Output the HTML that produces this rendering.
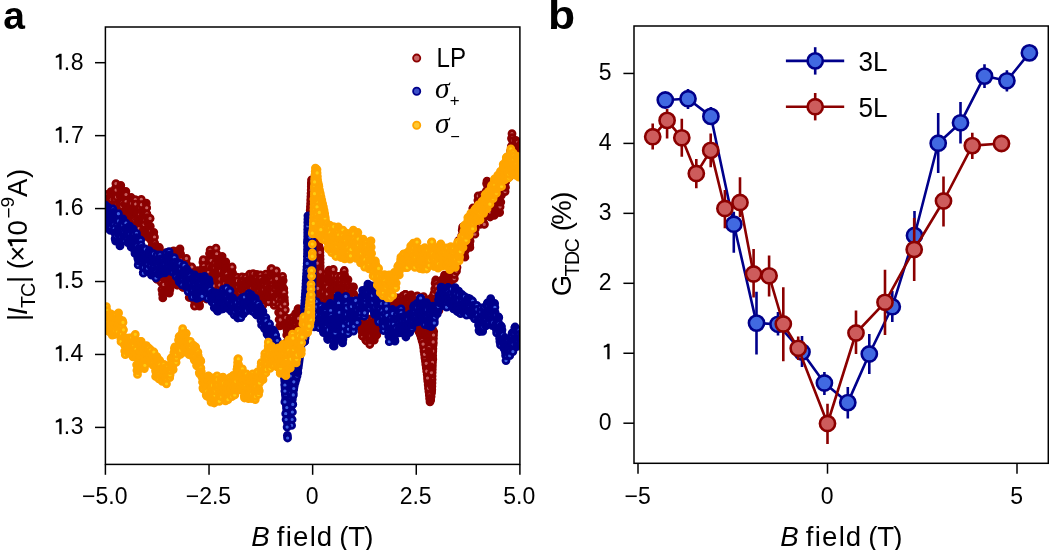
<!DOCTYPE html><html><head><meta charset="utf-8"><style>html,body{margin:0;padding:0;background:#fff;overflow:hidden}svg{display:block;will-change:transform}</style></head><body><svg width="1049" height="550" viewBox="0 0 1049 550" font-family='"Liberation Sans", sans-serif'>
<rect width="1049" height="550" fill="#fff"/>
<text x="3.36" y="29.10" font-size="39" font-weight="bold" font-family='"Liberation Sans", sans-serif'>a</text>
<text x="0" y="0" font-size="40" font-weight="bold" font-family='"Liberation Sans", sans-serif' transform="translate(547.89,29.10) scale(1.11,1)">b</text>
<clipPath id="ca"><rect x="105.4" y="27" width="414.5" height="437.4"/></clipPath>
<g clip-path="url(#ca)">
<path d="M311.1,239.9 L310.5,260.2 L310.5,260.3 L308.0,310.3 L308.0,310.6 L306.6,324.0 L307.2,324.0 L319.3,309.8 L319.3,309.5 L319.4,308.9 L319.5,308.3 L319.7,307.8 L319.9,307.2 L320.2,306.7 L320.6,306.2 L321.0,305.8 L321.4,305.4 L321.9,305.0 L322.4,304.7 L322.9,304.5 L323.5,304.3 L324.1,304.1 L324.7,304.0 L325.3,304.0 L327.9,304.0 L330.8,301.7 L335.4,296.2 L335.8,295.7 L336.2,295.3 L336.7,295.0 L337.2,294.7 L337.7,294.4 L338.3,294.3 L338.8,294.1 L339.4,294.0 L340.0,294.0 L350.0,294.0 L350.6,294.0 L350.8,294.1 L350.0,290.0 L350.0,290.0 L349.4,290.0 L348.8,289.9 L348.2,289.7 L347.7,289.5 L347.1,289.3 L346.6,289.0 L346.1,288.6 L345.7,288.2 L345.3,287.7 L345.0,287.2 L344.7,286.7 L344.4,286.2 L344.2,285.6 L340.4,272.0 L324.4,272.0 L323.8,272.0 L323.3,271.9 L322.7,271.7 L322.1,271.6 L321.6,271.3 L321.1,271.0 L320.6,270.7 L320.2,270.3 L319.8,269.9 L319.5,269.4 L319.2,268.9 L318.9,268.4 L318.7,267.8 L318.5,267.3 L318.4,266.7 L318.4,266.1 L318.0,247.6 L312.6,242.3 L312.2,241.9 L311.9,241.4 L311.5,240.9 L311.3,240.4ZM358.7,317.8 L360.7,331.5 L364.2,335.7 L368.7,339.3 L369.2,339.7 L369.7,339.1 L374.3,328.1 L376.3,319.9 L372.2,321.6 L371.7,321.8 L371.1,321.9 L370.6,322.0 L370.0,322.0 L365.0,322.0 L364.4,322.0 L363.8,321.9 L363.3,321.7 L362.7,321.6 L362.2,321.3 L361.7,321.0 L361.2,320.7 L360.8,320.3 L360.4,319.8ZM391.2,304.0 L393.8,304.0 L397.8,302.4 L398.3,302.2 L398.9,302.1 L399.5,302.0 L400.0,302.0 L400.6,302.0 L401.2,302.1 L401.8,302.3 L402.3,302.5 L402.8,302.7 L403.3,303.0 L403.8,303.4 L404.2,303.8 L407.5,307.0 L410.0,307.0 L410.6,307.0 L411.2,307.1 L411.8,307.3 L412.3,307.5 L412.8,307.7 L413.4,308.0 L413.8,308.4 L414.3,308.8 L414.7,309.2 L415.0,309.7 L415.3,310.2 L415.6,310.7 L415.8,311.3 L419.2,323.0 L419.3,323.5 L419.4,324.1 L419.4,324.7 L419.4,325.3 L419.3,325.9 L419.1,326.5 L419.1,326.6 L421.6,332.8 L421.7,333.3 L423.2,338.3 L423.3,338.5 L425.1,345.7 L425.2,346.3 L426.9,359.2 L428.9,374.2 L429.0,374.4 L430.1,385.7 L430.3,378.2 L430.3,378.1 L434.0,298.7 L434.1,298.2 L434.2,297.6 L434.3,297.1 L434.5,296.5 L434.8,296.0 L435.1,295.5 L435.4,295.1 L435.8,294.7 L436.3,294.3 L441.0,290.5 L445.1,286.4 L449.3,278.0 L434.6,278.0 L430.8,291.6 L430.6,292.2 L430.3,292.8 L430.0,293.3 L429.6,293.8 L429.2,294.3 L428.7,294.7 L423.7,298.7 L423.3,299.0 L422.8,299.3 L422.3,299.6 L421.7,299.7 L421.2,299.9 L420.6,300.0 L420.0,300.0 L419.4,300.0 L418.9,299.9 L418.3,299.8 L417.8,299.6 L409.4,296.2 L407.6,296.6 L403.7,299.7 L403.3,300.0 L402.8,300.3 L402.3,300.6 L401.7,300.8 L401.1,300.9 L400.6,301.0 L400.0,301.0 L396.7,301.0 L393.1,303.1 L392.7,303.4 L392.2,303.6ZM458.5,256.5 L460.5,255.5 L469.6,237.3 L469.9,236.8 L474.9,228.8 L475.3,228.3 L475.7,227.8 L476.2,227.4 L476.7,227.0 L478.9,225.5 L482.1,221.6 L484.9,216.9 L485.2,216.4 L485.5,216.0 L485.9,215.6 L486.3,215.3 L486.8,214.9 L487.3,214.7 L487.8,214.4 L492.3,212.6 L494.8,211.1 L499.2,193.5 L499.2,193.5 L506.2,167.3 L504.9,168.6 L500.4,177.7 L500.1,178.1 L499.9,178.5 L494.9,185.5 L494.5,186.0 L494.1,186.4 L493.7,186.8 L493.2,187.1 L492.6,187.4 L492.1,187.6 L491.5,187.8 L491.0,187.9 L490.4,188.0 L489.8,188.0 L489.2,187.9 L488.6,187.8 L488.0,187.7 L487.5,187.4 L487.0,187.2 L486.9,187.1 L485.8,191.5 L485.7,192.0 L485.4,192.6 L485.1,193.1 L484.8,193.6 L484.4,194.0 L484.0,194.4 L483.6,194.8 L483.1,195.1 L479.8,197.1 L475.5,207.3 L475.4,207.7 L470.4,217.6 L466.5,226.4 L466.2,227.0 L465.9,227.5 L465.5,228.0 L465.0,228.4 L464.6,228.8 L464.0,229.2 L463.5,229.5 L463.2,229.6 L460.9,241.1ZM512.1,152.5 L512.1,152.4 L512.6,152.1 L513.1,151.7 L513.6,151.5 L514.2,151.3 L514.8,151.1 L515.4,151.0 L516.0,151.0 L517.0,151.0 L517.0,147.2 L516.7,147.0 L516.2,146.6 L515.8,146.2 L513.2,143.7ZM109.0,219.7 L110.0,219.9 L113.8,219.1 L114.4,219.0 L115.0,219.0 L115.6,219.0 L116.2,219.1 L116.7,219.3 L117.3,219.5 L117.8,219.7 L118.3,220.0 L118.8,220.4 L119.2,220.8 L128.0,229.5 L131.2,230.1 L131.7,230.2 L132.2,230.4 L136.2,232.0 L140.0,232.0 L140.6,232.0 L141.1,232.1 L141.7,232.2 L142.2,232.4 L147.2,234.4 L147.8,234.7 L148.3,235.0 L148.7,235.3 L149.3,235.7 L149.2,235.5 L143.7,214.5 L143.5,213.7 L142.1,202.5 L139.4,202.0 L135.0,202.0 L134.4,202.0 L133.9,201.9 L133.3,201.8 L132.8,201.6 L127.8,199.6 L127.2,199.3 L126.7,199.0 L126.3,198.7 L125.8,198.3 L125.4,197.9 L125.1,197.4 L124.8,196.9 L120.5,189.3 L117.2,187.3 L115.5,186.5 L114.3,187.4 L109.9,193.5 L109.5,193.9 L109.1,194.3 L109.0,194.5ZM155.6,250.0 L160.9,284.6 L163.8,294.0 L165.7,293.3 L169.6,285.3 L169.9,284.8 L170.3,284.3 L170.7,283.9 L171.1,283.5 L171.6,283.1 L172.1,282.8 L172.6,282.5 L173.1,282.3 L173.7,282.1 L174.3,282.0 L174.9,282.0 L175.5,282.0 L176.1,282.1 L176.7,282.2 L177.2,282.4 L187.2,286.4 L187.8,286.7 L188.3,287.0 L188.7,287.3 L189.2,287.7 L189.6,288.1 L189.9,288.6 L190.2,289.1 L190.5,289.6 L190.7,290.1 L190.9,290.7 L194.3,306.0 L194.5,305.7 L194.7,305.2 L195.0,304.7 L195.4,304.2 L195.8,303.8 L200.8,298.8 L201.3,298.3 L201.9,297.9 L206.3,295.2 L210.8,290.8 L211.3,290.3 L211.9,289.9 L216.9,286.9 L217.4,286.6 L218.0,286.4 L218.5,286.2 L219.1,286.1 L219.7,286.0 L220.3,286.0 L220.9,286.1 L221.5,286.2 L222.0,286.4 L222.6,286.6 L223.1,286.9 L228.1,289.9 L228.7,290.3 L229.2,290.8 L233.4,294.9 L239.0,297.1 L241.3,295.3 L241.7,295.0 L242.2,294.7 L242.7,294.4 L243.3,294.2 L243.9,294.1 L244.4,294.0 L245.0,294.0 L250.0,294.0 L250.6,294.0 L251.2,294.1 L251.7,294.3 L252.3,294.5 L252.8,294.7 L253.3,295.0 L253.8,295.4 L254.2,295.8 L258.7,300.2 L262.7,302.6 L266.2,304.0 L268.8,304.0 L272.8,302.4 L273.3,302.2 L273.9,302.1 L274.5,302.0 L275.1,302.0 L275.7,302.0 L276.3,302.1 L276.8,302.3 L277.4,302.5 L277.9,302.8 L278.4,303.1 L278.9,303.4 L279.3,303.8 L279.7,304.3 L280.0,304.8 L280.3,305.3 L280.6,305.8 L280.8,306.4 L280.9,306.9 L281.0,307.5 L283.3,337.2 L284.1,332.9 L284.2,332.3 L284.4,331.8 L284.7,331.2 L285.0,330.7 L285.4,330.2 L285.8,329.8 L286.2,329.3 L286.7,329.0 L287.2,328.7 L287.8,328.4 L294.0,325.9 L294.0,322.5 L293.8,322.6 L293.3,323.0 L292.8,323.3 L292.3,323.5 L291.8,323.7 L291.2,323.9 L290.6,324.0 L290.0,324.0 L289.4,324.0 L288.9,323.9 L288.3,323.8 L287.7,323.6 L287.2,323.3 L286.7,323.0 L286.2,322.7 L285.8,322.3 L285.4,321.8 L285.0,321.4 L284.7,320.9 L284.5,320.4 L284.3,319.8 L284.1,319.2 L284.0,318.7 L282.0,300.7 L279.4,278.6 L276.9,277.1 L276.4,276.8 L275.9,276.4 L275.5,276.0 L275.1,275.5 L274.8,275.0 L274.5,274.5 L274.3,273.9 L272.8,269.3 L270.2,273.9 L269.9,274.4 L269.6,274.9 L269.2,275.3 L268.8,275.7 L268.3,276.0 L267.8,276.3 L267.3,276.5 L266.7,276.7 L266.2,276.9 L261.2,277.9 L260.6,278.0 L260.0,278.0 L259.4,278.0 L258.9,277.9 L258.3,277.8 L257.8,277.6 L257.2,277.3 L256.7,277.0 L256.3,276.7 L254.0,274.9 L253.1,275.2 L248.7,278.7 L248.3,279.0 L247.8,279.3 L247.3,279.6 L246.7,279.8 L246.1,279.9 L245.6,280.0 L245.0,280.0 L240.0,280.0 L239.4,280.0 L238.8,279.9 L238.3,279.7 L237.7,279.6 L237.2,279.3 L236.7,279.0 L236.2,278.7 L235.8,278.3 L235.4,277.8 L230.4,271.8 L229.9,271.2 L226.0,264.8 L222.8,263.6 L222.2,263.3 L221.7,263.0 L221.2,262.6 L220.7,262.2 L220.3,261.7 L219.9,261.2 L215.1,253.5 L213.2,251.2 L208.9,252.9 L205.3,257.9 L200.6,270.2 L200.4,270.7 L200.1,271.2 L199.7,271.7 L199.3,272.1 L198.9,272.6 L198.4,272.9 L197.9,273.2 L197.4,273.5 L196.8,273.7 L196.3,273.9 L195.7,274.0 L195.1,274.0 L194.5,274.0 L193.9,273.9 L193.3,273.8 L192.8,273.6 L192.2,273.3 L191.7,273.0 L191.2,272.7 L190.8,272.3 L190.4,271.8 L185.4,265.8 L185.1,265.4 L184.8,264.9 L179.9,256.2 L176.5,251.4 L176.1,251.3 L173.1,253.1 L172.6,253.4 L172.1,253.6 L171.6,253.8 L171.1,253.9 L170.5,254.0 L170.0,254.0 L165.0,254.0 L164.4,254.0 L163.9,253.9 L163.3,253.8 L162.8,253.6 L157.8,251.6 L157.2,251.3 L156.7,251.0 L156.2,250.7 L155.8,250.3Z" fill="#8b0000"/>
<path d="M418.8,333.9 L418.9,334.1 L421.9,344.1 L421.9,344.4 L422.0,344.6 L426.0,374.6 L426.0,374.7 L427.5,389.7 L428.9,402.8 L430.1,404.4 L431.6,402.7 L433.0,389.8 L434.0,349.9 L434.0,349.9 L435.0,330.8 L430.6,323.4 L416.1,327.1ZM308.6,327.0 L322.3,310.9 L321.0,246.3 L314.7,240.2 L314.5,239.9 L314.3,239.7 L314.2,239.4 L314.0,239.2 L313.9,238.9 L313.9,238.6 L313.8,238.3 L313.8,238.0 L313.5,200.0 L313.1,179.0 L310.4,179.0 L310.0,190.1 L310.0,190.1 L309.0,211.1 L307.5,260.1 L307.5,260.1 L305.0,310.1 L305.0,310.3 L303.3,327.0Z" fill="#8b0000"/>
<g fill="#8b0000" stroke="#8b0000" stroke-width="2.8"><circle cx="103.0" cy="201.0" r="3.0"/><circle cx="103.3" cy="205.8" r="3.0"/><circle cx="103.7" cy="209.3" r="3.0" fill="#c86060"/><circle cx="103.9" cy="215.5" r="3.0" fill="#c86060"/><circle cx="104.2" cy="209.3" r="3.0" fill="#c86060"/><circle cx="104.4" cy="205.2" r="3.0"/><circle cx="105.0" cy="197.2" r="3.0"/><circle cx="105.7" cy="194.4" r="3.0" fill="#c86060"/><circle cx="106.3" cy="199.5" r="3.0"/><circle cx="106.9" cy="204.5" r="3.0" fill="#c86060"/><circle cx="107.3" cy="208.8" r="3.0" fill="#c86060"/><circle cx="107.8" cy="213.7" r="3.0" fill="#c86060"/><circle cx="108.4" cy="219.9" r="3.0"/><circle cx="108.7" cy="222.2" r="3.0" fill="#c86060"/><circle cx="108.9" cy="218.4" r="3.0" fill="#c86060"/><circle cx="109.1" cy="215.3" r="3.0" fill="#c86060"/><circle cx="109.6" cy="207.4" r="3.0"/><circle cx="110.1" cy="199.8" r="3.0" fill="#c86060"/><circle cx="110.5" cy="193.7" r="3.0" fill="#c86060"/><circle cx="111.0" cy="191.7" r="3.0"/><circle cx="111.3" cy="199.4" r="3.0" fill="#c86060"/><circle cx="111.8" cy="205.8" r="3.0"/><circle cx="112.1" cy="212.2" r="3.0" fill="#c86060"/><circle cx="112.5" cy="219.9" r="3.0"/><circle cx="113.2" cy="221.7" r="3.0" fill="#c86060"/><circle cx="113.4" cy="217.2" r="3.0"/><circle cx="113.7" cy="213.0" r="3.0"/><circle cx="114.3" cy="206.4" r="3.0"/><circle cx="114.7" cy="199.0" r="3.0" fill="#c86060"/><circle cx="115.2" cy="191.5" r="3.0"/><circle cx="115.5" cy="188.2" r="3.0" fill="#c86060"/><circle cx="115.9" cy="183.6" r="3.0" fill="#c86060"/><circle cx="116.1" cy="190.1" r="3.0" fill="#c86060"/><circle cx="116.6" cy="197.0" r="3.0" fill="#c86060"/><circle cx="117.2" cy="204.4" r="3.0" fill="#c86060"/><circle cx="117.6" cy="208.5" r="3.0"/><circle cx="118.2" cy="215.2" r="3.0" fill="#c86060"/><circle cx="118.5" cy="220.4" r="3.0"/><circle cx="119.0" cy="223.1" r="3.0"/><circle cx="119.6" cy="217.2" r="3.0" fill="#c86060"/><circle cx="119.8" cy="210.5" r="3.0" fill="#c86060"/><circle cx="119.9" cy="204.2" r="3.0" fill="#c86060"/><circle cx="120.2" cy="196.2" r="3.0"/><circle cx="120.6" cy="188.6" r="3.0" fill="#c86060"/><circle cx="120.8" cy="185.4" r="3.0"/><circle cx="120.9" cy="192.1" r="3.0"/><circle cx="121.6" cy="199.8" r="3.0"/><circle cx="121.8" cy="203.0" r="3.0" fill="#c86060"/><circle cx="122.0" cy="206.5" r="3.0" fill="#c86060"/><circle cx="122.3" cy="212.9" r="3.0" fill="#c86060"/><circle cx="122.8" cy="216.1" r="3.0" fill="#c86060"/><circle cx="123.2" cy="221.3" r="3.0" fill="#c86060"/><circle cx="123.7" cy="226.9" r="3.0"/><circle cx="124.2" cy="227.6" r="3.0" fill="#c86060"/><circle cx="124.5" cy="220.5" r="3.0" fill="#c86060"/><circle cx="124.7" cy="212.5" r="3.0"/><circle cx="125.0" cy="204.5" r="3.0" fill="#c86060"/><circle cx="125.5" cy="197.3" r="3.0" fill="#c86060"/><circle cx="125.7" cy="193.2" r="3.0"/><circle cx="125.9" cy="191.3" r="3.0"/><circle cx="126.0" cy="194.5" r="3.0" fill="#c86060"/><circle cx="126.1" cy="201.6" r="3.0" fill="#c86060"/><circle cx="126.4" cy="206.7" r="3.0"/><circle cx="126.9" cy="210.8" r="3.0"/><circle cx="127.4" cy="217.4" r="3.0"/><circle cx="127.5" cy="220.8" r="3.0" fill="#c86060"/><circle cx="128.0" cy="225.4" r="3.0" fill="#c86060"/><circle cx="128.6" cy="228.6" r="3.0" fill="#c86060"/><circle cx="129.1" cy="229.1" r="3.0"/><circle cx="129.3" cy="221.8" r="3.0" fill="#c86060"/><circle cx="129.9" cy="216.0" r="3.0" fill="#c86060"/><circle cx="130.1" cy="209.6" r="3.0"/><circle cx="130.6" cy="206.5" r="3.0"/><circle cx="130.9" cy="201.5" r="3.0"/><circle cx="131.2" cy="197.5" r="3.0"/><circle cx="131.5" cy="203.5" r="3.0" fill="#c86060"/><circle cx="131.9" cy="211.1" r="3.0"/><circle cx="132.1" cy="216.4" r="3.0"/><circle cx="132.6" cy="221.6" r="3.0" fill="#c86060"/><circle cx="133.2" cy="227.1" r="3.0" fill="#c86060"/><circle cx="133.7" cy="228.2" r="3.0"/><circle cx="133.9" cy="225.0" r="3.0"/><circle cx="134.4" cy="219.8" r="3.0" fill="#c86060"/><circle cx="134.8" cy="212.0" r="3.0" fill="#c86060"/><circle cx="134.9" cy="204.4" r="3.0"/><circle cx="135.3" cy="199.6" r="3.0" fill="#c86060"/><circle cx="135.7" cy="204.1" r="3.0" fill="#c86060"/><circle cx="136.2" cy="209.8" r="3.0"/><circle cx="136.7" cy="213.6" r="3.0"/><circle cx="137.4" cy="219.4" r="3.0"/><circle cx="137.6" cy="227.0" r="3.0" fill="#c86060"/><circle cx="137.9" cy="232.9" r="3.0"/><circle cx="138.4" cy="233.3" r="3.0" fill="#c86060"/><circle cx="138.9" cy="228.7" r="3.0" fill="#c86060"/><circle cx="139.4" cy="221.2" r="3.0"/><circle cx="139.8" cy="214.1" r="3.0" fill="#c86060"/><circle cx="140.1" cy="207.2" r="3.0" fill="#c86060"/><circle cx="140.7" cy="203.1" r="3.0" fill="#c86060"/><circle cx="141.3" cy="199.3" r="3.0" fill="#c86060"/><circle cx="141.5" cy="204.7" r="3.0" fill="#c86060"/><circle cx="142.1" cy="211.4" r="3.0"/><circle cx="142.4" cy="216.8" r="3.0"/><circle cx="142.8" cy="224.5" r="3.0" fill="#c86060"/><circle cx="143.3" cy="230.1" r="3.0"/><circle cx="143.6" cy="235.7" r="3.0"/><circle cx="144.0" cy="232.2" r="3.0"/><circle cx="144.2" cy="224.5" r="3.0" fill="#c86060"/><circle cx="144.7" cy="219.2" r="3.0" fill="#c86060"/><circle cx="145.3" cy="215.6" r="3.0"/><circle cx="145.6" cy="211.0" r="3.0" fill="#c86060"/><circle cx="146.1" cy="207.5" r="3.0"/><circle cx="146.3" cy="203.2" r="3.0"/><circle cx="146.7" cy="207.8" r="3.0" fill="#c86060"/><circle cx="146.9" cy="213.8" r="3.0" fill="#c86060"/><circle cx="147.4" cy="217.6" r="3.0"/><circle cx="147.6" cy="222.7" r="3.0"/><circle cx="147.8" cy="228.7" r="3.0" fill="#c86060"/><circle cx="148.1" cy="232.5" r="3.0" fill="#c86060"/><circle cx="148.3" cy="237.3" r="3.0"/><circle cx="148.9" cy="231.7" r="3.0"/><circle cx="149.3" cy="225.7" r="3.0" fill="#c86060"/><circle cx="149.8" cy="218.5" r="3.0"/><circle cx="150.1" cy="218.4" r="3.0" fill="#c86060"/><circle cx="150.3" cy="226.3" r="3.0"/><circle cx="150.5" cy="231.5" r="3.0" fill="#c86060"/><circle cx="150.8" cy="235.7" r="3.0"/><circle cx="151.4" cy="240.7" r="3.0"/><circle cx="152.0" cy="245.7" r="3.0"/><circle cx="152.3" cy="252.3" r="3.0"/><circle cx="152.6" cy="252.4" r="3.0"/><circle cx="152.7" cy="245.8" r="3.0" fill="#c86060"/><circle cx="152.9" cy="238.9" r="3.0"/><circle cx="153.3" cy="234.8" r="3.0"/><circle cx="153.8" cy="232.3" r="3.0"/><circle cx="154.5" cy="237.0" r="3.0" fill="#c86060"/><circle cx="154.7" cy="243.0" r="3.0" fill="#c86060"/><circle cx="154.9" cy="246.4" r="3.0"/><circle cx="155.0" cy="252.7" r="3.0"/><circle cx="155.6" cy="258.0" r="3.0" fill="#c86060"/><circle cx="156.0" cy="265.2" r="3.0"/><circle cx="156.5" cy="270.0" r="3.0" fill="#c86060"/><circle cx="156.7" cy="273.6" r="3.0" fill="#c86060"/><circle cx="156.9" cy="279.1" r="3.0"/><circle cx="157.2" cy="279.2" r="3.0"/><circle cx="157.8" cy="273.5" r="3.0"/><circle cx="158.0" cy="269.3" r="3.0" fill="#c86060"/><circle cx="158.1" cy="262.3" r="3.0"/><circle cx="158.4" cy="256.9" r="3.0"/><circle cx="159.1" cy="249.2" r="3.0" fill="#c86060"/><circle cx="159.4" cy="247.5" r="3.0"/><circle cx="159.7" cy="252.2" r="3.0"/><circle cx="160.2" cy="255.5" r="3.0"/><circle cx="160.5" cy="261.6" r="3.0"/><circle cx="160.7" cy="266.1" r="3.0"/><circle cx="160.9" cy="271.3" r="3.0" fill="#c86060"/><circle cx="161.1" cy="275.7" r="3.0"/><circle cx="161.2" cy="282.3" r="3.0" fill="#c86060"/><circle cx="161.9" cy="289.6" r="3.0" fill="#c86060"/><circle cx="162.5" cy="294.0" r="3.0" fill="#c86060"/><circle cx="162.8" cy="297.9" r="3.0"/><circle cx="163.2" cy="291.8" r="3.0"/><circle cx="163.8" cy="284.4" r="3.0" fill="#c86060"/><circle cx="164.2" cy="278.3" r="3.0"/><circle cx="164.4" cy="274.8" r="3.0" fill="#c86060"/><circle cx="165.0" cy="268.8" r="3.0" fill="#c86060"/><circle cx="165.6" cy="264.7" r="3.0"/><circle cx="165.8" cy="258.7" r="3.0" fill="#c86060"/><circle cx="166.0" cy="253.6" r="3.0"/><circle cx="166.1" cy="252.6" r="3.0"/><circle cx="166.5" cy="257.8" r="3.0" fill="#c86060"/><circle cx="166.7" cy="264.2" r="3.0" fill="#c86060"/><circle cx="167.2" cy="267.6" r="3.0" fill="#c86060"/><circle cx="167.5" cy="275.0" r="3.0" fill="#c86060"/><circle cx="167.8" cy="278.1" r="3.0"/><circle cx="168.4" cy="284.1" r="3.0" fill="#c86060"/><circle cx="169.0" cy="291.0" r="3.0" fill="#c86060"/><circle cx="169.3" cy="293.1" r="3.0"/><circle cx="169.9" cy="289.4" r="3.0"/><circle cx="170.5" cy="285.0" r="3.0"/><circle cx="170.6" cy="277.0" r="3.0"/><circle cx="171.3" cy="270.2" r="3.0" fill="#c86060"/><circle cx="171.9" cy="263.3" r="3.0" fill="#c86060"/><circle cx="172.4" cy="259.0" r="3.0" fill="#c86060"/><circle cx="173.0" cy="251.5" r="3.0"/><circle cx="173.6" cy="250.9" r="3.0"/><circle cx="174.2" cy="255.4" r="3.0"/><circle cx="174.8" cy="260.3" r="3.0"/><circle cx="175.2" cy="267.2" r="3.0"/><circle cx="175.6" cy="273.0" r="3.0"/><circle cx="176.3" cy="276.7" r="3.0"/><circle cx="176.7" cy="280.0" r="3.0" fill="#c86060"/><circle cx="177.1" cy="284.9" r="3.0"/><circle cx="177.3" cy="285.2" r="3.0"/><circle cx="177.6" cy="280.6" r="3.0"/><circle cx="178.1" cy="273.2" r="3.0" fill="#c86060"/><circle cx="178.5" cy="267.1" r="3.0"/><circle cx="178.9" cy="260.8" r="3.0"/><circle cx="179.2" cy="255.7" r="3.0" fill="#c86060"/><circle cx="179.4" cy="251.6" r="3.0" fill="#c86060"/><circle cx="180.0" cy="248.9" r="3.0"/><circle cx="180.6" cy="253.8" r="3.0"/><circle cx="181.2" cy="260.0" r="3.0" fill="#c86060"/><circle cx="181.6" cy="264.3" r="3.0"/><circle cx="181.8" cy="270.8" r="3.0"/><circle cx="182.3" cy="276.8" r="3.0" fill="#c86060"/><circle cx="182.6" cy="280.2" r="3.0"/><circle cx="182.8" cy="287.2" r="3.0" fill="#c86060"/><circle cx="183.4" cy="287.4" r="3.0" fill="#c86060"/><circle cx="183.6" cy="283.9" r="3.0"/><circle cx="184.2" cy="277.4" r="3.0"/><circle cx="184.9" cy="272.2" r="3.0"/><circle cx="185.2" cy="269.1" r="3.0"/><circle cx="185.8" cy="261.6" r="3.0"/><circle cx="186.4" cy="258.4" r="3.0" fill="#c86060"/><circle cx="186.9" cy="264.7" r="3.0" fill="#c86060"/><circle cx="187.2" cy="268.9" r="3.0"/><circle cx="187.5" cy="275.0" r="3.0" fill="#c86060"/><circle cx="188.1" cy="279.6" r="3.0"/><circle cx="188.4" cy="284.2" r="3.0" fill="#c86060"/><circle cx="188.6" cy="290.5" r="3.0"/><circle cx="189.2" cy="297.5" r="3.0"/><circle cx="189.7" cy="292.8" r="3.0"/><circle cx="190.0" cy="287.4" r="3.0" fill="#c86060"/><circle cx="190.4" cy="281.1" r="3.0"/><circle cx="190.9" cy="276.9" r="3.0" fill="#c86060"/><circle cx="191.5" cy="270.4" r="3.0" fill="#c86060"/><circle cx="191.8" cy="267.0" r="3.0" fill="#c86060"/><circle cx="192.2" cy="273.2" r="3.0" fill="#c86060"/><circle cx="192.5" cy="281.2" r="3.0" fill="#c86060"/><circle cx="192.6" cy="286.1" r="3.0" fill="#c86060"/><circle cx="192.9" cy="291.2" r="3.0"/><circle cx="193.5" cy="296.8" r="3.0" fill="#c86060"/><circle cx="194.0" cy="300.0" r="3.0" fill="#c86060"/><circle cx="194.5" cy="305.0" r="3.0" fill="#c86060"/><circle cx="194.7" cy="306.2" r="3.0" fill="#c86060"/><circle cx="195.1" cy="301.3" r="3.0"/><circle cx="195.3" cy="297.4" r="3.0" fill="#c86060"/><circle cx="195.8" cy="290.9" r="3.0" fill="#c86060"/><circle cx="196.0" cy="287.1" r="3.0"/><circle cx="196.2" cy="281.3" r="3.0" fill="#c86060"/><circle cx="196.8" cy="275.9" r="3.0"/><circle cx="197.3" cy="270.7" r="3.0"/><circle cx="197.4" cy="276.2" r="3.0" fill="#c86060"/><circle cx="197.8" cy="283.0" r="3.0"/><circle cx="198.1" cy="289.6" r="3.0"/><circle cx="198.7" cy="295.5" r="3.0"/><circle cx="199.2" cy="299.2" r="3.0" fill="#c86060"/><circle cx="199.4" cy="304.5" r="3.0" fill="#c86060"/><circle cx="199.5" cy="306.2" r="3.0"/><circle cx="200.0" cy="298.6" r="3.0"/><circle cx="200.5" cy="293.0" r="3.0" fill="#c86060"/><circle cx="201.1" cy="289.5" r="3.0" fill="#c86060"/><circle cx="201.5" cy="284.3" r="3.0" fill="#c86060"/><circle cx="201.9" cy="280.8" r="3.0" fill="#c86060"/><circle cx="202.0" cy="276.1" r="3.0" fill="#c86060"/><circle cx="202.4" cy="268.7" r="3.0"/><circle cx="202.9" cy="262.2" r="3.0" fill="#c86060"/><circle cx="203.3" cy="259.7" r="3.0" fill="#c86060"/><circle cx="203.8" cy="265.8" r="3.0" fill="#c86060"/><circle cx="204.1" cy="270.1" r="3.0"/><circle cx="204.6" cy="273.6" r="3.0"/><circle cx="205.2" cy="281.0" r="3.0"/><circle cx="205.6" cy="287.0" r="3.0" fill="#c86060"/><circle cx="206.2" cy="293.6" r="3.0"/><circle cx="206.5" cy="299.0" r="3.0"/><circle cx="207.1" cy="294.6" r="3.0"/><circle cx="207.6" cy="287.5" r="3.0"/><circle cx="207.8" cy="282.4" r="3.0" fill="#c86060"/><circle cx="208.4" cy="276.1" r="3.0"/><circle cx="208.7" cy="272.0" r="3.0" fill="#c86060"/><circle cx="208.9" cy="266.4" r="3.0" fill="#c86060"/><circle cx="209.3" cy="259.5" r="3.0"/><circle cx="209.5" cy="253.6" r="3.0"/><circle cx="210.1" cy="250.1" r="3.0" fill="#c86060"/><circle cx="210.6" cy="254.0" r="3.0"/><circle cx="211.2" cy="260.5" r="3.0" fill="#c86060"/><circle cx="211.5" cy="268.0" r="3.0"/><circle cx="212.1" cy="275.5" r="3.0"/><circle cx="212.4" cy="282.9" r="3.0" fill="#c86060"/><circle cx="212.8" cy="289.3" r="3.0"/><circle cx="213.4" cy="290.3" r="3.0"/><circle cx="213.6" cy="285.8" r="3.0" fill="#c86060"/><circle cx="213.8" cy="278.8" r="3.0"/><circle cx="214.5" cy="272.6" r="3.0"/><circle cx="215.1" cy="267.7" r="3.0" fill="#c86060"/><circle cx="215.2" cy="263.1" r="3.0" fill="#c86060"/><circle cx="215.8" cy="255.2" r="3.0" fill="#c86060"/><circle cx="216.0" cy="248.2" r="3.0" fill="#c86060"/><circle cx="216.7" cy="253.8" r="3.0" fill="#c86060"/><circle cx="217.1" cy="259.5" r="3.0"/><circle cx="217.7" cy="264.8" r="3.0"/><circle cx="218.2" cy="268.3" r="3.0"/><circle cx="218.3" cy="274.1" r="3.0"/><circle cx="218.5" cy="279.7" r="3.0"/><circle cx="219.0" cy="285.9" r="3.0"/><circle cx="219.1" cy="288.6" r="3.0" fill="#c86060"/><circle cx="219.7" cy="285.0" r="3.0" fill="#c86060"/><circle cx="220.1" cy="278.9" r="3.0" fill="#c86060"/><circle cx="220.5" cy="271.0" r="3.0" fill="#c86060"/><circle cx="221.1" cy="265.7" r="3.0"/><circle cx="221.6" cy="260.2" r="3.0" fill="#c86060"/><circle cx="222.1" cy="256.3" r="3.0"/><circle cx="222.5" cy="261.2" r="3.0"/><circle cx="223.1" cy="264.7" r="3.0"/><circle cx="223.8" cy="272.1" r="3.0" fill="#c86060"/><circle cx="223.9" cy="279.5" r="3.0"/><circle cx="224.1" cy="286.7" r="3.0"/><circle cx="224.2" cy="290.6" r="3.0"/><circle cx="224.8" cy="283.5" r="3.0" fill="#c86060"/><circle cx="225.0" cy="276.7" r="3.0"/><circle cx="225.4" cy="271.9" r="3.0"/><circle cx="225.6" cy="267.3" r="3.0"/><circle cx="225.8" cy="261.8" r="3.0"/><circle cx="225.9" cy="265.3" r="3.0"/><circle cx="226.4" cy="268.4" r="3.0"/><circle cx="226.8" cy="274.1" r="3.0" fill="#c86060"/><circle cx="227.2" cy="278.5" r="3.0"/><circle cx="227.9" cy="284.5" r="3.0"/><circle cx="228.4" cy="290.5" r="3.0" fill="#c86060"/><circle cx="229.1" cy="292.6" r="3.0"/><circle cx="229.8" cy="286.5" r="3.0"/><circle cx="230.4" cy="282.3" r="3.0"/><circle cx="230.9" cy="275.8" r="3.0"/><circle cx="231.3" cy="271.2" r="3.0"/><circle cx="231.9" cy="268.1" r="3.0" fill="#c86060"/><circle cx="232.1" cy="267.0" r="3.0" fill="#c86060"/><circle cx="232.6" cy="272.9" r="3.0"/><circle cx="232.9" cy="277.5" r="3.0"/><circle cx="233.0" cy="282.0" r="3.0"/><circle cx="233.3" cy="288.4" r="3.0" fill="#c86060"/><circle cx="234.0" cy="293.9" r="3.0"/><circle cx="234.4" cy="297.5" r="3.0"/><circle cx="234.6" cy="298.1" r="3.0"/><circle cx="235.1" cy="293.0" r="3.0"/><circle cx="235.8" cy="285.3" r="3.0"/><circle cx="236.4" cy="282.3" r="3.0" fill="#c86060"/><circle cx="236.9" cy="277.2" r="3.0" fill="#c86060"/><circle cx="237.5" cy="280.7" r="3.0" fill="#c86060"/><circle cx="238.0" cy="287.3" r="3.0" fill="#c86060"/><circle cx="238.3" cy="292.7" r="3.0" fill="#c86060"/><circle cx="238.8" cy="298.4" r="3.0" fill="#c86060"/><circle cx="239.3" cy="300.1" r="3.0" fill="#c86060"/><circle cx="239.8" cy="296.6" r="3.0"/><circle cx="239.9" cy="292.1" r="3.0" fill="#c86060"/><circle cx="240.5" cy="288.8" r="3.0"/><circle cx="240.8" cy="284.8" r="3.0"/><circle cx="241.3" cy="281.0" r="3.0"/><circle cx="242.0" cy="276.9" r="3.0" fill="#c86060"/><circle cx="242.6" cy="280.8" r="3.0" fill="#c86060"/><circle cx="242.9" cy="284.4" r="3.0"/><circle cx="243.3" cy="291.6" r="3.0"/><circle cx="243.5" cy="297.0" r="3.0"/><circle cx="244.2" cy="297.8" r="3.0" fill="#c86060"/><circle cx="244.4" cy="292.3" r="3.0" fill="#c86060"/><circle cx="244.9" cy="286.4" r="3.0"/><circle cx="245.3" cy="278.8" r="3.0"/><circle cx="245.9" cy="277.2" r="3.0" fill="#c86060"/><circle cx="246.3" cy="281.1" r="3.0"/><circle cx="246.7" cy="287.1" r="3.0" fill="#c86060"/><circle cx="247.1" cy="292.9" r="3.0" fill="#c86060"/><circle cx="247.6" cy="296.3" r="3.0" fill="#c86060"/><circle cx="247.8" cy="297.1" r="3.0"/><circle cx="248.4" cy="289.6" r="3.0" fill="#c86060"/><circle cx="248.8" cy="285.0" r="3.0"/><circle cx="249.4" cy="279.1" r="3.0"/><circle cx="249.7" cy="274.2" r="3.0" fill="#c86060"/><circle cx="250.3" cy="280.7" r="3.0"/><circle cx="250.5" cy="287.3" r="3.0" fill="#c86060"/><circle cx="250.8" cy="293.9" r="3.0" fill="#c86060"/><circle cx="251.0" cy="295.3" r="3.0" fill="#c86060"/><circle cx="251.2" cy="291.7" r="3.0"/><circle cx="251.5" cy="287.8" r="3.0" fill="#c86060"/><circle cx="252.1" cy="282.1" r="3.0" fill="#c86060"/><circle cx="252.6" cy="274.7" r="3.0"/><circle cx="253.2" cy="273.7" r="3.0" fill="#c86060"/><circle cx="253.7" cy="280.5" r="3.0"/><circle cx="254.1" cy="285.3" r="3.0" fill="#c86060"/><circle cx="254.5" cy="289.4" r="3.0"/><circle cx="254.8" cy="297.2" r="3.0" fill="#c86060"/><circle cx="255.3" cy="300.7" r="3.0" fill="#c86060"/><circle cx="255.4" cy="296.5" r="3.0" fill="#c86060"/><circle cx="255.7" cy="292.2" r="3.0" fill="#c86060"/><circle cx="256.0" cy="286.1" r="3.0" fill="#c86060"/><circle cx="256.2" cy="282.8" r="3.0"/><circle cx="256.5" cy="276.7" r="3.0" fill="#c86060"/><circle cx="256.8" cy="274.5" r="3.0"/><circle cx="257.1" cy="277.9" r="3.0" fill="#c86060"/><circle cx="257.4" cy="281.9" r="3.0"/><circle cx="257.6" cy="289.4" r="3.0" fill="#c86060"/><circle cx="257.8" cy="296.7" r="3.0" fill="#c86060"/><circle cx="258.0" cy="300.2" r="3.0"/><circle cx="258.4" cy="303.4" r="3.0" fill="#c86060"/><circle cx="259.0" cy="297.6" r="3.0" fill="#c86060"/><circle cx="259.2" cy="294.1" r="3.0"/><circle cx="259.3" cy="290.9" r="3.0" fill="#c86060"/><circle cx="259.5" cy="285.7" r="3.0" fill="#c86060"/><circle cx="259.9" cy="278.5" r="3.0"/><circle cx="260.4" cy="274.8" r="3.0" fill="#c86060"/><circle cx="260.5" cy="278.8" r="3.0" fill="#c86060"/><circle cx="261.1" cy="282.5" r="3.0"/><circle cx="261.3" cy="287.2" r="3.0"/><circle cx="261.6" cy="292.2" r="3.0"/><circle cx="262.2" cy="296.8" r="3.0"/><circle cx="262.6" cy="302.4" r="3.0" fill="#c86060"/><circle cx="262.8" cy="305.3" r="3.0" fill="#c86060"/><circle cx="263.4" cy="299.8" r="3.0"/><circle cx="263.9" cy="295.2" r="3.0"/><circle cx="264.1" cy="289.5" r="3.0" fill="#c86060"/><circle cx="264.3" cy="283.9" r="3.0" fill="#c86060"/><circle cx="264.9" cy="280.8" r="3.0" fill="#c86060"/><circle cx="265.5" cy="275.6" r="3.0" fill="#c86060"/><circle cx="265.8" cy="274.2" r="3.0" fill="#c86060"/><circle cx="266.0" cy="277.6" r="3.0"/><circle cx="266.5" cy="281.9" r="3.0"/><circle cx="266.7" cy="286.4" r="3.0" fill="#c86060"/><circle cx="267.2" cy="290.0" r="3.0" fill="#c86060"/><circle cx="267.8" cy="293.0" r="3.0" fill="#c86060"/><circle cx="268.2" cy="298.4" r="3.0" fill="#c86060"/><circle cx="268.6" cy="301.9" r="3.0" fill="#c86060"/><circle cx="268.9" cy="296.8" r="3.0"/><circle cx="269.3" cy="291.5" r="3.0"/><circle cx="269.6" cy="287.1" r="3.0"/><circle cx="269.9" cy="281.0" r="3.0" fill="#c86060"/><circle cx="270.4" cy="276.1" r="3.0" fill="#c86060"/><circle cx="271.0" cy="268.8" r="3.0"/><circle cx="271.6" cy="268.7" r="3.0" fill="#c86060"/><circle cx="271.9" cy="273.9" r="3.0"/><circle cx="272.1" cy="280.7" r="3.0" fill="#c86060"/><circle cx="272.4" cy="285.0" r="3.0" fill="#c86060"/><circle cx="272.9" cy="288.7" r="3.0" fill="#c86060"/><circle cx="273.0" cy="292.4" r="3.0" fill="#c86060"/><circle cx="273.5" cy="299.1" r="3.0" fill="#c86060"/><circle cx="273.9" cy="303.0" r="3.0" fill="#c86060"/><circle cx="274.2" cy="305.4" r="3.0" fill="#c86060"/><circle cx="274.5" cy="301.8" r="3.0" fill="#c86060"/><circle cx="274.8" cy="296.4" r="3.0"/><circle cx="275.3" cy="288.9" r="3.0" fill="#c86060"/><circle cx="275.5" cy="282.9" r="3.0"/><circle cx="275.7" cy="278.5" r="3.0"/><circle cx="276.2" cy="274.0" r="3.0"/><circle cx="276.4" cy="270.8" r="3.0" fill="#c86060"/><circle cx="276.6" cy="278.6" r="3.0" fill="#c86060"/><circle cx="277.1" cy="286.5" r="3.0"/><circle cx="277.5" cy="292.9" r="3.0"/><circle cx="277.9" cy="299.0" r="3.0" fill="#c86060"/><circle cx="278.4" cy="304.5" r="3.0" fill="#c86060"/><circle cx="278.6" cy="312.3" r="3.0"/><circle cx="279.1" cy="319.5" r="3.0"/><circle cx="279.8" cy="325.8" r="3.0"/><circle cx="280.3" cy="319.8" r="3.0" fill="#c86060"/><circle cx="280.8" cy="313.0" r="3.0" fill="#c86060"/><circle cx="281.2" cy="306.5" r="3.0" fill="#c86060"/><circle cx="281.4" cy="299.2" r="3.0" fill="#c86060"/><circle cx="281.6" cy="291.5" r="3.0" fill="#c86060"/><circle cx="282.1" cy="283.9" r="3.0"/><circle cx="282.2" cy="280.3" r="3.0"/><circle cx="282.6" cy="276.4" r="3.0" fill="#c86060"/><circle cx="283.2" cy="280.5" r="3.0"/><circle cx="283.8" cy="288.5" r="3.0"/><circle cx="284.0" cy="292.4" r="3.0" fill="#c86060"/><circle cx="284.3" cy="297.5" r="3.0"/><circle cx="284.4" cy="300.8" r="3.0"/><circle cx="284.8" cy="304.0" r="3.0" fill="#c86060"/><circle cx="285.3" cy="309.8" r="3.0" fill="#c86060"/><circle cx="285.8" cy="317.7" r="3.0" fill="#c86060"/><circle cx="286.4" cy="324.1" r="3.0"/><circle cx="286.6" cy="327.7" r="3.0"/><circle cx="286.7" cy="335.0" r="3.0" fill="#c86060"/><circle cx="287.3" cy="341.5" r="3.0"/><circle cx="287.9" cy="342.2" r="3.0"/><circle cx="288.6" cy="338.9" r="3.0"/><circle cx="289.1" cy="334.7" r="3.0"/><circle cx="289.4" cy="329.2" r="3.0" fill="#c86060"/><circle cx="289.5" cy="322.6" r="3.0" fill="#c86060"/><circle cx="289.8" cy="319.0" r="3.0" fill="#c86060"/><circle cx="290.4" cy="325.9" r="3.0"/><circle cx="291.0" cy="330.7" r="3.0" fill="#c86060"/><circle cx="291.7" cy="325.6" r="3.0" fill="#c86060"/><circle cx="292.2" cy="318.7" r="3.0"/><circle cx="292.5" cy="317.4" r="3.0" fill="#c86060"/><circle cx="293.0" cy="322.7" r="3.0" fill="#c86060"/><circle cx="293.6" cy="329.3" r="3.0"/><circle cx="294.1" cy="329.4" r="3.0"/><circle cx="294.4" cy="325.2" r="3.0"/><circle cx="295.0" cy="318.8" r="3.0" fill="#c86060"/><circle cx="295.5" cy="313.7" r="3.0"/><circle cx="295.8" cy="321.4" r="3.0" fill="#c86060"/><circle cx="296.0" cy="324.8" r="3.0" fill="#c86060"/><circle cx="296.4" cy="328.5" r="3.0" fill="#c86060"/><circle cx="297.0" cy="320.7" r="3.0"/><circle cx="297.5" cy="316.9" r="3.0"/><circle cx="298.0" cy="309.0" r="3.0"/><circle cx="298.2" cy="308.9" r="3.0"/><circle cx="298.4" cy="314.6" r="3.0"/><circle cx="298.6" cy="318.4" r="3.0" fill="#c86060"/><circle cx="298.8" cy="326.0" r="3.0"/><circle cx="299.2" cy="327.4" r="3.0"/><circle cx="299.5" cy="324.2" r="3.0"/><circle cx="322.0" cy="285.4" r="3.0"/><circle cx="322.3" cy="282.2" r="3.0"/><circle cx="322.7" cy="276.2" r="3.0"/><circle cx="323.4" cy="274.3" r="3.0" fill="#c86060"/><circle cx="323.9" cy="279.5" r="3.0" fill="#c86060"/><circle cx="324.2" cy="283.3" r="3.0" fill="#c86060"/><circle cx="324.5" cy="289.0" r="3.0" fill="#c86060"/><circle cx="324.8" cy="296.0" r="3.0" fill="#c86060"/><circle cx="325.0" cy="302.9" r="3.0" fill="#c86060"/><circle cx="325.4" cy="306.2" r="3.0"/><circle cx="325.8" cy="307.0" r="3.0" fill="#c86060"/><circle cx="326.3" cy="302.4" r="3.0"/><circle cx="326.9" cy="298.0" r="3.0"/><circle cx="327.4" cy="293.9" r="3.0" fill="#c86060"/><circle cx="327.6" cy="287.2" r="3.0" fill="#c86060"/><circle cx="327.9" cy="279.8" r="3.0" fill="#c86060"/><circle cx="328.2" cy="276.3" r="3.0" fill="#c86060"/><circle cx="328.7" cy="271.5" r="3.0" fill="#c86060"/><circle cx="329.1" cy="270.1" r="3.0"/><circle cx="329.6" cy="275.3" r="3.0"/><circle cx="329.9" cy="282.1" r="3.0"/><circle cx="330.3" cy="290.1" r="3.0"/><circle cx="330.8" cy="297.5" r="3.0"/><circle cx="331.3" cy="299.6" r="3.0"/><circle cx="331.9" cy="292.2" r="3.0"/><circle cx="332.1" cy="286.6" r="3.0"/><circle cx="332.7" cy="278.8" r="3.0" fill="#c86060"/><circle cx="332.9" cy="272.9" r="3.0" fill="#c86060"/><circle cx="333.3" cy="269.4" r="3.0" fill="#c86060"/><circle cx="333.6" cy="275.8" r="3.0" fill="#c86060"/><circle cx="334.1" cy="281.8" r="3.0"/><circle cx="334.5" cy="288.0" r="3.0" fill="#c86060"/><circle cx="335.0" cy="295.7" r="3.0"/><circle cx="335.2" cy="300.6" r="3.0" fill="#c86060"/><circle cx="335.6" cy="292.8" r="3.0" fill="#c86060"/><circle cx="335.8" cy="289.0" r="3.0" fill="#c86060"/><circle cx="336.1" cy="284.1" r="3.0"/><circle cx="336.3" cy="278.4" r="3.0"/><circle cx="336.9" cy="276.1" r="3.0" fill="#c86060"/><circle cx="337.2" cy="280.8" r="3.0" fill="#c86060"/><circle cx="337.4" cy="284.5" r="3.0"/><circle cx="337.8" cy="289.7" r="3.0"/><circle cx="338.2" cy="296.7" r="3.0"/><circle cx="338.9" cy="298.4" r="3.0"/><circle cx="339.2" cy="294.5" r="3.0" fill="#c86060"/><circle cx="339.3" cy="289.6" r="3.0"/><circle cx="339.8" cy="283.3" r="3.0" fill="#c86060"/><circle cx="339.9" cy="278.6" r="3.0" fill="#c86060"/><circle cx="340.5" cy="276.2" r="3.0" fill="#c86060"/><circle cx="340.7" cy="280.8" r="3.0" fill="#c86060"/><circle cx="340.8" cy="284.4" r="3.0" fill="#c86060"/><circle cx="341.1" cy="289.3" r="3.0"/><circle cx="341.5" cy="295.5" r="3.0" fill="#c86060"/><circle cx="342.0" cy="296.1" r="3.0"/><circle cx="342.3" cy="292.4" r="3.0"/><circle cx="342.5" cy="289.3" r="3.0"/><circle cx="343.1" cy="285.2" r="3.0"/><circle cx="343.6" cy="278.1" r="3.0"/><circle cx="344.0" cy="272.0" r="3.0" fill="#c86060"/><circle cx="344.2" cy="270.5" r="3.0" fill="#c86060"/><circle cx="344.6" cy="275.0" r="3.0"/><circle cx="344.9" cy="282.4" r="3.0" fill="#c86060"/><circle cx="345.1" cy="290.3" r="3.0"/><circle cx="345.7" cy="294.5" r="3.0"/><circle cx="346.1" cy="297.0" r="3.0" fill="#c86060"/><circle cx="346.7" cy="293.8" r="3.0" fill="#c86060"/><circle cx="347.2" cy="289.8" r="3.0" fill="#c86060"/><circle cx="347.3" cy="282.3" r="3.0" fill="#c86060"/><circle cx="348.0" cy="279.6" r="3.0"/><circle cx="348.6" cy="287.2" r="3.0" fill="#c86060"/><circle cx="349.0" cy="294.1" r="3.0"/><circle cx="349.7" cy="297.1" r="3.0" fill="#c86060"/><circle cx="350.3" cy="293.9" r="3.0"/><circle cx="350.9" cy="288.2" r="3.0" fill="#c86060"/><circle cx="351.1" cy="294.3" r="3.0"/><circle cx="351.4" cy="299.9" r="3.0" fill="#c86060"/><circle cx="351.6" cy="304.4" r="3.0"/><circle cx="352.3" cy="301.3" r="3.0" fill="#c86060"/><circle cx="352.6" cy="295.1" r="3.0" fill="#c86060"/><circle cx="353.0" cy="287.2" r="3.0"/><circle cx="353.5" cy="286.9" r="3.0"/><circle cx="353.7" cy="293.8" r="3.0"/><circle cx="354.3" cy="297.8" r="3.0" fill="#c86060"/><circle cx="354.5" cy="305.7" r="3.0"/><circle cx="355.1" cy="313.4" r="3.0"/><circle cx="355.7" cy="317.0" r="3.0" fill="#c86060"/><circle cx="356.3" cy="311.3" r="3.0" fill="#c86060"/><circle cx="356.4" cy="303.8" r="3.0" fill="#c86060"/><circle cx="356.8" cy="300.2" r="3.0" fill="#c86060"/><circle cx="357.3" cy="298.9" r="3.0" fill="#c86060"/><circle cx="357.5" cy="304.1" r="3.0"/><circle cx="357.9" cy="311.5" r="3.0"/><circle cx="358.4" cy="314.9" r="3.0"/><circle cx="358.7" cy="321.7" r="3.0"/><circle cx="359.2" cy="325.3" r="3.0" fill="#c86060"/><circle cx="359.7" cy="326.4" r="3.0"/><circle cx="359.8" cy="322.6" r="3.0" fill="#c86060"/><circle cx="360.4" cy="316.3" r="3.0"/><circle cx="360.8" cy="313.8" r="3.0"/><circle cx="361.4" cy="320.4" r="3.0"/><circle cx="361.9" cy="326.8" r="3.0"/><circle cx="362.1" cy="331.8" r="3.0" fill="#c86060"/><circle cx="362.4" cy="336.0" r="3.0" fill="#c86060"/><circle cx="362.7" cy="336.2" r="3.0" fill="#c86060"/><circle cx="363.1" cy="332.2" r="3.0" fill="#c86060"/><circle cx="363.4" cy="329.1" r="3.0"/><circle cx="364.0" cy="324.4" r="3.0"/><circle cx="364.2" cy="319.9" r="3.0"/><circle cx="364.4" cy="318.2" r="3.0" fill="#c86060"/><circle cx="364.7" cy="325.3" r="3.0"/><circle cx="365.3" cy="333.1" r="3.0"/><circle cx="365.7" cy="339.9" r="3.0" fill="#c86060"/><circle cx="366.4" cy="340.9" r="3.0" fill="#c86060"/><circle cx="367.0" cy="333.0" r="3.0" fill="#c86060"/><circle cx="367.4" cy="328.5" r="3.0"/><circle cx="367.6" cy="325.3" r="3.0" fill="#c86060"/><circle cx="368.0" cy="318.9" r="3.0" fill="#c86060"/><circle cx="368.6" cy="323.7" r="3.0"/><circle cx="368.8" cy="328.6" r="3.0"/><circle cx="369.2" cy="333.6" r="3.0"/><circle cx="369.4" cy="340.2" r="3.0" fill="#c86060"/><circle cx="369.8" cy="344.5" r="3.0" fill="#c86060"/><circle cx="370.3" cy="339.7" r="3.0"/><circle cx="370.9" cy="335.6" r="3.0" fill="#c86060"/><circle cx="371.3" cy="328.3" r="3.0"/><circle cx="371.5" cy="324.5" r="3.0" fill="#c86060"/><circle cx="372.0" cy="320.0" r="3.0"/><circle cx="372.3" cy="319.1" r="3.0" fill="#c86060"/><circle cx="372.7" cy="322.6" r="3.0"/><circle cx="373.2" cy="329.4" r="3.0"/><circle cx="373.6" cy="334.7" r="3.0" fill="#c86060"/><circle cx="373.9" cy="339.1" r="3.0"/><circle cx="374.3" cy="340.1" r="3.0"/><circle cx="374.8" cy="333.4" r="3.0"/><circle cx="375.1" cy="327.3" r="3.0" fill="#c86060"/><circle cx="375.5" cy="319.8" r="3.0"/><circle cx="375.7" cy="324.2" r="3.0"/><circle cx="376.0" cy="329.1" r="3.0"/><circle cx="376.5" cy="334.8" r="3.0" fill="#c86060"/><circle cx="376.8" cy="334.8" r="3.0"/><circle cx="377.5" cy="328.0" r="3.0"/><circle cx="377.8" cy="322.9" r="3.0"/><circle cx="378.0" cy="316.4" r="3.0" fill="#c86060"/><circle cx="378.4" cy="315.6" r="3.0" fill="#c86060"/><circle cx="378.6" cy="322.7" r="3.0"/><circle cx="378.8" cy="326.3" r="3.0"/><circle cx="379.3" cy="328.8" r="3.0"/><circle cx="379.7" cy="324.6" r="3.0" fill="#c86060"/><circle cx="380.2" cy="318.1" r="3.0" fill="#c86060"/><circle cx="380.4" cy="314.9" r="3.0" fill="#c86060"/><circle cx="380.6" cy="314.8" r="3.0"/><circle cx="381.1" cy="322.3" r="3.0"/><circle cx="381.3" cy="316.8" r="3.0"/><circle cx="381.7" cy="313.5" r="3.0"/><circle cx="382.0" cy="310.3" r="3.0" fill="#c86060"/><circle cx="382.5" cy="313.3" r="3.0" fill="#c86060"/><circle cx="383.1" cy="314.6" r="3.0" fill="#c86060"/><circle cx="383.4" cy="311.8" r="3.0" fill="#c86060"/><circle cx="384.1" cy="307.4" r="3.0"/><circle cx="384.5" cy="303.8" r="3.0"/><circle cx="385.2" cy="307.0" r="3.0"/><circle cx="385.8" cy="302.9" r="3.0"/><circle cx="386.1" cy="302.7" r="3.0" fill="#c86060"/><circle cx="386.5" cy="306.9" r="3.0"/><circle cx="387.0" cy="302.1" r="3.0"/><circle cx="387.3" cy="306.7" r="3.0"/><circle cx="387.9" cy="302.6" r="3.0"/><circle cx="388.3" cy="301.8" r="3.0" fill="#c86060"/><circle cx="388.4" cy="307.1" r="3.0" fill="#c86060"/><circle cx="389.0" cy="301.4" r="3.0" fill="#c86060"/><circle cx="389.3" cy="306.2" r="3.0"/><circle cx="389.8" cy="301.0" r="3.0"/><circle cx="390.2" cy="304.8" r="3.0"/><circle cx="390.7" cy="307.1" r="3.0" fill="#c86060"/><circle cx="391.2" cy="304.1" r="3.0"/><circle cx="391.9" cy="300.2" r="3.0" fill="#c86060"/><circle cx="392.5" cy="306.6" r="3.0"/><circle cx="393.0" cy="303.0" r="3.0"/><circle cx="393.5" cy="307.1" r="3.0"/><circle cx="393.7" cy="299.6" r="3.0" fill="#c86060"/><circle cx="394.1" cy="299.1" r="3.0" fill="#c86060"/><circle cx="394.5" cy="305.4" r="3.0"/><circle cx="394.8" cy="307.1" r="3.0" fill="#c86060"/><circle cx="395.3" cy="303.9" r="3.0"/><circle cx="395.5" cy="299.2" r="3.0"/><circle cx="395.8" cy="298.0" r="3.0"/><circle cx="396.0" cy="302.9" r="3.0" fill="#c86060"/><circle cx="396.2" cy="303.1" r="3.0" fill="#c86060"/><circle cx="396.4" cy="298.6" r="3.0" fill="#c86060"/><circle cx="396.6" cy="302.9" r="3.0"/><circle cx="397.2" cy="305.9" r="3.0"/><circle cx="397.8" cy="299.8" r="3.0" fill="#c86060"/><circle cx="398.4" cy="298.0" r="3.0" fill="#c86060"/><circle cx="398.9" cy="302.9" r="3.0"/><circle cx="399.2" cy="304.6" r="3.0"/><circle cx="399.7" cy="298.4" r="3.0" fill="#c86060"/><circle cx="400.1" cy="303.0" r="3.0"/><circle cx="400.7" cy="305.2" r="3.0"/><circle cx="401.3" cy="301.8" r="3.0" fill="#c86060"/><circle cx="401.8" cy="299.9" r="3.0" fill="#c86060"/><circle cx="402.1" cy="304.6" r="3.0"/><circle cx="402.6" cy="307.1" r="3.0" fill="#c86060"/><circle cx="402.7" cy="301.0" r="3.0" fill="#c86060"/><circle cx="403.1" cy="295.7" r="3.0" fill="#c86060"/><circle cx="403.6" cy="303.2" r="3.0" fill="#c86060"/><circle cx="404.0" cy="308.5" r="3.0" fill="#c86060"/><circle cx="404.5" cy="305.0" r="3.0" fill="#c86060"/><circle cx="404.8" cy="299.6" r="3.0" fill="#c86060"/><circle cx="405.3" cy="294.5" r="3.0" fill="#c86060"/><circle cx="405.5" cy="294.3" r="3.0" fill="#c86060"/><circle cx="405.7" cy="301.3" r="3.0"/><circle cx="406.4" cy="307.2" r="3.0"/><circle cx="406.6" cy="310.1" r="3.0"/><circle cx="407.2" cy="306.7" r="3.0" fill="#c86060"/><circle cx="407.4" cy="302.3" r="3.0"/><circle cx="408.0" cy="297.6" r="3.0"/><circle cx="408.7" cy="301.6" r="3.0" fill="#c86060"/><circle cx="409.1" cy="308.3" r="3.0"/><circle cx="409.7" cy="310.1" r="3.0"/><circle cx="410.4" cy="305.4" r="3.0"/><circle cx="410.8" cy="299.1" r="3.0"/><circle cx="411.2" cy="295.0" r="3.0"/><circle cx="411.5" cy="302.2" r="3.0"/><circle cx="411.7" cy="307.9" r="3.0" fill="#c86060"/><circle cx="411.9" cy="313.3" r="3.0"/><circle cx="412.4" cy="314.7" r="3.0" fill="#c86060"/><circle cx="412.6" cy="309.1" r="3.0" fill="#c86060"/><circle cx="412.9" cy="303.6" r="3.0"/><circle cx="413.1" cy="300.1" r="3.0" fill="#c86060"/><circle cx="413.2" cy="298.0" r="3.0"/><circle cx="413.7" cy="304.3" r="3.0" fill="#c86060"/><circle cx="413.9" cy="311.0" r="3.0" fill="#c86060"/><circle cx="414.3" cy="316.8" r="3.0"/><circle cx="414.9" cy="320.7" r="3.0" fill="#c86060"/><circle cx="415.4" cy="321.2" r="3.0" fill="#c86060"/><circle cx="415.6" cy="315.6" r="3.0"/><circle cx="416.2" cy="309.4" r="3.0"/><circle cx="416.7" cy="305.7" r="3.0"/><circle cx="416.9" cy="301.6" r="3.0"/><circle cx="417.1" cy="298.3" r="3.0" fill="#c86060"/><circle cx="417.3" cy="295.8" r="3.0" fill="#c86060"/><circle cx="417.6" cy="301.1" r="3.0"/><circle cx="418.2" cy="309.0" r="3.0"/><circle cx="418.7" cy="313.8" r="3.0"/><circle cx="418.9" cy="318.4" r="3.0"/><circle cx="419.1" cy="324.5" r="3.0"/><circle cx="419.5" cy="328.4" r="3.0"/><circle cx="419.8" cy="331.7" r="3.0" fill="#c86060"/><circle cx="419.9" cy="333.3" r="3.0"/><circle cx="420.4" cy="329.6" r="3.0"/><circle cx="420.9" cy="323.0" r="3.0" fill="#c86060"/><circle cx="421.4" cy="315.5" r="3.0" fill="#c86060"/><circle cx="422.0" cy="309.3" r="3.0" fill="#c86060"/><circle cx="422.5" cy="302.4" r="3.0"/><circle cx="423.1" cy="298.8" r="3.0"/><circle cx="423.5" cy="296.6" r="3.0" fill="#c86060"/><circle cx="424.0" cy="300.1" r="3.0" fill="#c86060"/><circle cx="424.4" cy="306.9" r="3.0"/><circle cx="424.9" cy="314.0" r="3.0" fill="#c86060"/><circle cx="425.4" cy="320.6" r="3.0"/><circle cx="425.6" cy="326.5" r="3.0"/><circle cx="425.9" cy="331.7" r="3.0" fill="#c86060"/><circle cx="426.5" cy="336.0" r="3.0" fill="#c86060"/><circle cx="426.6" cy="342.1" r="3.0" fill="#c86060"/><circle cx="426.9" cy="349.1" r="3.0" fill="#c86060"/><circle cx="427.0" cy="354.3" r="3.0"/><circle cx="427.3" cy="361.8" r="3.0" fill="#c86060"/><circle cx="427.6" cy="368.9" r="3.0"/><circle cx="428.3" cy="373.6" r="3.0" fill="#c86060"/><circle cx="428.5" cy="376.5" r="3.0"/><circle cx="428.9" cy="371.8" r="3.0" fill="#c86060"/><circle cx="429.0" cy="366.2" r="3.0"/><circle cx="429.3" cy="362.7" r="3.0"/><circle cx="429.8" cy="357.0" r="3.0"/><circle cx="430.4" cy="351.5" r="3.0"/><circle cx="430.6" cy="345.3" r="3.0" fill="#c86060"/><circle cx="431.3" cy="340.6" r="3.0"/><circle cx="431.5" cy="335.0" r="3.0" fill="#c86060"/><circle cx="431.7" cy="327.8" r="3.0"/><circle cx="432.0" cy="323.7" r="3.0" fill="#c86060"/><circle cx="432.4" cy="320.2" r="3.0" fill="#c86060"/><circle cx="433.1" cy="312.9" r="3.0" fill="#c86060"/><circle cx="433.4" cy="306.3" r="3.0" fill="#c86060"/><circle cx="433.6" cy="299.3" r="3.0"/><circle cx="434.0" cy="293.5" r="3.0" fill="#c86060"/><circle cx="434.7" cy="289.1" r="3.0" fill="#c86060"/><circle cx="435.1" cy="283.3" r="3.0" fill="#c86060"/><circle cx="435.7" cy="280.0" r="3.0"/><circle cx="436.1" cy="283.0" r="3.0" fill="#c86060"/><circle cx="436.7" cy="286.4" r="3.0" fill="#c86060"/><circle cx="437.4" cy="291.3" r="3.0" fill="#c86060"/><circle cx="437.9" cy="298.2" r="3.0"/><circle cx="438.6" cy="303.7" r="3.0"/><circle cx="438.9" cy="310.6" r="3.0" fill="#c86060"/><circle cx="439.5" cy="307.0" r="3.0"/><circle cx="439.7" cy="301.2" r="3.0" fill="#c86060"/><circle cx="440.4" cy="295.1" r="3.0"/><circle cx="440.9" cy="288.6" r="3.0" fill="#c86060"/><circle cx="441.3" cy="282.1" r="3.0"/><circle cx="442.0" cy="279.9" r="3.0"/><circle cx="442.4" cy="287.3" r="3.0"/><circle cx="442.7" cy="292.2" r="3.0"/><circle cx="443.1" cy="293.6" r="3.0"/><circle cx="443.3" cy="289.0" r="3.0" fill="#c86060"/><circle cx="443.9" cy="282.5" r="3.0" fill="#c86060"/><circle cx="444.3" cy="277.1" r="3.0" fill="#c86060"/><circle cx="444.5" cy="275.2" r="3.0"/><circle cx="445.1" cy="282.0" r="3.0" fill="#c86060"/><circle cx="445.3" cy="288.1" r="3.0"/><circle cx="446.0" cy="290.4" r="3.0"/><circle cx="446.5" cy="284.7" r="3.0" fill="#c86060"/><circle cx="447.0" cy="282.7" r="3.0"/><circle cx="447.3" cy="284.9" r="3.0"/><circle cx="447.7" cy="280.7" r="3.0" fill="#c86060"/><circle cx="448.0" cy="275.3" r="3.0"/><circle cx="448.3" cy="280.6" r="3.0" fill="#c86060"/><circle cx="448.9" cy="284.8" r="3.0"/><circle cx="449.3" cy="277.0" r="3.0"/><circle cx="449.8" cy="276.9" r="3.0" fill="#c86060"/><circle cx="450.2" cy="281.8" r="3.0" fill="#c86060"/><circle cx="450.9" cy="285.3" r="3.0"/><circle cx="451.2" cy="279.1" r="3.0"/><circle cx="451.6" cy="273.6" r="3.0" fill="#c86060"/><circle cx="452.3" cy="267.9" r="3.0"/><circle cx="452.8" cy="271.3" r="3.0" fill="#c86060"/><circle cx="453.3" cy="274.3" r="3.0" fill="#c86060"/><circle cx="454.0" cy="278.4" r="3.0" fill="#c86060"/><circle cx="454.2" cy="278.7" r="3.0" fill="#c86060"/><circle cx="454.4" cy="274.5" r="3.0" fill="#c86060"/><circle cx="454.6" cy="270.2" r="3.0"/><circle cx="455.0" cy="262.8" r="3.0"/><circle cx="455.3" cy="255.4" r="3.0"/><circle cx="455.5" cy="250.7" r="3.0" fill="#c86060"/><circle cx="455.6" cy="249.3" r="3.0"/><circle cx="455.8" cy="255.5" r="3.0" fill="#c86060"/><circle cx="456.0" cy="260.6" r="3.0"/><circle cx="456.3" cy="267.4" r="3.0" fill="#c86060"/><circle cx="456.5" cy="271.1" r="3.0" fill="#c86060"/><circle cx="457.0" cy="267.3" r="3.0" fill="#c86060"/><circle cx="457.5" cy="261.6" r="3.0"/><circle cx="457.8" cy="255.8" r="3.0" fill="#c86060"/><circle cx="458.1" cy="248.7" r="3.0" fill="#c86060"/><circle cx="458.4" cy="242.5" r="3.0" fill="#c86060"/><circle cx="458.6" cy="240.6" r="3.0"/><circle cx="459.0" cy="246.7" r="3.0" fill="#c86060"/><circle cx="459.4" cy="254.1" r="3.0" fill="#c86060"/><circle cx="459.7" cy="256.6" r="3.0" fill="#c86060"/><circle cx="460.2" cy="249.9" r="3.0" fill="#c86060"/><circle cx="460.8" cy="245.2" r="3.0" fill="#c86060"/><circle cx="461.3" cy="239.6" r="3.0"/><circle cx="461.7" cy="235.6" r="3.0" fill="#c86060"/><circle cx="462.2" cy="230.2" r="3.0" fill="#c86060"/><circle cx="462.6" cy="227.2" r="3.0" fill="#c86060"/><circle cx="462.7" cy="234.8" r="3.0" fill="#c86060"/><circle cx="463.3" cy="241.5" r="3.0"/><circle cx="463.7" cy="246.5" r="3.0"/><circle cx="463.9" cy="250.9" r="3.0"/><circle cx="464.2" cy="254.0" r="3.0"/><circle cx="464.9" cy="257.2" r="3.0"/><circle cx="465.5" cy="250.2" r="3.0"/><circle cx="466.0" cy="243.5" r="3.0"/><circle cx="466.6" cy="239.4" r="3.0"/><circle cx="467.1" cy="236.0" r="3.0" fill="#c86060"/><circle cx="467.4" cy="231.3" r="3.0" fill="#c86060"/><circle cx="467.9" cy="224.5" r="3.0" fill="#c86060"/><circle cx="468.1" cy="222.7" r="3.0" fill="#c86060"/><circle cx="468.3" cy="230.7" r="3.0" fill="#c86060"/><circle cx="468.7" cy="235.3" r="3.0" fill="#c86060"/><circle cx="469.3" cy="238.8" r="3.0"/><circle cx="469.7" cy="244.7" r="3.0" fill="#c86060"/><circle cx="469.9" cy="247.4" r="3.0"/><circle cx="470.1" cy="241.0" r="3.0"/><circle cx="470.6" cy="233.2" r="3.0"/><circle cx="471.2" cy="226.0" r="3.0" fill="#c86060"/><circle cx="471.9" cy="219.2" r="3.0" fill="#c86060"/><circle cx="472.4" cy="213.6" r="3.0"/><circle cx="472.9" cy="208.4" r="3.0"/><circle cx="473.1" cy="208.0" r="3.0" fill="#c86060"/><circle cx="473.7" cy="214.7" r="3.0" fill="#c86060"/><circle cx="473.9" cy="220.6" r="3.0"/><circle cx="474.3" cy="228.3" r="3.0"/><circle cx="474.9" cy="234.2" r="3.0" fill="#c86060"/><circle cx="475.2" cy="229.0" r="3.0" fill="#c86060"/><circle cx="475.4" cy="223.0" r="3.0" fill="#c86060"/><circle cx="476.0" cy="217.0" r="3.0"/><circle cx="476.5" cy="213.8" r="3.0"/><circle cx="477.0" cy="210.3" r="3.0" fill="#c86060"/><circle cx="477.5" cy="206.6" r="3.0" fill="#c86060"/><circle cx="477.9" cy="200.3" r="3.0"/><circle cx="478.2" cy="195.9" r="3.0" fill="#c86060"/><circle cx="478.5" cy="203.0" r="3.0"/><circle cx="478.8" cy="207.3" r="3.0"/><circle cx="479.2" cy="210.8" r="3.0" fill="#c86060"/><circle cx="479.5" cy="217.3" r="3.0" fill="#c86060"/><circle cx="479.9" cy="222.4" r="3.0"/><circle cx="480.0" cy="224.3" r="3.0" fill="#c86060"/><circle cx="480.2" cy="217.8" r="3.0"/><circle cx="480.6" cy="213.9" r="3.0"/><circle cx="480.9" cy="210.8" r="3.0" fill="#c86060"/><circle cx="481.3" cy="203.9" r="3.0"/><circle cx="481.9" cy="199.4" r="3.0"/><circle cx="482.2" cy="194.9" r="3.0" fill="#c86060"/><circle cx="482.7" cy="199.0" r="3.0"/><circle cx="482.9" cy="204.0" r="3.0" fill="#c86060"/><circle cx="483.0" cy="208.3" r="3.0"/><circle cx="483.3" cy="212.3" r="3.0"/><circle cx="483.7" cy="217.6" r="3.0" fill="#c86060"/><circle cx="484.1" cy="223.9" r="3.0"/><circle cx="484.3" cy="224.4" r="3.0" fill="#c86060"/><circle cx="484.5" cy="216.5" r="3.0"/><circle cx="484.7" cy="211.9" r="3.0" fill="#c86060"/><circle cx="485.0" cy="207.5" r="3.0" fill="#c86060"/><circle cx="485.5" cy="201.1" r="3.0" fill="#c86060"/><circle cx="485.9" cy="196.4" r="3.0"/><circle cx="486.3" cy="190.9" r="3.0"/><circle cx="486.6" cy="183.6" r="3.0"/><circle cx="487.0" cy="181.1" r="3.0"/><circle cx="487.7" cy="185.6" r="3.0"/><circle cx="488.1" cy="189.7" r="3.0" fill="#c86060"/><circle cx="488.7" cy="193.6" r="3.0" fill="#c86060"/><circle cx="489.1" cy="197.2" r="3.0"/><circle cx="489.4" cy="204.5" r="3.0"/><circle cx="489.5" cy="210.8" r="3.0"/><circle cx="490.1" cy="217.0" r="3.0"/><circle cx="490.5" cy="212.4" r="3.0" fill="#c86060"/><circle cx="490.6" cy="207.9" r="3.0" fill="#c86060"/><circle cx="490.9" cy="201.5" r="3.0"/><circle cx="491.4" cy="193.9" r="3.0"/><circle cx="491.6" cy="189.3" r="3.0" fill="#c86060"/><circle cx="492.0" cy="187.8" r="3.0"/><circle cx="492.5" cy="190.8" r="3.0" fill="#c86060"/><circle cx="492.9" cy="198.1" r="3.0"/><circle cx="493.5" cy="201.5" r="3.0"/><circle cx="493.7" cy="206.2" r="3.0"/><circle cx="494.0" cy="209.3" r="3.0" fill="#c86060"/><circle cx="494.2" cy="215.4" r="3.0"/><circle cx="494.4" cy="209.5" r="3.0"/><circle cx="494.8" cy="205.5" r="3.0"/><circle cx="494.9" cy="202.2" r="3.0"/><circle cx="495.2" cy="198.6" r="3.0" fill="#c86060"/><circle cx="495.5" cy="194.4" r="3.0"/><circle cx="495.9" cy="188.3" r="3.0" fill="#c86060"/><circle cx="496.2" cy="183.3" r="3.0" fill="#c86060"/><circle cx="496.7" cy="180.3" r="3.0"/><circle cx="497.2" cy="187.8" r="3.0" fill="#c86060"/><circle cx="497.7" cy="192.8" r="3.0"/><circle cx="498.3" cy="200.0" r="3.0"/><circle cx="498.9" cy="204.7" r="3.0"/><circle cx="499.3" cy="212.4" r="3.0"/><circle cx="499.6" cy="212.3" r="3.0"/><circle cx="500.1" cy="206.8" r="3.0" fill="#c86060"/><circle cx="500.8" cy="202.1" r="3.0"/><circle cx="501.5" cy="195.1" r="3.0"/><circle cx="501.7" cy="188.0" r="3.0" fill="#c86060"/><circle cx="502.0" cy="181.4" r="3.0" fill="#c86060"/><circle cx="502.6" cy="173.7" r="3.0"/><circle cx="503.0" cy="169.0" r="3.0" fill="#c86060"/><circle cx="503.6" cy="168.1" r="3.0"/><circle cx="504.0" cy="175.2" r="3.0"/><circle cx="504.6" cy="183.1" r="3.0" fill="#c86060"/><circle cx="504.9" cy="187.9" r="3.0"/><circle cx="505.1" cy="191.6" r="3.0" fill="#c86060"/><circle cx="505.5" cy="187.3" r="3.0"/><circle cx="505.7" cy="181.7" r="3.0"/><circle cx="506.3" cy="176.8" r="3.0" fill="#c86060"/><circle cx="506.5" cy="169.1" r="3.0" fill="#c86060"/><circle cx="506.7" cy="163.3" r="3.0"/><circle cx="506.9" cy="159.4" r="3.0"/><circle cx="507.4" cy="162.6" r="3.0"/><circle cx="508.0" cy="169.4" r="3.0" fill="#c86060"/><circle cx="508.2" cy="173.3" r="3.0" fill="#c86060"/><circle cx="508.5" cy="177.3" r="3.0"/><circle cx="509.0" cy="177.1" r="3.0" fill="#c86060"/><circle cx="509.6" cy="172.4" r="3.0" fill="#c86060"/><circle cx="509.9" cy="166.9" r="3.0" fill="#c86060"/><circle cx="510.3" cy="160.6" r="3.0"/><circle cx="510.5" cy="155.4" r="3.0"/><circle cx="510.6" cy="151.0" r="3.0" fill="#c86060"/><circle cx="511.3" cy="146.3" r="3.0" fill="#c86060"/><circle cx="511.5" cy="138.4" r="3.0"/><circle cx="512.0" cy="133.7" r="3.0" fill="#c86060"/><circle cx="512.2" cy="137.6" r="3.0" fill="#c86060"/><circle cx="512.6" cy="140.6" r="3.0" fill="#c86060"/><circle cx="513.0" cy="146.0" r="3.0"/><circle cx="513.6" cy="153.5" r="3.0"/><circle cx="514.1" cy="159.2" r="3.0" fill="#c86060"/><circle cx="514.7" cy="156.1" r="3.0"/><circle cx="515.3" cy="149.3" r="3.0" fill="#c86060"/><circle cx="515.5" cy="145.9" r="3.0"/><circle cx="515.8" cy="140.3" r="3.0"/><circle cx="516.0" cy="148.2" r="3.0" fill="#c86060"/><circle cx="516.5" cy="150.2" r="3.0" fill="#c86060"/><circle cx="517.0" cy="142.5" r="3.0" fill="#c86060"/><circle cx="517.5" cy="142.4" r="3.0" fill="#c86060"/><circle cx="518.1" cy="147.1" r="3.0" fill="#c86060"/><circle cx="518.7" cy="152.2" r="3.0"/><circle cx="519.2" cy="154.1" r="3.0"/><circle cx="519.5" cy="148.7" r="3.0"/><circle cx="520.1" cy="144.9" r="3.0" fill="#c86060"/><circle cx="520.4" cy="151.1" r="3.0"/><circle cx="520.8" cy="146.4" r="3.0" fill="#c86060"/><circle cx="521.4" cy="146.2" r="3.0"/><circle cx="521.8" cy="149.6" r="3.0"/><circle cx="521.9" cy="153.3" r="3.0" fill="#c86060"/><circle cx="522.5" cy="154.1" r="3.0"/><circle cx="307.3" cy="290.0" r="3.0"/><circle cx="307.5" cy="285.1" r="3.0"/><circle cx="310.7" cy="200.1" r="3.0" fill="#c86060"/><circle cx="311.4" cy="248.4" r="3.0" fill="#c86060"/><circle cx="312.0" cy="187.2" r="3.0"/><circle cx="304.6" cy="325.8" r="3.0"/><circle cx="311.3" cy="294.3" r="3.0"/><circle cx="309.2" cy="244.3" r="3.0"/><circle cx="313.0" cy="268.0" r="3.0"/><circle cx="310.3" cy="323.2" r="3.0"/><circle cx="307.8" cy="278.3" r="3.0" fill="#c86060"/><circle cx="320.7" cy="289.8" r="3.0"/><circle cx="321.0" cy="298.5" r="3.0"/><circle cx="306.0" cy="312.3" r="3.0" fill="#c86060"/><circle cx="316.3" cy="252.9" r="3.0"/><circle cx="307.1" cy="291.9" r="3.0" fill="#c86060"/><circle cx="309.5" cy="234.1" r="3.0"/><circle cx="320.3" cy="269.4" r="3.0" fill="#c86060"/><circle cx="318.3" cy="274.9" r="3.0" fill="#c86060"/><circle cx="309.1" cy="325.0" r="3.0"/><circle cx="309.4" cy="237.5" r="3.0"/><circle cx="316.9" cy="259.7" r="3.0" fill="#c86060"/><circle cx="309.9" cy="215.1" r="3.0"/><circle cx="312.5" cy="228.0" r="3.0"/><circle cx="310.0" cy="217.1" r="3.0"/><circle cx="320.5" cy="283.0" r="3.0" fill="#c86060"/><circle cx="320.3" cy="272.8" r="3.0" fill="#c86060"/><circle cx="307.7" cy="279.4" r="3.0"/><circle cx="313.8" cy="255.1" r="3.0"/><circle cx="320.8" cy="296.6" r="3.0"/><circle cx="312.3" cy="307.2" r="3.0"/><circle cx="316.9" cy="307.0" r="3.0" fill="#c86060"/><circle cx="310.6" cy="221.2" r="3.0"/><circle cx="312.0" cy="259.7" r="3.0"/><circle cx="312.4" cy="207.6" r="3.0"/><circle cx="320.7" cy="293.2" r="3.0" fill="#c86060"/><circle cx="312.4" cy="298.9" r="3.0"/><circle cx="317.4" cy="267.5" r="3.0"/><circle cx="316.5" cy="243.6" r="3.0"/><circle cx="311.6" cy="291.2" r="3.0"/><circle cx="316.9" cy="283.3" r="3.0" fill="#c86060"/><circle cx="311.3" cy="186.5" r="3.0" fill="#c86060"/><circle cx="319.6" cy="260.5" r="3.0" fill="#c86060"/><circle cx="319.1" cy="312.8" r="3.0" fill="#c86060"/><circle cx="311.0" cy="320.6" r="3.0"/><circle cx="312.5" cy="221.2" r="3.0"/><circle cx="308.4" cy="313.6" r="3.0" fill="#c86060"/><circle cx="314.7" cy="308.8" r="3.0" fill="#c86060"/><circle cx="314.2" cy="278.1" r="3.0"/><circle cx="321.1" cy="310.2" r="3.0"/><circle cx="319.7" cy="309.5" r="3.0" fill="#c86060"/><circle cx="310.3" cy="211.0" r="3.0"/><circle cx="316.9" cy="315.4" r="3.0"/><circle cx="320.9" cy="300.0" r="3.0" fill="#c86060"/><circle cx="308.0" cy="325.8" r="3.0"/><circle cx="306.3" cy="308.9" r="3.0"/><circle cx="320.4" cy="276.2" r="3.0" fill="#c86060"/><circle cx="314.5" cy="301.4" r="3.0"/><circle cx="308.0" cy="271.4" r="3.0" fill="#c86060"/><circle cx="312.3" cy="264.4" r="3.0"/><circle cx="313.3" cy="275.3" r="3.0"/><circle cx="310.2" cy="210.3" r="3.0" fill="#c86060"/><circle cx="315.3" cy="249.0" r="3.0"/><circle cx="310.4" cy="206.9" r="3.0" fill="#c86060"/><circle cx="313.8" cy="285.9" r="3.0"/><circle cx="310.1" cy="213.7" r="3.0"/><circle cx="319.9" cy="249.0" r="3.0"/><circle cx="320.6" cy="286.4" r="3.0"/><circle cx="311.0" cy="193.3" r="3.0" fill="#c86060"/><circle cx="312.2" cy="194.0" r="3.0" fill="#c86060"/><circle cx="312.7" cy="252.4" r="3.0"/><circle cx="320.2" cy="266.0" r="3.0"/><circle cx="306.8" cy="298.7" r="3.0"/><circle cx="309.9" cy="308.8" r="3.0"/><circle cx="318.7" cy="280.6" r="3.0" fill="#c86060"/><circle cx="309.0" cy="275.8" r="3.0" fill="#c86060"/><circle cx="307.3" cy="288.5" r="3.0"/><circle cx="312.6" cy="234.8" r="3.0"/><circle cx="312.5" cy="231.4" r="3.0"/><circle cx="308.1" cy="271.5" r="3.0"/><circle cx="310.9" cy="196.7" r="3.0" fill="#c86060"/><circle cx="316.2" cy="297.9" r="3.0" fill="#c86060"/><circle cx="312.4" cy="217.8" r="3.0"/><circle cx="305.3" cy="319.0" r="3.0" fill="#c86060"/><circle cx="321.0" cy="306.8" r="3.0"/><circle cx="312.3" cy="204.2" r="3.0"/><circle cx="321.0" cy="291.5" r="3.0" fill="#c86060"/><circle cx="312.0" cy="318.4" r="3.0" fill="#c86060"/><circle cx="308.5" cy="264.7" r="3.0" fill="#c86060"/><circle cx="311.4" cy="183.1" r="3.0" fill="#c86060"/><circle cx="316.0" cy="257.5" r="3.0" fill="#c86060"/><circle cx="312.4" cy="214.4" r="3.0" fill="#c86060"/><circle cx="309.8" cy="223.9" r="3.0"/><circle cx="320.1" cy="262.6" r="3.0"/><circle cx="317.8" cy="290.6" r="3.0"/><circle cx="305.7" cy="315.6" r="3.0"/><circle cx="320.9" cy="303.4" r="3.0"/><circle cx="307.8" cy="298.2" r="3.0" fill="#c86060"/><circle cx="310.9" cy="272.0" r="3.0"/><circle cx="309.2" cy="282.6" r="3.0"/><circle cx="309.3" cy="244.0" r="3.0" fill="#c86060"/><circle cx="314.2" cy="240.9" r="3.0" fill="#c86060"/><circle cx="317.0" cy="313.0" r="3.0" fill="#c86060"/><circle cx="305.0" cy="322.4" r="3.0"/><circle cx="306.4" cy="305.5" r="3.0" fill="#c86060"/><circle cx="310.7" cy="302.2" r="3.0"/><circle cx="312.6" cy="314.3" r="3.0" fill="#c86060"/><circle cx="309.7" cy="318.9" r="3.0"/><circle cx="309.9" cy="220.5" r="3.0" fill="#c86060"/><circle cx="320.0" cy="255.8" r="3.0" fill="#c86060"/><circle cx="314.7" cy="318.0" r="3.0"/><circle cx="309.5" cy="240.9" r="3.0"/><circle cx="314.1" cy="241.2" r="3.0" fill="#c86060"/><circle cx="315.1" cy="294.7" r="3.0" fill="#c86060"/><circle cx="312.3" cy="200.8" r="3.0" fill="#c86060"/><circle cx="317.1" cy="244.5" r="3.0" fill="#c86060"/><circle cx="311.4" cy="183.8" r="3.0"/><circle cx="312.2" cy="197.4" r="3.0"/><circle cx="310.2" cy="287.9" r="3.0"/><circle cx="319.9" cy="252.4" r="3.0" fill="#c86060"/><circle cx="309.1" cy="247.7" r="3.0" fill="#c86060"/><circle cx="312.0" cy="183.8" r="3.0" fill="#c86060"/><circle cx="308.3" cy="268.1" r="3.0"/><circle cx="311.6" cy="179.8" r="3.0" fill="#c86060"/><circle cx="318.9" cy="245.9" r="3.0"/><circle cx="308.0" cy="274.9" r="3.0" fill="#c86060"/><circle cx="312.4" cy="211.0" r="3.0"/><circle cx="309.6" cy="230.7" r="3.0" fill="#c86060"/><circle cx="308.9" cy="254.5" r="3.0"/><circle cx="317.8" cy="301.3" r="3.0" fill="#c86060"/><circle cx="307.1" cy="325.0" r="3.0"/><circle cx="312.1" cy="190.6" r="3.0" fill="#c86060"/><circle cx="306.9" cy="295.3" r="3.0"/><circle cx="319.0" cy="295.6" r="3.0"/><circle cx="308.8" cy="267.4" r="3.0"/><circle cx="306.2" cy="321.4" r="3.0" fill="#c86060"/><circle cx="307.1" cy="305.1" r="3.0"/><circle cx="306.6" cy="302.1" r="3.0" fill="#c86060"/><circle cx="316.8" cy="272.4" r="3.0" fill="#c86060"/><circle cx="311.2" cy="189.9" r="3.0" fill="#c86060"/><circle cx="311.9" cy="236.1" r="3.0"/><circle cx="312.5" cy="320.6" r="3.0"/><circle cx="307.6" cy="281.7" r="3.0"/><circle cx="312.6" cy="238.2" r="3.0"/><circle cx="308.6" cy="261.3" r="3.0" fill="#c86060"/><circle cx="307.3" cy="311.2" r="3.0"/><circle cx="312.5" cy="224.6" r="3.0"/><circle cx="310.6" cy="203.5" r="3.0"/><circle cx="308.3" cy="295.5" r="3.0"/><circle cx="308.8" cy="257.9" r="3.0"/><circle cx="320.1" cy="259.2" r="3.0"/><circle cx="311.9" cy="180.4" r="3.0" fill="#c86060"/><circle cx="317.2" cy="263.2" r="3.0" fill="#c86060"/><circle cx="309.7" cy="227.3" r="3.0" fill="#c86060"/><circle cx="309.0" cy="251.1" r="3.0"/><circle cx="311.6" cy="282.5" r="3.0" fill="#c86060"/><circle cx="312.6" cy="244.6" r="3.0" fill="#c86060"/><circle cx="317.7" cy="288.3" r="3.0" fill="#c86060"/><circle cx="320.3" cy="271.8" r="3.0" fill="#c86060"/><circle cx="309.3" cy="240.9" r="3.0"/><circle cx="320.5" cy="279.6" r="3.0"/><circle cx="425.8" cy="364.5" r="3.0"/><circle cx="432.4" cy="365.8" r="3.0"/><circle cx="430.0" cy="401.8" r="3.0"/><circle cx="421.2" cy="337.6" r="3.0"/><circle cx="429.0" cy="376.7" r="3.0"/><circle cx="425.5" cy="357.2" r="3.0"/><circle cx="424.0" cy="350.9" r="3.0"/><circle cx="423.6" cy="347.5" r="3.0" fill="#c86060"/><circle cx="433.0" cy="345.3" r="3.0" fill="#c86060"/><circle cx="430.5" cy="325.7" r="3.0"/><circle cx="433.4" cy="338.5" r="3.0" fill="#c86060"/><circle cx="432.7" cy="352.1" r="3.0" fill="#c86060"/><circle cx="430.6" cy="331.0" r="3.0" fill="#c86060"/><circle cx="426.9" cy="331.8" r="3.0" fill="#c86060"/><circle cx="417.7" cy="327.9" r="3.0" fill="#c86060"/><circle cx="430.9" cy="363.3" r="3.0" fill="#c86060"/><circle cx="422.7" cy="336.0" r="3.0" fill="#c86060"/><circle cx="427.9" cy="381.4" r="3.0"/><circle cx="430.7" cy="399.9" r="3.0" fill="#c86060"/><circle cx="420.2" cy="334.3" r="3.0" fill="#c86060"/><circle cx="431.4" cy="392.3" r="3.0" fill="#c86060"/><circle cx="432.1" cy="376.1" r="3.0" fill="#c86060"/><circle cx="432.1" cy="379.5" r="3.0" fill="#c86060"/><circle cx="432.6" cy="335.5" r="3.0" fill="#c86060"/><circle cx="429.6" cy="370.0" r="3.0"/><circle cx="432.9" cy="348.7" r="3.0" fill="#c86060"/><circle cx="432.3" cy="328.6" r="3.0"/><circle cx="431.4" cy="393.1" r="3.0"/><circle cx="424.4" cy="339.1" r="3.0"/><circle cx="433.7" cy="331.6" r="3.0"/><circle cx="428.1" cy="358.0" r="3.0"/><circle cx="428.8" cy="334.2" r="3.0"/><circle cx="425.2" cy="353.8" r="3.0" fill="#c86060"/><circle cx="421.0" cy="327.1" r="3.0"/><circle cx="425.4" cy="361.1" r="3.0"/><circle cx="418.5" cy="330.8" r="3.0" fill="#c86060"/><circle cx="433.1" cy="343.6" r="3.0"/><circle cx="430.1" cy="328.1" r="3.0" fill="#c86060"/><circle cx="426.3" cy="367.8" r="3.0"/><circle cx="424.3" cy="326.2" r="3.0" fill="#c86060"/><circle cx="423.2" cy="341.7" r="3.0"/><circle cx="428.8" cy="344.2" r="3.0"/><circle cx="432.7" cy="355.5" r="3.0"/><circle cx="431.1" cy="396.5" r="3.0"/><circle cx="431.9" cy="338.0" r="3.0" fill="#c86060"/><circle cx="432.6" cy="359.0" r="3.0" fill="#c86060"/><circle cx="424.4" cy="349.5" r="3.0" fill="#c86060"/><circle cx="426.0" cy="327.7" r="3.0"/><circle cx="419.0" cy="331.1" r="3.0"/><circle cx="432.8" cy="359.2" r="3.0"/><circle cx="427.6" cy="325.4" r="3.0"/><circle cx="424.9" cy="357.7" r="3.0" fill="#c86060"/><circle cx="432.5" cy="362.4" r="3.0" fill="#c86060"/><circle cx="428.0" cy="380.3" r="3.0" fill="#c86060"/><circle cx="432.3" cy="369.2" r="3.0"/><circle cx="432.2" cy="372.6" r="3.0"/><circle cx="431.8" cy="389.7" r="3.0"/><circle cx="431.6" cy="389.6" r="3.0"/><circle cx="432.0" cy="382.9" r="3.0"/><circle cx="429.1" cy="355.6" r="3.0"/><circle cx="427.2" cy="374.6" r="3.0" fill="#c86060"/><circle cx="420.5" cy="328.4" r="3.0"/><circle cx="433.5" cy="335.0" r="3.0" fill="#c86060"/><circle cx="427.5" cy="378.0" r="3.0" fill="#c86060"/><circle cx="431.1" cy="345.5" r="3.0"/><circle cx="426.2" cy="363.3" r="3.0" fill="#c86060"/><circle cx="422.1" cy="340.8" r="3.0" fill="#c86060"/><circle cx="428.9" cy="391.6" r="3.0"/><circle cx="428.2" cy="384.8" r="3.0"/><circle cx="424.5" cy="354.3" r="3.0" fill="#c86060"/><circle cx="428.5" cy="388.2" r="3.0" fill="#c86060"/><circle cx="420.6" cy="332.7" r="3.0"/><circle cx="431.9" cy="386.3" r="3.0"/><circle cx="428.0" cy="338.7" r="3.0"/><circle cx="429.3" cy="395.0" r="3.0" fill="#c86060"/><circle cx="426.7" cy="371.2" r="3.0" fill="#c86060"/><circle cx="429.6" cy="398.4" r="3.0"/><circle cx="432.8" cy="351.0" r="3.0" fill="#c86060"/><circle cx="431.4" cy="372.6" r="3.0" fill="#c86060"/><circle cx="430.8" cy="367.0" r="3.0"/><circle cx="423.1" cy="344.1" r="3.0" fill="#c86060"/><circle cx="433.2" cy="341.9" r="3.0" fill="#c86060"/><circle cx="429.0" cy="347.5" r="3.0" fill="#c86060"/><circle cx="428.7" cy="351.4" r="3.0"/></g>
<path d="M109.0,211.9 L109.0,225.5 L109.2,225.7 L109.6,226.2 L114.6,232.2 L115.0,232.6 L115.3,233.1 L115.5,233.7 L115.7,234.2 L118.4,242.6 L119.8,240.1 L120.1,239.6 L120.4,239.1 L120.8,238.7 L121.2,238.3 L121.7,238.0 L122.2,237.7 L122.7,237.4 L123.3,237.3 L123.8,237.1 L124.4,237.0 L125.0,237.0 L125.6,237.0 L126.2,237.1 L126.7,237.3 L127.3,237.4 L127.8,237.7 L128.3,238.0 L128.8,238.3 L129.2,238.7 L129.6,239.1 L129.9,239.6 L130.2,240.1 L135.2,249.1 L135.5,249.7 L140.5,261.7 L140.7,262.0 L144.7,273.4 L145.0,273.5 L147.8,272.4 L148.3,272.2 L148.9,272.1 L149.4,272.0 L150.0,272.0 L150.6,272.0 L151.2,272.1 L151.7,272.3 L152.3,272.4 L152.8,272.7 L153.3,273.0 L153.7,273.3 L154.2,273.6 L155.4,272.2 L155.8,271.7 L156.2,271.3 L156.7,271.0 L157.2,270.7 L157.7,270.4 L158.3,270.3 L158.8,270.1 L159.4,270.0 L160.0,270.0 L163.8,270.0 L167.8,268.4 L168.3,268.2 L168.9,268.1 L169.5,268.0 L170.0,268.0 L170.6,268.0 L171.2,268.1 L171.8,268.3 L172.3,268.5 L172.8,268.7 L173.3,269.0 L173.8,269.3 L174.2,269.7 L174.6,270.2 L179.6,276.2 L180.1,276.8 L184.0,283.2 L187.2,284.4 L187.8,284.7 L188.3,285.0 L188.8,285.4 L189.3,285.8 L189.7,286.3 L190.1,286.8 L190.4,287.3 L194.3,295.3 L195.0,295.5 L202.8,292.4 L203.3,292.2 L203.9,292.1 L204.5,292.0 L205.1,292.0 L205.7,292.0 L206.3,292.1 L206.9,292.3 L207.4,292.5 L208.0,292.8 L208.5,293.1 L208.9,293.5 L209.4,293.9 L209.7,294.3 L210.1,294.8 L215.1,302.8 L215.4,303.3 L217.8,308.1 L221.3,305.3 L221.7,305.0 L222.2,304.7 L222.7,304.4 L223.3,304.2 L223.9,304.1 L224.4,304.0 L225.0,304.0 L225.6,304.0 L226.1,304.1 L226.7,304.2 L227.3,304.4 L227.8,304.7 L228.3,305.0 L228.7,305.3 L233.7,309.3 L234.3,309.8 L234.7,310.3 L235.1,310.8 L237.5,314.7 L239.9,310.8 L240.3,310.3 L240.7,309.9 L241.1,309.4 L241.6,309.1 L242.1,308.7 L242.7,308.5 L243.2,308.3 L243.8,308.1 L248.8,307.1 L249.4,307.0 L250.0,307.0 L250.6,307.0 L251.1,307.1 L251.7,307.2 L252.2,307.4 L252.8,307.7 L253.3,308.0 L253.7,308.3 L257.5,311.3 L254.9,307.2 L254.8,306.9 L250.3,298.9 L247.4,296.6 L247.3,296.6 L244.6,299.8 L244.2,300.3 L243.7,300.7 L238.7,304.7 L238.3,305.0 L237.8,305.3 L237.2,305.6 L236.7,305.8 L236.1,305.9 L235.5,306.0 L235.0,306.0 L234.4,306.0 L233.8,305.9 L233.2,305.7 L232.7,305.5 L232.2,305.3 L231.7,305.0 L231.2,304.6 L230.8,304.2 L230.4,303.8 L230.0,303.3 L229.7,302.8 L229.5,302.3 L225.5,292.8 L224.6,293.8 L224.2,294.3 L223.8,294.7 L223.3,295.0 L222.8,295.3 L222.3,295.5 L221.8,295.7 L221.2,295.9 L220.6,296.0 L220.0,296.0 L219.5,296.0 L218.9,295.9 L218.3,295.8 L217.8,295.6 L212.8,293.6 L212.2,293.3 L211.7,293.0 L211.2,292.6 L210.7,292.2 L210.3,291.7 L209.9,291.2 L209.6,290.7 L205.1,281.6 L203.0,279.5 L201.2,279.9 L200.6,280.0 L200.0,280.0 L199.5,280.0 L198.9,279.9 L198.3,279.8 L197.8,279.6 L187.8,275.6 L187.2,275.3 L186.7,275.0 L186.2,274.7 L185.8,274.3 L185.4,273.8 L180.4,267.8 L179.9,267.2 L176.7,262.0 L175.0,262.0 L174.4,262.0 L173.8,261.9 L173.2,261.7 L172.6,261.5 L172.1,261.2 L171.6,260.9 L171.1,260.6 L170.7,260.1 L170.3,259.7 L169.9,259.2 L167.6,255.4 L162.2,257.6 L161.7,257.8 L161.1,257.9 L160.6,258.0 L160.0,258.0 L155.0,258.0 L154.4,258.0 L153.9,257.9 L153.3,257.8 L152.7,257.6 L152.2,257.3 L151.7,257.0 L151.3,256.7 L146.9,253.2 L142.8,251.6 L142.2,251.3 L141.7,251.0 L141.2,250.6 L140.7,250.2 L140.3,249.7 L139.9,249.2 L139.6,248.7 L134.8,238.9 L130.3,231.8 L115.8,217.2 L115.4,216.9 L115.1,216.5 L111.9,212.0 L110.0,212.0 L109.4,212.0ZM281.7,348.7 L283.4,356.3 L283.5,357.0 L284.0,362.3 L286.4,379.1 L286.5,379.8 L287.0,391.6 L288.5,409.5 L288.6,410.8 L290.6,399.1 L292.0,387.3 L292.1,386.8 L292.2,386.4 L296.0,372.9 L296.0,372.0 L296.0,371.4 L296.1,370.8 L296.3,370.3 L296.5,369.7 L296.7,369.2 L297.0,368.7 L297.4,368.2 L297.8,367.8 L298.2,367.4 L298.7,367.0 L299.2,366.7 L299.7,366.5 L301.7,350.7 L301.6,350.7 L301.0,350.8 L300.4,350.8 L299.8,350.8ZM306.5,313.5 L307.0,309.2 L307.2,308.7 L307.3,308.1 L307.5,307.6 L307.8,307.0 L308.1,306.5 L308.5,306.1 L308.9,305.7 L309.3,305.3 L309.8,304.9 L310.3,304.7 L310.8,304.4 L311.4,304.2 L311.9,304.1 L312.5,304.0 L313.1,304.0 L313.4,304.0 L313.3,304.0 L312.8,303.6 L312.3,303.2 L311.9,302.8 L311.5,302.3 L311.2,301.8 L310.9,301.2 L310.7,300.7 L310.5,300.1 L310.4,299.5 L310.4,298.8 L310.4,250.2 L309.5,233.9 L309.2,260.1 L309.2,260.4 L306.5,304.7ZM318.1,306.9 L318.3,307.2 L318.6,307.7 L318.7,308.3 L318.9,308.8 L319.0,309.4 L319.0,310.0 L319.0,326.0 L320.0,326.0 L320.6,326.0 L321.2,326.1 L321.8,326.3 L322.4,326.5 L322.9,326.7 L323.4,327.1 L323.9,327.4 L324.3,327.8 L324.7,328.3 L325.1,328.8 L325.4,329.3 L330.4,339.3 L330.6,339.8 L334.3,349.5 L334.8,348.9 L339.5,337.7 L339.7,337.2 L340.0,336.6 L340.4,336.2 L345.4,330.2 L345.8,329.7 L346.2,329.3 L346.7,329.0 L347.2,328.7 L347.7,328.4 L348.3,328.3 L348.8,328.1 L349.4,328.0 L350.0,328.0 L350.3,328.0 L352.2,320.5 L352.3,320.0 L352.6,319.5 L352.8,319.0 L353.1,318.5 L353.5,318.1 L353.9,317.6 L354.3,317.3 L354.8,316.9 L355.3,316.7 L355.8,316.4 L356.3,316.2 L356.9,316.1 L357.4,316.0 L358.0,316.0 L359.0,316.0 L360.2,314.4 L360.5,314.0 L360.9,313.6 L361.3,313.3 L366.3,309.3 L366.7,309.0 L367.2,308.7 L367.8,308.4 L368.4,308.2 L368.9,308.1 L369.5,308.0 L370.1,308.0 L370.7,308.0 L371.3,308.1 L371.9,308.3 L372.4,308.5 L373.0,308.8 L373.5,309.1 L373.9,309.5 L374.4,309.9 L374.7,310.3 L375.1,310.8 L385.1,326.8 L385.4,327.4 L385.7,328.0 L389.7,339.4 L390.0,339.5 L390.8,339.2 L394.8,332.1 L395.1,331.6 L395.4,331.1 L395.8,330.7 L396.2,330.3 L396.7,330.0 L397.2,329.7 L397.7,329.4 L398.3,329.2 L398.9,329.1 L399.4,329.0 L400.0,329.0 L400.6,329.0 L401.2,329.1 L401.7,329.3 L402.3,329.5 L402.8,329.7 L403.3,330.0 L403.8,330.3 L404.2,330.7 L404.6,331.2 L405.0,331.6 L409.6,322.3 L409.9,321.8 L410.3,321.3 L410.6,320.9 L411.0,320.5 L411.5,320.1 L412.0,319.8 L412.5,319.5 L413.0,319.3 L413.6,319.2 L414.2,319.1 L414.8,319.0 L415.3,319.0 L415.9,319.1 L416.5,319.2 L417.0,319.4 L417.6,319.6 L418.1,319.9 L422.2,322.3 L426.2,323.1 L426.7,323.2 L427.2,323.4 L428.2,323.8 L429.6,322.1 L433.8,308.7 L433.1,309.1 L432.6,309.4 L432.0,309.7 L431.4,309.8 L430.8,309.9 L430.2,310.0 L429.6,310.0 L429.0,309.9 L428.4,309.8 L427.8,309.6 L427.3,309.3 L426.7,309.0 L426.3,308.7 L425.8,308.3 L425.4,307.8 L420.8,302.4 L419.6,303.8 L419.2,304.2 L409.2,314.2 L408.8,314.6 L408.3,315.0 L407.8,315.3 L407.3,315.5 L406.7,315.7 L406.2,315.9 L405.6,316.0 L405.0,316.0 L404.4,316.0 L403.8,315.9 L403.3,315.7 L402.7,315.5 L402.2,315.3 L401.7,315.0 L401.2,314.6 L400.8,314.2 L399.1,312.6 L398.1,313.1 L397.6,313.4 L397.0,313.6 L396.5,313.8 L395.9,313.9 L395.3,314.0 L394.7,314.0 L394.1,313.9 L393.5,313.8 L393.0,313.6 L392.4,313.4 L391.9,313.1 L386.9,310.1 L386.3,309.7 L385.8,309.2 L380.8,304.2 L380.3,303.8 L380.0,303.2 L379.6,302.7 L375.2,293.9 L366.9,287.2 L366.8,287.2 L363.9,303.1 L363.8,303.7 L363.6,304.2 L363.3,304.8 L363.0,305.3 L362.7,305.8 L362.3,306.2 L361.8,306.6 L361.3,307.0 L360.8,307.3 L360.3,307.5 L359.7,307.7 L359.1,307.9 L358.6,308.0 L358.0,308.0 L357.4,308.0 L356.8,307.9 L356.2,307.7 L355.6,307.5 L355.1,307.2 L354.6,306.9 L354.1,306.6 L353.7,306.1 L353.3,305.7 L352.9,305.2 L352.6,304.7 L350.2,299.9 L347.9,298.0 L345.0,298.0 L344.4,298.0 L343.9,297.9 L343.3,297.8 L342.8,297.6 L340.0,296.5 L338.6,297.0 L329.6,307.8 L329.2,308.3 L328.7,308.7 L328.3,309.0 L327.7,309.3 L327.2,309.6 L326.6,309.8 L326.0,309.9 L325.4,310.0 L324.8,310.0 L324.2,309.9 L323.6,309.8 L323.0,309.7 L322.4,309.4 L321.9,309.1ZM440.6,303.0 L441.2,303.1 L446.2,304.1 L446.7,304.2 L447.2,304.4 L452.2,306.4 L452.7,306.6 L453.1,306.9 L457.7,309.6 L462.2,311.4 L462.7,311.6 L463.1,311.9 L465.5,313.3 L467.8,312.4 L468.3,312.2 L468.9,312.1 L469.5,312.0 L470.1,312.0 L470.7,312.0 L471.3,312.1 L471.8,312.3 L472.4,312.5 L472.9,312.8 L473.4,313.1 L473.9,313.4 L474.3,313.8 L474.7,314.3 L475.1,314.8 L475.4,315.3 L475.6,315.8 L475.8,316.4 L479.1,328.3 L479.8,327.1 L479.9,326.9 L482.9,321.9 L483.2,321.4 L483.5,321.0 L483.9,320.6 L484.4,320.2 L484.9,319.9 L485.4,319.6 L485.9,319.4 L486.5,319.2 L487.0,319.1 L487.6,319.0 L488.2,319.0 L488.8,319.0 L489.3,319.1 L489.9,319.3 L490.4,319.5 L490.9,319.8 L491.4,320.1 L491.9,320.4 L492.3,320.8 L492.7,321.3 L495.5,324.7 L495.2,323.5 L492.3,313.7 L492.2,313.5 L490.4,306.5 L490.4,306.6 L490.1,307.2 L489.8,307.7 L489.4,308.1 L488.9,308.5 L488.4,308.9 L487.9,309.3 L487.4,309.5 L486.8,309.7 L486.2,309.9 L481.2,310.9 L480.6,311.0 L480.0,311.0 L479.4,311.0 L478.8,310.9 L478.3,310.7 L477.7,310.5 L477.2,310.3 L476.7,310.0 L476.2,309.6 L475.8,309.2 L471.0,304.5 L466.9,301.2 L462.8,299.6 L462.2,299.3 L461.7,299.0 L461.3,298.7 L456.3,294.7 L455.8,294.3 L455.5,293.9 L455.1,293.5 L452.4,289.6 L446.2,290.9 L445.6,291.0 L445.0,291.0 L444.4,291.0 L444.2,290.9 L440.8,302.7ZM503.0,340.9 L503.7,343.1 L503.8,343.4 L506.4,353.0 L515.4,342.2 L515.8,341.7 L516.2,341.3 L516.7,341.0 L517.0,340.8 L517.0,333.2 L516.7,333.0 L516.3,332.7 L513.3,330.3 L512.6,332.1 L512.4,332.6 L512.1,333.1 L509.1,338.1 L508.8,338.6 L508.4,339.0 L508.0,339.5 L507.6,339.8 L507.1,340.2 L506.5,340.4 L506.0,340.7 L505.4,340.8 L504.8,340.9 L504.2,341.0 L503.7,341.0 L503.1,340.9Z" fill="#00008b"/>
<path d="M302.4,369.0 L310.0,309.6 L310.1,309.3 L310.2,309.0 L313.4,299.5 L313.4,250.1 L312.0,225.3 L310.4,214.0 L306.8,214.0 L306.5,232.7 L306.2,260.0 L306.2,260.2 L303.5,304.6 L303.5,344.8 L303.5,345.1 L303.4,345.4 L303.4,345.7 L303.3,346.0 L303.1,346.3 L303.0,346.5 L302.8,346.7 L302.6,347.0 L302.4,347.2 L302.1,347.3 L301.9,347.5 L301.6,347.6 L301.3,347.7 L301.0,347.8 L300.8,347.8 L300.5,347.8 L300.2,347.8 L279.3,345.4 L281.0,362.6 L283.5,379.6 L283.5,379.9 L284.0,391.8 L285.5,409.7 L287.0,424.5 L287.8,427.6 L288.2,427.0 L291.1,414.4 L293.5,399.6 L295.0,387.6 L295.1,387.4 L295.1,387.2 L299.0,373.3 L299.0,372.0 L299.0,371.7 L299.1,371.4 L299.1,371.1 L299.2,370.9 L299.4,370.6 L299.5,370.3 L299.7,370.1 L299.9,369.9 L300.1,369.7 L300.3,369.5 L300.6,369.4 L300.9,369.2 L301.1,369.1 L301.4,369.1 L301.7,369.0 L302.0,369.0Z" fill="#00008b"/>
<g fill="#00008b" stroke="#00008b" stroke-width="2.8"><circle cx="103.0" cy="207.2" r="3.0"/><circle cx="103.5" cy="214.8" r="3.0" fill="#4060e0"/><circle cx="104.0" cy="221.4" r="3.0"/><circle cx="104.5" cy="223.8" r="3.0"/><circle cx="104.9" cy="217.6" r="3.0" fill="#4060e0"/><circle cx="105.0" cy="211.1" r="3.0"/><circle cx="105.4" cy="205.2" r="3.0"/><circle cx="105.8" cy="212.9" r="3.0" fill="#4060e0"/><circle cx="106.1" cy="219.5" r="3.0" fill="#4060e0"/><circle cx="106.6" cy="226.8" r="3.0"/><circle cx="107.0" cy="228.0" r="3.0" fill="#4060e0"/><circle cx="107.2" cy="220.2" r="3.0"/><circle cx="107.6" cy="214.5" r="3.0"/><circle cx="108.1" cy="209.9" r="3.0" fill="#4060e0"/><circle cx="108.3" cy="207.5" r="3.0"/><circle cx="108.8" cy="210.8" r="3.0"/><circle cx="109.5" cy="215.6" r="3.0"/><circle cx="109.7" cy="220.9" r="3.0"/><circle cx="110.1" cy="227.3" r="3.0"/><circle cx="110.4" cy="230.4" r="3.0"/><circle cx="110.6" cy="226.2" r="3.0" fill="#4060e0"/><circle cx="111.2" cy="222.8" r="3.0"/><circle cx="111.9" cy="218.5" r="3.0"/><circle cx="112.3" cy="210.8" r="3.0"/><circle cx="112.9" cy="209.0" r="3.0" fill="#4060e0"/><circle cx="113.2" cy="212.3" r="3.0"/><circle cx="113.8" cy="216.9" r="3.0"/><circle cx="114.1" cy="224.4" r="3.0" fill="#4060e0"/><circle cx="114.3" cy="228.7" r="3.0" fill="#4060e0"/><circle cx="114.9" cy="233.1" r="3.0"/><circle cx="115.1" cy="238.7" r="3.0" fill="#4060e0"/><circle cx="115.7" cy="241.2" r="3.0"/><circle cx="116.1" cy="235.8" r="3.0" fill="#4060e0"/><circle cx="116.7" cy="231.8" r="3.0"/><circle cx="117.3" cy="224.5" r="3.0" fill="#4060e0"/><circle cx="117.9" cy="218.2" r="3.0" fill="#4060e0"/><circle cx="118.4" cy="213.7" r="3.0" fill="#4060e0"/><circle cx="118.6" cy="220.9" r="3.0" fill="#4060e0"/><circle cx="118.8" cy="227.9" r="3.0"/><circle cx="119.1" cy="234.9" r="3.0"/><circle cx="119.5" cy="242.5" r="3.0" fill="#4060e0"/><circle cx="120.0" cy="245.9" r="3.0"/><circle cx="120.3" cy="240.0" r="3.0"/><circle cx="120.8" cy="236.0" r="3.0" fill="#4060e0"/><circle cx="121.4" cy="232.9" r="3.0"/><circle cx="121.8" cy="229.6" r="3.0"/><circle cx="122.3" cy="222.9" r="3.0"/><circle cx="122.9" cy="218.8" r="3.0"/><circle cx="123.0" cy="225.3" r="3.0" fill="#4060e0"/><circle cx="123.4" cy="230.8" r="3.0" fill="#4060e0"/><circle cx="124.1" cy="237.0" r="3.0" fill="#4060e0"/><circle cx="124.7" cy="240.6" r="3.0" fill="#4060e0"/><circle cx="125.3" cy="236.7" r="3.0"/><circle cx="125.4" cy="228.9" r="3.0" fill="#4060e0"/><circle cx="126.0" cy="223.2" r="3.0" fill="#4060e0"/><circle cx="126.6" cy="228.1" r="3.0"/><circle cx="127.2" cy="231.2" r="3.0" fill="#4060e0"/><circle cx="127.4" cy="237.9" r="3.0" fill="#4060e0"/><circle cx="127.8" cy="242.7" r="3.0"/><circle cx="128.3" cy="234.8" r="3.0" fill="#4060e0"/><circle cx="128.5" cy="231.2" r="3.0" fill="#4060e0"/><circle cx="129.0" cy="227.9" r="3.0"/><circle cx="129.6" cy="226.1" r="3.0"/><circle cx="130.2" cy="233.8" r="3.0" fill="#4060e0"/><circle cx="130.4" cy="239.2" r="3.0" fill="#4060e0"/><circle cx="130.8" cy="243.0" r="3.0" fill="#4060e0"/><circle cx="131.0" cy="246.6" r="3.0" fill="#4060e0"/><circle cx="131.4" cy="247.2" r="3.0"/><circle cx="132.0" cy="240.8" r="3.0" fill="#4060e0"/><circle cx="132.4" cy="236.9" r="3.0"/><circle cx="132.8" cy="232.0" r="3.0" fill="#4060e0"/><circle cx="133.2" cy="229.1" r="3.0"/><circle cx="133.5" cy="234.7" r="3.0" fill="#4060e0"/><circle cx="133.9" cy="241.5" r="3.0" fill="#4060e0"/><circle cx="134.2" cy="246.7" r="3.0" fill="#4060e0"/><circle cx="134.7" cy="250.5" r="3.0"/><circle cx="135.0" cy="253.5" r="3.0"/><circle cx="135.7" cy="247.6" r="3.0" fill="#4060e0"/><circle cx="135.9" cy="241.8" r="3.0"/><circle cx="136.3" cy="236.0" r="3.0"/><circle cx="136.5" cy="233.3" r="3.0" fill="#4060e0"/><circle cx="136.8" cy="237.7" r="3.0"/><circle cx="137.1" cy="245.6" r="3.0" fill="#4060e0"/><circle cx="137.6" cy="250.4" r="3.0"/><circle cx="137.8" cy="258.3" r="3.0" fill="#4060e0"/><circle cx="138.2" cy="264.9" r="3.0" fill="#4060e0"/><circle cx="138.6" cy="260.9" r="3.0"/><circle cx="139.0" cy="257.8" r="3.0"/><circle cx="139.2" cy="250.3" r="3.0"/><circle cx="139.8" cy="247.1" r="3.0"/><circle cx="140.1" cy="240.0" r="3.0"/><circle cx="140.7" cy="240.3" r="3.0" fill="#4060e0"/><circle cx="141.1" cy="244.9" r="3.0" fill="#4060e0"/><circle cx="141.5" cy="248.5" r="3.0"/><circle cx="141.8" cy="256.2" r="3.0"/><circle cx="142.4" cy="262.4" r="3.0" fill="#4060e0"/><circle cx="142.7" cy="267.0" r="3.0"/><circle cx="143.2" cy="272.5" r="3.0"/><circle cx="143.4" cy="273.2" r="3.0" fill="#4060e0"/><circle cx="143.6" cy="267.6" r="3.0" fill="#4060e0"/><circle cx="144.3" cy="261.0" r="3.0" fill="#4060e0"/><circle cx="144.9" cy="255.2" r="3.0"/><circle cx="145.1" cy="251.5" r="3.0"/><circle cx="145.3" cy="249.0" r="3.0" fill="#4060e0"/><circle cx="145.9" cy="255.9" r="3.0"/><circle cx="146.2" cy="261.4" r="3.0" fill="#4060e0"/><circle cx="146.8" cy="264.4" r="3.0" fill="#4060e0"/><circle cx="146.9" cy="268.6" r="3.0"/><circle cx="147.4" cy="271.4" r="3.0"/><circle cx="147.6" cy="268.3" r="3.0" fill="#4060e0"/><circle cx="147.8" cy="263.5" r="3.0" fill="#4060e0"/><circle cx="148.4" cy="259.7" r="3.0"/><circle cx="149.0" cy="254.3" r="3.0"/><circle cx="149.2" cy="250.6" r="3.0"/><circle cx="149.8" cy="254.6" r="3.0"/><circle cx="150.2" cy="261.2" r="3.0"/><circle cx="150.7" cy="265.8" r="3.0" fill="#4060e0"/><circle cx="151.3" cy="273.2" r="3.0" fill="#4060e0"/><circle cx="151.5" cy="275.2" r="3.0"/><circle cx="151.9" cy="269.6" r="3.0"/><circle cx="152.5" cy="262.7" r="3.0" fill="#4060e0"/><circle cx="153.0" cy="257.4" r="3.0" fill="#4060e0"/><circle cx="153.3" cy="253.9" r="3.0" fill="#4060e0"/><circle cx="153.6" cy="253.8" r="3.0" fill="#4060e0"/><circle cx="153.9" cy="261.4" r="3.0"/><circle cx="154.4" cy="266.6" r="3.0" fill="#4060e0"/><circle cx="154.6" cy="270.7" r="3.0"/><circle cx="155.3" cy="274.3" r="3.0"/><circle cx="156.0" cy="278.0" r="3.0" fill="#4060e0"/><circle cx="156.4" cy="271.4" r="3.0" fill="#4060e0"/><circle cx="156.6" cy="263.8" r="3.0"/><circle cx="156.9" cy="259.9" r="3.0"/><circle cx="157.1" cy="254.9" r="3.0" fill="#4060e0"/><circle cx="157.3" cy="262.5" r="3.0"/><circle cx="157.7" cy="266.6" r="3.0" fill="#4060e0"/><circle cx="158.3" cy="273.5" r="3.0" fill="#4060e0"/><circle cx="158.9" cy="274.4" r="3.0"/><circle cx="159.2" cy="268.5" r="3.0"/><circle cx="159.5" cy="261.3" r="3.0"/><circle cx="159.8" cy="257.4" r="3.0" fill="#4060e0"/><circle cx="160.0" cy="254.9" r="3.0" fill="#4060e0"/><circle cx="160.7" cy="259.0" r="3.0"/><circle cx="160.9" cy="264.3" r="3.0"/><circle cx="161.3" cy="267.4" r="3.0"/><circle cx="161.8" cy="273.1" r="3.0"/><circle cx="162.2" cy="266.3" r="3.0"/><circle cx="162.8" cy="259.9" r="3.0"/><circle cx="163.4" cy="258.3" r="3.0" fill="#4060e0"/><circle cx="163.9" cy="265.7" r="3.0" fill="#4060e0"/><circle cx="164.3" cy="271.3" r="3.0" fill="#4060e0"/><circle cx="164.9" cy="272.9" r="3.0"/><circle cx="165.1" cy="264.9" r="3.0" fill="#4060e0"/><circle cx="165.7" cy="257.5" r="3.0"/><circle cx="166.3" cy="253.0" r="3.0" fill="#4060e0"/><circle cx="166.7" cy="258.4" r="3.0"/><circle cx="167.3" cy="266.2" r="3.0" fill="#4060e0"/><circle cx="167.9" cy="267.3" r="3.0" fill="#4060e0"/><circle cx="168.2" cy="261.4" r="3.0"/><circle cx="168.5" cy="255.3" r="3.0"/><circle cx="169.1" cy="251.7" r="3.0" fill="#4060e0"/><circle cx="169.4" cy="255.2" r="3.0"/><circle cx="169.7" cy="261.7" r="3.0" fill="#4060e0"/><circle cx="170.2" cy="267.8" r="3.0"/><circle cx="170.5" cy="271.2" r="3.0"/><circle cx="171.1" cy="267.4" r="3.0"/><circle cx="171.6" cy="262.2" r="3.0"/><circle cx="171.8" cy="259.2" r="3.0" fill="#4060e0"/><circle cx="172.1" cy="266.8" r="3.0" fill="#4060e0"/><circle cx="172.5" cy="270.2" r="3.0"/><circle cx="172.9" cy="272.2" r="3.0" fill="#4060e0"/><circle cx="173.1" cy="267.6" r="3.0"/><circle cx="173.3" cy="263.2" r="3.0"/><circle cx="173.8" cy="259.1" r="3.0"/><circle cx="174.3" cy="257.7" r="3.0" fill="#4060e0"/><circle cx="174.7" cy="262.4" r="3.0" fill="#4060e0"/><circle cx="175.2" cy="266.8" r="3.0" fill="#4060e0"/><circle cx="175.6" cy="273.4" r="3.0" fill="#4060e0"/><circle cx="176.2" cy="276.4" r="3.0" fill="#4060e0"/><circle cx="176.5" cy="269.2" r="3.0" fill="#4060e0"/><circle cx="176.8" cy="264.4" r="3.0" fill="#4060e0"/><circle cx="177.3" cy="262.5" r="3.0"/><circle cx="177.9" cy="269.0" r="3.0" fill="#4060e0"/><circle cx="178.1" cy="272.1" r="3.0"/><circle cx="178.5" cy="278.8" r="3.0" fill="#4060e0"/><circle cx="179.2" cy="281.8" r="3.0"/><circle cx="179.8" cy="274.2" r="3.0"/><circle cx="180.0" cy="267.6" r="3.0" fill="#4060e0"/><circle cx="180.2" cy="263.5" r="3.0" fill="#4060e0"/><circle cx="180.5" cy="269.7" r="3.0" fill="#4060e0"/><circle cx="181.1" cy="276.0" r="3.0"/><circle cx="181.5" cy="279.3" r="3.0" fill="#4060e0"/><circle cx="181.7" cy="282.4" r="3.0"/><circle cx="182.2" cy="284.9" r="3.0" fill="#4060e0"/><circle cx="182.5" cy="278.7" r="3.0" fill="#4060e0"/><circle cx="183.0" cy="271.6" r="3.0" fill="#4060e0"/><circle cx="183.5" cy="265.7" r="3.0"/><circle cx="184.1" cy="265.4" r="3.0" fill="#4060e0"/><circle cx="184.6" cy="271.1" r="3.0"/><circle cx="184.8" cy="276.6" r="3.0"/><circle cx="185.2" cy="281.2" r="3.0" fill="#4060e0"/><circle cx="185.5" cy="286.3" r="3.0"/><circle cx="186.1" cy="282.3" r="3.0"/><circle cx="186.2" cy="275.8" r="3.0" fill="#4060e0"/><circle cx="186.5" cy="270.2" r="3.0" fill="#4060e0"/><circle cx="186.7" cy="269.0" r="3.0"/><circle cx="187.3" cy="274.5" r="3.0"/><circle cx="187.4" cy="278.7" r="3.0"/><circle cx="187.9" cy="286.4" r="3.0" fill="#4060e0"/><circle cx="188.1" cy="291.6" r="3.0" fill="#4060e0"/><circle cx="188.5" cy="286.6" r="3.0"/><circle cx="189.1" cy="282.4" r="3.0"/><circle cx="189.5" cy="277.1" r="3.0"/><circle cx="189.9" cy="272.8" r="3.0"/><circle cx="190.1" cy="276.2" r="3.0" fill="#4060e0"/><circle cx="190.6" cy="279.5" r="3.0"/><circle cx="191.3" cy="283.0" r="3.0" fill="#4060e0"/><circle cx="191.7" cy="290.4" r="3.0" fill="#4060e0"/><circle cx="192.2" cy="294.9" r="3.0" fill="#4060e0"/><circle cx="192.5" cy="297.1" r="3.0" fill="#4060e0"/><circle cx="193.0" cy="289.8" r="3.0" fill="#4060e0"/><circle cx="193.4" cy="285.8" r="3.0"/><circle cx="193.9" cy="282.5" r="3.0" fill="#4060e0"/><circle cx="194.2" cy="277.4" r="3.0"/><circle cx="194.6" cy="274.8" r="3.0"/><circle cx="195.1" cy="281.4" r="3.0"/><circle cx="195.4" cy="284.4" r="3.0" fill="#4060e0"/><circle cx="195.8" cy="290.2" r="3.0"/><circle cx="196.1" cy="296.0" r="3.0"/><circle cx="196.7" cy="298.4" r="3.0" fill="#4060e0"/><circle cx="197.4" cy="291.3" r="3.0" fill="#4060e0"/><circle cx="197.7" cy="285.0" r="3.0" fill="#4060e0"/><circle cx="198.2" cy="281.3" r="3.0"/><circle cx="198.3" cy="277.9" r="3.0" fill="#4060e0"/><circle cx="198.5" cy="284.7" r="3.0"/><circle cx="198.7" cy="291.6" r="3.0" fill="#4060e0"/><circle cx="198.9" cy="297.4" r="3.0"/><circle cx="199.1" cy="297.4" r="3.0"/><circle cx="199.4" cy="290.3" r="3.0"/><circle cx="199.7" cy="285.9" r="3.0"/><circle cx="200.2" cy="281.4" r="3.0" fill="#4060e0"/><circle cx="200.4" cy="277.2" r="3.0"/><circle cx="200.7" cy="284.1" r="3.0" fill="#4060e0"/><circle cx="201.3" cy="288.0" r="3.0"/><circle cx="201.8" cy="291.8" r="3.0" fill="#4060e0"/><circle cx="202.2" cy="296.2" r="3.0" fill="#4060e0"/><circle cx="202.9" cy="290.5" r="3.0"/><circle cx="203.4" cy="283.8" r="3.0"/><circle cx="204.1" cy="277.6" r="3.0"/><circle cx="204.5" cy="276.3" r="3.0"/><circle cx="204.9" cy="280.1" r="3.0"/><circle cx="205.4" cy="287.5" r="3.0" fill="#4060e0"/><circle cx="205.9" cy="291.0" r="3.0" fill="#4060e0"/><circle cx="206.4" cy="286.1" r="3.0" fill="#4060e0"/><circle cx="206.6" cy="281.7" r="3.0"/><circle cx="207.0" cy="289.4" r="3.0"/><circle cx="207.3" cy="293.9" r="3.0" fill="#4060e0"/><circle cx="207.7" cy="298.3" r="3.0" fill="#4060e0"/><circle cx="208.4" cy="290.9" r="3.0"/><circle cx="208.5" cy="284.2" r="3.0"/><circle cx="208.9" cy="279.9" r="3.0"/><circle cx="209.4" cy="283.2" r="3.0"/><circle cx="210.1" cy="289.5" r="3.0" fill="#4060e0"/><circle cx="210.7" cy="294.6" r="3.0" fill="#4060e0"/><circle cx="211.4" cy="298.5" r="3.0"/><circle cx="212.0" cy="301.9" r="3.0"/><circle cx="212.6" cy="302.1" r="3.0" fill="#4060e0"/><circle cx="212.7" cy="295.2" r="3.0"/><circle cx="212.8" cy="292.4" r="3.0"/><circle cx="213.5" cy="296.8" r="3.0"/><circle cx="213.9" cy="301.7" r="3.0" fill="#4060e0"/><circle cx="214.3" cy="307.7" r="3.0"/><circle cx="214.8" cy="303.6" r="3.0" fill="#4060e0"/><circle cx="215.2" cy="298.8" r="3.0"/><circle cx="215.7" cy="295.4" r="3.0"/><circle cx="216.1" cy="292.9" r="3.0"/><circle cx="216.8" cy="299.9" r="3.0"/><circle cx="217.1" cy="306.7" r="3.0"/><circle cx="217.4" cy="310.8" r="3.0"/><circle cx="217.9" cy="311.2" r="3.0"/><circle cx="218.1" cy="306.4" r="3.0"/><circle cx="218.6" cy="301.2" r="3.0"/><circle cx="219.1" cy="294.6" r="3.0"/><circle cx="219.4" cy="293.4" r="3.0"/><circle cx="219.8" cy="299.5" r="3.0" fill="#4060e0"/><circle cx="220.2" cy="304.1" r="3.0" fill="#4060e0"/><circle cx="220.5" cy="304.7" r="3.0" fill="#4060e0"/><circle cx="221.0" cy="301.2" r="3.0"/><circle cx="221.3" cy="297.0" r="3.0"/><circle cx="221.7" cy="303.3" r="3.0" fill="#4060e0"/><circle cx="222.2" cy="308.8" r="3.0" fill="#4060e0"/><circle cx="222.7" cy="308.9" r="3.0"/><circle cx="223.1" cy="301.9" r="3.0" fill="#4060e0"/><circle cx="223.2" cy="294.4" r="3.0"/><circle cx="223.4" cy="289.4" r="3.0" fill="#4060e0"/><circle cx="223.6" cy="296.4" r="3.0" fill="#4060e0"/><circle cx="224.3" cy="303.0" r="3.0" fill="#4060e0"/><circle cx="224.9" cy="307.2" r="3.0"/><circle cx="225.2" cy="302.7" r="3.0" fill="#4060e0"/><circle cx="225.8" cy="295.6" r="3.0"/><circle cx="226.0" cy="289.5" r="3.0"/><circle cx="226.5" cy="288.2" r="3.0" fill="#4060e0"/><circle cx="227.1" cy="295.8" r="3.0" fill="#4060e0"/><circle cx="227.2" cy="302.1" r="3.0" fill="#4060e0"/><circle cx="227.8" cy="305.8" r="3.0" fill="#4060e0"/><circle cx="227.9" cy="308.5" r="3.0"/><circle cx="228.6" cy="301.1" r="3.0" fill="#4060e0"/><circle cx="229.2" cy="294.3" r="3.0"/><circle cx="229.8" cy="291.0" r="3.0" fill="#4060e0"/><circle cx="230.0" cy="291.0" r="3.0" fill="#4060e0"/><circle cx="230.6" cy="297.6" r="3.0" fill="#4060e0"/><circle cx="231.0" cy="303.2" r="3.0"/><circle cx="231.3" cy="308.0" r="3.0"/><circle cx="231.4" cy="311.5" r="3.0" fill="#4060e0"/><circle cx="231.8" cy="304.9" r="3.0" fill="#4060e0"/><circle cx="232.5" cy="300.0" r="3.0"/><circle cx="232.9" cy="298.0" r="3.0"/><circle cx="233.3" cy="303.9" r="3.0" fill="#4060e0"/><circle cx="234.0" cy="311.7" r="3.0"/><circle cx="234.2" cy="314.8" r="3.0" fill="#4060e0"/><circle cx="234.9" cy="311.2" r="3.0" fill="#4060e0"/><circle cx="235.4" cy="307.2" r="3.0"/><circle cx="235.9" cy="302.7" r="3.0" fill="#4060e0"/><circle cx="236.5" cy="302.7" r="3.0" fill="#4060e0"/><circle cx="236.9" cy="308.7" r="3.0" fill="#4060e0"/><circle cx="237.4" cy="315.6" r="3.0" fill="#4060e0"/><circle cx="237.8" cy="318.0" r="3.0"/><circle cx="238.1" cy="314.9" r="3.0"/><circle cx="238.5" cy="308.8" r="3.0"/><circle cx="239.0" cy="305.5" r="3.0" fill="#4060e0"/><circle cx="239.7" cy="300.4" r="3.0" fill="#4060e0"/><circle cx="240.1" cy="304.7" r="3.0" fill="#4060e0"/><circle cx="240.7" cy="311.8" r="3.0"/><circle cx="240.9" cy="317.6" r="3.0" fill="#4060e0"/><circle cx="241.2" cy="310.1" r="3.0" fill="#4060e0"/><circle cx="241.9" cy="303.3" r="3.0"/><circle cx="242.2" cy="298.0" r="3.0"/><circle cx="242.6" cy="301.5" r="3.0" fill="#4060e0"/><circle cx="243.0" cy="308.0" r="3.0" fill="#4060e0"/><circle cx="243.3" cy="313.9" r="3.0" fill="#4060e0"/><circle cx="243.5" cy="313.5" r="3.0"/><circle cx="243.7" cy="308.5" r="3.0"/><circle cx="244.3" cy="300.6" r="3.0" fill="#4060e0"/><circle cx="244.6" cy="297.0" r="3.0" fill="#4060e0"/><circle cx="244.9" cy="303.7" r="3.0"/><circle cx="245.5" cy="307.3" r="3.0" fill="#4060e0"/><circle cx="246.2" cy="310.7" r="3.0" fill="#4060e0"/><circle cx="246.9" cy="310.7" r="3.0" fill="#4060e0"/><circle cx="247.5" cy="305.0" r="3.0" fill="#4060e0"/><circle cx="248.0" cy="300.9" r="3.0"/><circle cx="248.6" cy="294.6" r="3.0" fill="#4060e0"/><circle cx="249.0" cy="293.7" r="3.0" fill="#4060e0"/><circle cx="249.3" cy="300.9" r="3.0"/><circle cx="249.6" cy="304.1" r="3.0"/><circle cx="249.7" cy="307.5" r="3.0"/><circle cx="250.3" cy="310.2" r="3.0"/><circle cx="250.6" cy="302.6" r="3.0"/><circle cx="250.7" cy="295.6" r="3.0"/><circle cx="251.3" cy="294.9" r="3.0"/><circle cx="251.5" cy="299.4" r="3.0"/><circle cx="252.1" cy="305.9" r="3.0"/><circle cx="252.3" cy="309.2" r="3.0" fill="#4060e0"/><circle cx="252.8" cy="311.3" r="3.0" fill="#4060e0"/><circle cx="253.1" cy="305.7" r="3.0"/><circle cx="253.2" cy="302.6" r="3.0"/><circle cx="253.7" cy="308.5" r="3.0" fill="#4060e0"/><circle cx="253.8" cy="311.7" r="3.0" fill="#4060e0"/><circle cx="254.5" cy="308.4" r="3.0" fill="#4060e0"/><circle cx="254.9" cy="300.6" r="3.0"/><circle cx="255.3" cy="298.4" r="3.0"/><circle cx="255.5" cy="302.2" r="3.0" fill="#4060e0"/><circle cx="255.8" cy="307.2" r="3.0"/><circle cx="256.4" cy="314.5" r="3.0" fill="#4060e0"/><circle cx="256.6" cy="315.0" r="3.0"/><circle cx="257.0" cy="310.6" r="3.0" fill="#4060e0"/><circle cx="257.6" cy="307.5" r="3.0"/><circle cx="258.1" cy="303.6" r="3.0" fill="#4060e0"/><circle cx="258.7" cy="308.2" r="3.0"/><circle cx="259.0" cy="311.9" r="3.0"/><circle cx="259.2" cy="315.2" r="3.0"/><circle cx="259.4" cy="310.4" r="3.0"/><circle cx="260.1" cy="307.0" r="3.0"/><circle cx="260.4" cy="314.5" r="3.0"/><circle cx="261.0" cy="320.5" r="3.0" fill="#4060e0"/><circle cx="261.6" cy="325.0" r="3.0" fill="#4060e0"/><circle cx="262.2" cy="317.0" r="3.0"/><circle cx="262.7" cy="311.7" r="3.0"/><circle cx="262.9" cy="311.5" r="3.0"/><circle cx="263.2" cy="315.9" r="3.0"/><circle cx="263.8" cy="322.6" r="3.0" fill="#4060e0"/><circle cx="264.4" cy="327.7" r="3.0" fill="#4060e0"/><circle cx="264.8" cy="328.9" r="3.0"/><circle cx="265.4" cy="321.5" r="3.0"/><circle cx="265.9" cy="317.7" r="3.0" fill="#4060e0"/><circle cx="266.1" cy="320.9" r="3.0" fill="#4060e0"/><circle cx="266.6" cy="327.3" r="3.0" fill="#4060e0"/><circle cx="267.0" cy="333.8" r="3.0"/><circle cx="267.7" cy="334.4" r="3.0"/><circle cx="268.0" cy="330.4" r="3.0"/><circle cx="268.2" cy="325.1" r="3.0"/><circle cx="268.4" cy="331.6" r="3.0" fill="#4060e0"/><circle cx="268.6" cy="335.8" r="3.0" fill="#4060e0"/><circle cx="269.0" cy="328.9" r="3.0"/><circle cx="269.6" cy="324.0" r="3.0" fill="#4060e0"/><circle cx="270.1" cy="328.8" r="3.0"/><circle cx="270.5" cy="333.9" r="3.0" fill="#4060e0"/><circle cx="270.6" cy="335.9" r="3.0"/><circle cx="271.1" cy="331.4" r="3.0"/><circle cx="271.6" cy="334.8" r="3.0" fill="#4060e0"/><circle cx="271.7" cy="339.2" r="3.0"/><circle cx="272.2" cy="340.4" r="3.0" fill="#4060e0"/><circle cx="272.4" cy="335.1" r="3.0"/><circle cx="273.0" cy="329.8" r="3.0"/><circle cx="273.7" cy="333.3" r="3.0"/><circle cx="274.0" cy="337.1" r="3.0"/><circle cx="274.2" cy="333.0" r="3.0" fill="#4060e0"/><circle cx="274.6" cy="332.3" r="3.0"/><circle cx="274.9" cy="336.2" r="3.0" fill="#4060e0"/><circle cx="275.0" cy="338.4" r="3.0"/><circle cx="275.7" cy="335.2" r="3.0" fill="#4060e0"/><circle cx="275.9" cy="341.3" r="3.0"/><circle cx="276.2" cy="346.2" r="3.0"/><circle cx="276.6" cy="339.8" r="3.0"/><circle cx="277.3" cy="340.5" r="3.0" fill="#4060e0"/><circle cx="277.4" cy="346.6" r="3.0"/><circle cx="313.0" cy="309.6" r="3.0" fill="#4060e0"/><circle cx="313.3" cy="316.1" r="3.0"/><circle cx="313.8" cy="322.2" r="3.0"/><circle cx="314.1" cy="326.9" r="3.0" fill="#4060e0"/><circle cx="314.5" cy="319.2" r="3.0"/><circle cx="315.2" cy="315.9" r="3.0" fill="#4060e0"/><circle cx="315.4" cy="308.4" r="3.0" fill="#4060e0"/><circle cx="316.1" cy="305.3" r="3.0"/><circle cx="316.2" cy="301.6" r="3.0" fill="#4060e0"/><circle cx="316.9" cy="307.1" r="3.0" fill="#4060e0"/><circle cx="317.4" cy="314.6" r="3.0" fill="#4060e0"/><circle cx="318.0" cy="321.4" r="3.0"/><circle cx="318.6" cy="326.9" r="3.0" fill="#4060e0"/><circle cx="319.1" cy="327.6" r="3.0" fill="#4060e0"/><circle cx="319.6" cy="322.2" r="3.0"/><circle cx="320.1" cy="317.6" r="3.0" fill="#4060e0"/><circle cx="320.4" cy="311.8" r="3.0"/><circle cx="320.8" cy="308.7" r="3.0"/><circle cx="321.1" cy="306.1" r="3.0" fill="#4060e0"/><circle cx="321.8" cy="310.1" r="3.0"/><circle cx="321.9" cy="316.7" r="3.0" fill="#4060e0"/><circle cx="322.2" cy="319.7" r="3.0"/><circle cx="322.7" cy="325.9" r="3.0"/><circle cx="322.9" cy="330.2" r="3.0"/><circle cx="323.5" cy="332.6" r="3.0"/><circle cx="323.7" cy="327.4" r="3.0"/><circle cx="323.9" cy="320.2" r="3.0"/><circle cx="324.5" cy="316.9" r="3.0"/><circle cx="324.9" cy="309.3" r="3.0" fill="#4060e0"/><circle cx="325.2" cy="306.9" r="3.0"/><circle cx="325.4" cy="311.7" r="3.0" fill="#4060e0"/><circle cx="325.8" cy="314.8" r="3.0"/><circle cx="326.3" cy="321.7" r="3.0"/><circle cx="326.7" cy="327.3" r="3.0" fill="#4060e0"/><circle cx="327.1" cy="334.3" r="3.0" fill="#4060e0"/><circle cx="327.7" cy="338.2" r="3.0"/><circle cx="327.8" cy="339.5" r="3.0"/><circle cx="328.0" cy="336.5" r="3.0"/><circle cx="328.3" cy="329.9" r="3.0" fill="#4060e0"/><circle cx="328.9" cy="322.3" r="3.0"/><circle cx="329.3" cy="315.3" r="3.0"/><circle cx="329.9" cy="311.3" r="3.0"/><circle cx="330.3" cy="303.3" r="3.0"/><circle cx="330.7" cy="310.5" r="3.0" fill="#4060e0"/><circle cx="331.1" cy="315.8" r="3.0" fill="#4060e0"/><circle cx="331.4" cy="319.5" r="3.0"/><circle cx="332.0" cy="326.9" r="3.0"/><circle cx="332.2" cy="330.7" r="3.0"/><circle cx="332.7" cy="336.3" r="3.0" fill="#4060e0"/><circle cx="333.2" cy="339.6" r="3.0" fill="#4060e0"/><circle cx="333.4" cy="345.7" r="3.0" fill="#4060e0"/><circle cx="334.0" cy="346.2" r="3.0"/><circle cx="334.6" cy="342.5" r="3.0"/><circle cx="334.7" cy="336.9" r="3.0"/><circle cx="335.1" cy="333.0" r="3.0" fill="#4060e0"/><circle cx="335.4" cy="328.6" r="3.0"/><circle cx="335.9" cy="320.6" r="3.0"/><circle cx="336.4" cy="315.7" r="3.0"/><circle cx="336.6" cy="310.6" r="3.0"/><circle cx="337.2" cy="307.5" r="3.0" fill="#4060e0"/><circle cx="337.5" cy="300.2" r="3.0" fill="#4060e0"/><circle cx="338.0" cy="296.0" r="3.0"/><circle cx="338.6" cy="303.0" r="3.0" fill="#4060e0"/><circle cx="338.9" cy="308.5" r="3.0"/><circle cx="339.4" cy="312.6" r="3.0" fill="#4060e0"/><circle cx="339.7" cy="318.0" r="3.0"/><circle cx="340.4" cy="325.5" r="3.0"/><circle cx="340.9" cy="331.7" r="3.0"/><circle cx="341.5" cy="337.6" r="3.0"/><circle cx="342.2" cy="340.8" r="3.0" fill="#4060e0"/><circle cx="342.6" cy="342.9" r="3.0"/><circle cx="343.0" cy="339.0" r="3.0"/><circle cx="343.2" cy="331.7" r="3.0" fill="#4060e0"/><circle cx="343.5" cy="325.9" r="3.0" fill="#4060e0"/><circle cx="344.0" cy="319.0" r="3.0"/><circle cx="344.6" cy="312.5" r="3.0"/><circle cx="345.0" cy="306.6" r="3.0"/><circle cx="345.3" cy="303.4" r="3.0" fill="#4060e0"/><circle cx="345.7" cy="300.3" r="3.0"/><circle cx="345.8" cy="296.3" r="3.0" fill="#4060e0"/><circle cx="346.2" cy="304.2" r="3.0" fill="#4060e0"/><circle cx="346.7" cy="307.9" r="3.0" fill="#4060e0"/><circle cx="346.8" cy="314.3" r="3.0" fill="#4060e0"/><circle cx="347.1" cy="322.2" r="3.0" fill="#4060e0"/><circle cx="347.3" cy="330.1" r="3.0"/><circle cx="347.6" cy="333.5" r="3.0"/><circle cx="348.0" cy="333.4" r="3.0" fill="#4060e0"/><circle cx="348.5" cy="329.0" r="3.0" fill="#4060e0"/><circle cx="349.2" cy="323.6" r="3.0" fill="#4060e0"/><circle cx="349.5" cy="317.3" r="3.0"/><circle cx="350.2" cy="313.1" r="3.0" fill="#4060e0"/><circle cx="350.7" cy="306.0" r="3.0" fill="#4060e0"/><circle cx="351.2" cy="301.2" r="3.0"/><circle cx="351.6" cy="306.5" r="3.0" fill="#4060e0"/><circle cx="351.8" cy="313.9" r="3.0"/><circle cx="352.4" cy="319.9" r="3.0" fill="#4060e0"/><circle cx="353.0" cy="325.1" r="3.0"/><circle cx="353.2" cy="329.4" r="3.0" fill="#4060e0"/><circle cx="353.5" cy="331.1" r="3.0" fill="#4060e0"/><circle cx="353.8" cy="326.3" r="3.0" fill="#4060e0"/><circle cx="354.3" cy="320.3" r="3.0"/><circle cx="354.9" cy="316.5" r="3.0"/><circle cx="355.2" cy="310.7" r="3.0" fill="#4060e0"/><circle cx="355.6" cy="304.0" r="3.0"/><circle cx="355.8" cy="300.6" r="3.0" fill="#4060e0"/><circle cx="356.3" cy="307.1" r="3.0" fill="#4060e0"/><circle cx="356.8" cy="310.8" r="3.0" fill="#4060e0"/><circle cx="357.0" cy="316.7" r="3.0"/><circle cx="357.2" cy="322.5" r="3.0" fill="#4060e0"/><circle cx="357.8" cy="316.9" r="3.0"/><circle cx="358.4" cy="313.6" r="3.0" fill="#4060e0"/><circle cx="358.7" cy="305.9" r="3.0" fill="#4060e0"/><circle cx="359.1" cy="305.0" r="3.0" fill="#4060e0"/><circle cx="359.8" cy="311.0" r="3.0"/><circle cx="360.2" cy="315.6" r="3.0" fill="#4060e0"/><circle cx="360.6" cy="312.5" r="3.0" fill="#4060e0"/><circle cx="361.1" cy="308.4" r="3.0"/><circle cx="361.3" cy="302.3" r="3.0" fill="#4060e0"/><circle cx="361.9" cy="299.2" r="3.0"/><circle cx="362.1" cy="295.8" r="3.0" fill="#4060e0"/><circle cx="362.6" cy="290.4" r="3.0"/><circle cx="363.0" cy="296.5" r="3.0"/><circle cx="363.4" cy="303.2" r="3.0"/><circle cx="363.8" cy="308.5" r="3.0"/><circle cx="364.0" cy="315.9" r="3.0" fill="#4060e0"/><circle cx="364.2" cy="316.2" r="3.0" fill="#4060e0"/><circle cx="364.7" cy="312.8" r="3.0" fill="#4060e0"/><circle cx="365.1" cy="306.5" r="3.0"/><circle cx="365.4" cy="302.0" r="3.0" fill="#4060e0"/><circle cx="365.7" cy="298.4" r="3.0" fill="#4060e0"/><circle cx="366.2" cy="295.4" r="3.0"/><circle cx="366.8" cy="291.3" r="3.0"/><circle cx="367.4" cy="287.4" r="3.0" fill="#4060e0"/><circle cx="367.9" cy="284.1" r="3.0"/><circle cx="368.4" cy="291.9" r="3.0" fill="#4060e0"/><circle cx="368.9" cy="298.0" r="3.0"/><circle cx="369.5" cy="303.9" r="3.0"/><circle cx="369.7" cy="308.0" r="3.0" fill="#4060e0"/><circle cx="370.3" cy="304.3" r="3.0"/><circle cx="370.6" cy="297.8" r="3.0"/><circle cx="371.0" cy="291.9" r="3.0" fill="#4060e0"/><circle cx="371.4" cy="286.0" r="3.0"/><circle cx="372.0" cy="289.9" r="3.0"/><circle cx="372.4" cy="295.5" r="3.0" fill="#4060e0"/><circle cx="373.1" cy="302.7" r="3.0" fill="#4060e0"/><circle cx="373.7" cy="308.9" r="3.0"/><circle cx="374.3" cy="312.4" r="3.0"/><circle cx="374.5" cy="314.3" r="3.0"/><circle cx="375.0" cy="307.1" r="3.0" fill="#4060e0"/><circle cx="375.6" cy="299.5" r="3.0"/><circle cx="376.0" cy="292.8" r="3.0"/><circle cx="376.4" cy="290.0" r="3.0" fill="#4060e0"/><circle cx="376.7" cy="293.6" r="3.0"/><circle cx="377.0" cy="301.0" r="3.0"/><circle cx="377.5" cy="305.9" r="3.0"/><circle cx="377.9" cy="313.3" r="3.0"/><circle cx="378.5" cy="319.6" r="3.0" fill="#4060e0"/><circle cx="378.7" cy="321.8" r="3.0" fill="#4060e0"/><circle cx="379.1" cy="315.6" r="3.0"/><circle cx="379.3" cy="312.6" r="3.0"/><circle cx="379.8" cy="308.4" r="3.0" fill="#4060e0"/><circle cx="380.3" cy="304.5" r="3.0"/><circle cx="380.5" cy="300.9" r="3.0" fill="#4060e0"/><circle cx="380.9" cy="295.2" r="3.0"/><circle cx="381.0" cy="294.9" r="3.0" fill="#4060e0"/><circle cx="381.3" cy="300.5" r="3.0" fill="#4060e0"/><circle cx="381.7" cy="303.7" r="3.0" fill="#4060e0"/><circle cx="382.2" cy="310.9" r="3.0" fill="#4060e0"/><circle cx="382.4" cy="315.9" r="3.0" fill="#4060e0"/><circle cx="382.7" cy="322.1" r="3.0"/><circle cx="383.3" cy="326.0" r="3.0"/><circle cx="383.7" cy="330.6" r="3.0" fill="#4060e0"/><circle cx="384.0" cy="325.9" r="3.0" fill="#4060e0"/><circle cx="384.2" cy="321.0" r="3.0"/><circle cx="384.9" cy="313.9" r="3.0" fill="#4060e0"/><circle cx="385.5" cy="306.9" r="3.0" fill="#4060e0"/><circle cx="386.0" cy="303.9" r="3.0" fill="#4060e0"/><circle cx="386.6" cy="308.9" r="3.0" fill="#4060e0"/><circle cx="387.1" cy="315.3" r="3.0" fill="#4060e0"/><circle cx="387.4" cy="321.8" r="3.0"/><circle cx="387.8" cy="325.5" r="3.0"/><circle cx="388.4" cy="331.6" r="3.0" fill="#4060e0"/><circle cx="388.8" cy="336.0" r="3.0"/><circle cx="389.3" cy="341.7" r="3.0" fill="#4060e0"/><circle cx="390.0" cy="336.1" r="3.0"/><circle cx="390.4" cy="329.1" r="3.0"/><circle cx="390.5" cy="323.5" r="3.0" fill="#4060e0"/><circle cx="391.1" cy="318.2" r="3.0" fill="#4060e0"/><circle cx="391.7" cy="311.4" r="3.0"/><circle cx="392.3" cy="309.3" r="3.0"/><circle cx="392.7" cy="313.5" r="3.0" fill="#4060e0"/><circle cx="393.1" cy="320.4" r="3.0"/><circle cx="393.7" cy="324.2" r="3.0" fill="#4060e0"/><circle cx="394.2" cy="329.0" r="3.0"/><circle cx="394.4" cy="334.7" r="3.0"/><circle cx="394.7" cy="339.3" r="3.0"/><circle cx="395.0" cy="341.1" r="3.0"/><circle cx="395.5" cy="334.0" r="3.0"/><circle cx="396.2" cy="327.8" r="3.0" fill="#4060e0"/><circle cx="396.6" cy="319.8" r="3.0" fill="#4060e0"/><circle cx="397.2" cy="314.8" r="3.0" fill="#4060e0"/><circle cx="397.9" cy="310.6" r="3.0"/><circle cx="398.4" cy="317.8" r="3.0"/><circle cx="399.0" cy="323.3" r="3.0" fill="#4060e0"/><circle cx="399.2" cy="328.2" r="3.0" fill="#4060e0"/><circle cx="399.6" cy="332.8" r="3.0"/><circle cx="400.1" cy="326.2" r="3.0"/><circle cx="400.3" cy="319.3" r="3.0" fill="#4060e0"/><circle cx="400.9" cy="311.7" r="3.0"/><circle cx="401.0" cy="308.9" r="3.0" fill="#4060e0"/><circle cx="401.2" cy="312.9" r="3.0" fill="#4060e0"/><circle cx="401.6" cy="317.1" r="3.0"/><circle cx="402.0" cy="321.5" r="3.0" fill="#4060e0"/><circle cx="402.5" cy="327.7" r="3.0"/><circle cx="402.7" cy="332.8" r="3.0"/><circle cx="403.2" cy="329.7" r="3.0"/><circle cx="403.8" cy="323.7" r="3.0"/><circle cx="404.0" cy="317.7" r="3.0"/><circle cx="404.5" cy="316.2" r="3.0" fill="#4060e0"/><circle cx="405.0" cy="320.0" r="3.0" fill="#4060e0"/><circle cx="405.4" cy="326.4" r="3.0"/><circle cx="405.6" cy="331.1" r="3.0" fill="#4060e0"/><circle cx="405.9" cy="337.0" r="3.0"/><circle cx="406.5" cy="332.1" r="3.0" fill="#4060e0"/><circle cx="406.9" cy="325.7" r="3.0"/><circle cx="407.2" cy="319.3" r="3.0" fill="#4060e0"/><circle cx="407.4" cy="315.9" r="3.0"/><circle cx="407.6" cy="315.8" r="3.0"/><circle cx="408.1" cy="319.0" r="3.0" fill="#4060e0"/><circle cx="408.7" cy="325.3" r="3.0" fill="#4060e0"/><circle cx="409.2" cy="332.2" r="3.0"/><circle cx="409.7" cy="332.5" r="3.0"/><circle cx="409.9" cy="328.0" r="3.0" fill="#4060e0"/><circle cx="410.4" cy="323.0" r="3.0"/><circle cx="410.5" cy="315.2" r="3.0"/><circle cx="410.6" cy="313.7" r="3.0"/><circle cx="411.2" cy="318.6" r="3.0"/><circle cx="411.3" cy="322.3" r="3.0"/><circle cx="411.9" cy="328.3" r="3.0" fill="#4060e0"/><circle cx="412.2" cy="325.0" r="3.0"/><circle cx="412.7" cy="320.9" r="3.0" fill="#4060e0"/><circle cx="413.3" cy="314.4" r="3.0"/><circle cx="413.6" cy="307.1" r="3.0"/><circle cx="414.0" cy="305.7" r="3.0"/><circle cx="414.6" cy="310.7" r="3.0" fill="#4060e0"/><circle cx="414.8" cy="316.5" r="3.0" fill="#4060e0"/><circle cx="415.3" cy="319.7" r="3.0"/><circle cx="415.4" cy="322.3" r="3.0"/><circle cx="416.1" cy="315.4" r="3.0" fill="#4060e0"/><circle cx="416.4" cy="308.4" r="3.0"/><circle cx="416.9" cy="303.5" r="3.0"/><circle cx="417.1" cy="307.5" r="3.0" fill="#4060e0"/><circle cx="417.6" cy="313.4" r="3.0"/><circle cx="418.0" cy="320.7" r="3.0" fill="#4060e0"/><circle cx="418.4" cy="321.6" r="3.0"/><circle cx="418.9" cy="317.8" r="3.0"/><circle cx="419.5" cy="310.7" r="3.0" fill="#4060e0"/><circle cx="420.0" cy="306.2" r="3.0" fill="#4060e0"/><circle cx="420.3" cy="298.3" r="3.0"/><circle cx="420.6" cy="298.2" r="3.0" fill="#4060e0"/><circle cx="421.0" cy="304.0" r="3.0" fill="#4060e0"/><circle cx="421.6" cy="310.4" r="3.0" fill="#4060e0"/><circle cx="421.8" cy="315.5" r="3.0"/><circle cx="422.4" cy="319.4" r="3.0"/><circle cx="422.8" cy="316.3" r="3.0"/><circle cx="423.0" cy="310.0" r="3.0" fill="#4060e0"/><circle cx="423.2" cy="303.9" r="3.0"/><circle cx="423.5" cy="309.1" r="3.0" fill="#4060e0"/><circle cx="423.6" cy="312.6" r="3.0"/><circle cx="424.2" cy="316.3" r="3.0" fill="#4060e0"/><circle cx="424.6" cy="323.6" r="3.0" fill="#4060e0"/><circle cx="425.0" cy="324.7" r="3.0" fill="#4060e0"/><circle cx="425.3" cy="316.9" r="3.0"/><circle cx="425.5" cy="309.3" r="3.0" fill="#4060e0"/><circle cx="426.0" cy="303.6" r="3.0"/><circle cx="426.5" cy="302.7" r="3.0"/><circle cx="426.8" cy="309.4" r="3.0" fill="#4060e0"/><circle cx="427.3" cy="316.4" r="3.0" fill="#4060e0"/><circle cx="427.9" cy="321.6" r="3.0"/><circle cx="428.3" cy="325.5" r="3.0"/><circle cx="428.6" cy="321.0" r="3.0" fill="#4060e0"/><circle cx="429.2" cy="314.8" r="3.0"/><circle cx="429.7" cy="308.6" r="3.0"/><circle cx="429.8" cy="306.7" r="3.0"/><circle cx="430.3" cy="313.9" r="3.0" fill="#4060e0"/><circle cx="430.6" cy="320.7" r="3.0" fill="#4060e0"/><circle cx="431.0" cy="326.7" r="3.0"/><circle cx="431.6" cy="322.3" r="3.0"/><circle cx="432.0" cy="315.8" r="3.0" fill="#4060e0"/><circle cx="432.5" cy="312.1" r="3.0"/><circle cx="432.8" cy="306.9" r="3.0" fill="#4060e0"/><circle cx="433.0" cy="306.1" r="3.0"/><circle cx="433.3" cy="310.5" r="3.0"/><circle cx="433.7" cy="315.3" r="3.0"/><circle cx="434.2" cy="320.7" r="3.0" fill="#4060e0"/><circle cx="434.3" cy="322.9" r="3.0" fill="#4060e0"/><circle cx="434.7" cy="317.1" r="3.0" fill="#4060e0"/><circle cx="435.3" cy="312.8" r="3.0" fill="#4060e0"/><circle cx="436.0" cy="307.3" r="3.0"/><circle cx="436.6" cy="305.8" r="3.0" fill="#4060e0"/><circle cx="436.9" cy="313.1" r="3.0"/><circle cx="437.2" cy="313.9" r="3.0"/><circle cx="437.9" cy="310.6" r="3.0"/><circle cx="438.3" cy="306.5" r="3.0" fill="#4060e0"/><circle cx="438.5" cy="299.9" r="3.0"/><circle cx="439.1" cy="295.5" r="3.0" fill="#4060e0"/><circle cx="439.6" cy="299.8" r="3.0"/><circle cx="440.0" cy="303.2" r="3.0"/><circle cx="440.1" cy="298.0" r="3.0" fill="#4060e0"/><circle cx="440.8" cy="292.1" r="3.0"/><circle cx="441.1" cy="287.1" r="3.0" fill="#4060e0"/><circle cx="441.4" cy="294.1" r="3.0"/><circle cx="441.5" cy="299.4" r="3.0"/><circle cx="441.8" cy="301.9" r="3.0" fill="#4060e0"/><circle cx="442.3" cy="295.8" r="3.0"/><circle cx="442.5" cy="292.3" r="3.0"/><circle cx="442.7" cy="287.9" r="3.0" fill="#4060e0"/><circle cx="443.0" cy="292.1" r="3.0"/><circle cx="443.3" cy="299.6" r="3.0"/><circle cx="443.5" cy="305.5" r="3.0" fill="#4060e0"/><circle cx="443.9" cy="305.5" r="3.0"/><circle cx="444.1" cy="298.6" r="3.0" fill="#4060e0"/><circle cx="444.4" cy="290.7" r="3.0" fill="#4060e0"/><circle cx="444.9" cy="288.3" r="3.0"/><circle cx="445.1" cy="295.7" r="3.0"/><circle cx="445.8" cy="299.4" r="3.0" fill="#4060e0"/><circle cx="446.0" cy="304.7" r="3.0" fill="#4060e0"/><circle cx="446.6" cy="307.2" r="3.0" fill="#4060e0"/><circle cx="446.8" cy="299.2" r="3.0" fill="#4060e0"/><circle cx="447.2" cy="291.2" r="3.0" fill="#4060e0"/><circle cx="447.8" cy="287.8" r="3.0"/><circle cx="448.1" cy="287.5" r="3.0"/><circle cx="448.4" cy="291.4" r="3.0" fill="#4060e0"/><circle cx="449.0" cy="298.7" r="3.0"/><circle cx="449.7" cy="303.0" r="3.0"/><circle cx="450.3" cy="303.4" r="3.0"/><circle cx="450.9" cy="297.3" r="3.0"/><circle cx="451.1" cy="292.9" r="3.0" fill="#4060e0"/><circle cx="451.4" cy="288.9" r="3.0" fill="#4060e0"/><circle cx="451.8" cy="296.8" r="3.0" fill="#4060e0"/><circle cx="452.4" cy="300.3" r="3.0"/><circle cx="452.9" cy="306.0" r="3.0"/><circle cx="453.5" cy="308.8" r="3.0"/><circle cx="453.8" cy="305.5" r="3.0"/><circle cx="454.3" cy="299.2" r="3.0"/><circle cx="454.6" cy="295.5" r="3.0"/><circle cx="454.9" cy="290.4" r="3.0" fill="#4060e0"/><circle cx="455.2" cy="287.6" r="3.0"/><circle cx="455.8" cy="293.6" r="3.0" fill="#4060e0"/><circle cx="456.3" cy="298.4" r="3.0" fill="#4060e0"/><circle cx="456.5" cy="302.1" r="3.0"/><circle cx="456.7" cy="306.3" r="3.0" fill="#4060e0"/><circle cx="457.0" cy="309.9" r="3.0"/><circle cx="457.2" cy="311.5" r="3.0"/><circle cx="457.8" cy="305.6" r="3.0" fill="#4060e0"/><circle cx="458.4" cy="300.2" r="3.0"/><circle cx="458.6" cy="292.3" r="3.0" fill="#4060e0"/><circle cx="458.7" cy="291.2" r="3.0"/><circle cx="459.0" cy="294.9" r="3.0" fill="#4060e0"/><circle cx="459.1" cy="300.2" r="3.0" fill="#4060e0"/><circle cx="459.6" cy="305.6" r="3.0"/><circle cx="459.8" cy="308.8" r="3.0" fill="#4060e0"/><circle cx="460.1" cy="312.9" r="3.0"/><circle cx="460.6" cy="313.7" r="3.0" fill="#4060e0"/><circle cx="461.1" cy="305.8" r="3.0"/><circle cx="461.6" cy="298.3" r="3.0"/><circle cx="462.0" cy="294.5" r="3.0"/><circle cx="462.2" cy="300.7" r="3.0" fill="#4060e0"/><circle cx="462.6" cy="305.8" r="3.0"/><circle cx="463.0" cy="312.0" r="3.0"/><circle cx="463.4" cy="307.9" r="3.0"/><circle cx="464.1" cy="302.6" r="3.0"/><circle cx="464.4" cy="296.8" r="3.0"/><circle cx="464.5" cy="296.7" r="3.0" fill="#4060e0"/><circle cx="464.8" cy="301.7" r="3.0"/><circle cx="465.4" cy="305.9" r="3.0"/><circle cx="466.0" cy="311.1" r="3.0" fill="#4060e0"/><circle cx="466.6" cy="315.2" r="3.0" fill="#4060e0"/><circle cx="467.0" cy="308.7" r="3.0"/><circle cx="467.4" cy="302.1" r="3.0" fill="#4060e0"/><circle cx="467.9" cy="298.1" r="3.0" fill="#4060e0"/><circle cx="468.1" cy="302.3" r="3.0"/><circle cx="468.4" cy="308.0" r="3.0"/><circle cx="468.9" cy="311.3" r="3.0" fill="#4060e0"/><circle cx="469.5" cy="304.4" r="3.0" fill="#4060e0"/><circle cx="469.9" cy="298.9" r="3.0"/><circle cx="470.1" cy="305.7" r="3.0" fill="#4060e0"/><circle cx="470.6" cy="310.8" r="3.0" fill="#4060e0"/><circle cx="471.3" cy="314.0" r="3.0" fill="#4060e0"/><circle cx="471.6" cy="315.3" r="3.0"/><circle cx="471.9" cy="309.7" r="3.0" fill="#4060e0"/><circle cx="472.1" cy="304.1" r="3.0"/><circle cx="472.6" cy="301.0" r="3.0" fill="#4060e0"/><circle cx="473.2" cy="305.4" r="3.0"/><circle cx="473.9" cy="308.8" r="3.0"/><circle cx="474.3" cy="313.3" r="3.0"/><circle cx="474.6" cy="318.7" r="3.0"/><circle cx="475.2" cy="318.9" r="3.0" fill="#4060e0"/><circle cx="475.6" cy="312.4" r="3.0" fill="#4060e0"/><circle cx="476.2" cy="308.0" r="3.0" fill="#4060e0"/><circle cx="476.8" cy="305.3" r="3.0" fill="#4060e0"/><circle cx="477.0" cy="309.3" r="3.0" fill="#4060e0"/><circle cx="477.4" cy="315.2" r="3.0" fill="#4060e0"/><circle cx="478.0" cy="320.4" r="3.0"/><circle cx="478.5" cy="325.1" r="3.0"/><circle cx="479.0" cy="330.3" r="3.0"/><circle cx="479.7" cy="331.5" r="3.0"/><circle cx="480.0" cy="323.7" r="3.0"/><circle cx="480.4" cy="316.8" r="3.0" fill="#4060e0"/><circle cx="480.7" cy="311.4" r="3.0" fill="#4060e0"/><circle cx="480.9" cy="307.9" r="3.0" fill="#4060e0"/><circle cx="481.1" cy="311.9" r="3.0" fill="#4060e0"/><circle cx="481.4" cy="318.4" r="3.0" fill="#4060e0"/><circle cx="481.8" cy="326.0" r="3.0" fill="#4060e0"/><circle cx="482.5" cy="330.2" r="3.0"/><circle cx="482.6" cy="331.4" r="3.0"/><circle cx="483.1" cy="327.0" r="3.0" fill="#4060e0"/><circle cx="483.6" cy="319.4" r="3.0" fill="#4060e0"/><circle cx="483.8" cy="315.1" r="3.0"/><circle cx="484.1" cy="309.6" r="3.0" fill="#4060e0"/><circle cx="484.3" cy="307.3" r="3.0" fill="#4060e0"/><circle cx="484.7" cy="313.0" r="3.0" fill="#4060e0"/><circle cx="485.2" cy="318.4" r="3.0"/><circle cx="485.6" cy="323.0" r="3.0" fill="#4060e0"/><circle cx="485.8" cy="325.8" r="3.0"/><circle cx="486.0" cy="318.6" r="3.0" fill="#4060e0"/><circle cx="486.2" cy="315.2" r="3.0"/><circle cx="486.5" cy="312.0" r="3.0" fill="#4060e0"/><circle cx="487.0" cy="306.1" r="3.0"/><circle cx="487.3" cy="303.0" r="3.0"/><circle cx="487.8" cy="306.1" r="3.0" fill="#4060e0"/><circle cx="488.4" cy="311.5" r="3.0"/><circle cx="488.9" cy="319.4" r="3.0" fill="#4060e0"/><circle cx="489.1" cy="322.0" r="3.0" fill="#4060e0"/><circle cx="489.5" cy="318.3" r="3.0"/><circle cx="489.9" cy="313.6" r="3.0"/><circle cx="490.1" cy="309.0" r="3.0"/><circle cx="490.5" cy="304.8" r="3.0"/><circle cx="490.7" cy="298.6" r="3.0"/><circle cx="490.9" cy="306.2" r="3.0"/><circle cx="491.1" cy="310.7" r="3.0"/><circle cx="491.4" cy="315.4" r="3.0" fill="#4060e0"/><circle cx="491.8" cy="321.3" r="3.0" fill="#4060e0"/><circle cx="492.4" cy="325.7" r="3.0"/><circle cx="492.9" cy="322.4" r="3.0" fill="#4060e0"/><circle cx="493.4" cy="314.9" r="3.0" fill="#4060e0"/><circle cx="493.7" cy="307.5" r="3.0"/><circle cx="494.1" cy="304.0" r="3.0"/><circle cx="494.6" cy="303.3" r="3.0"/><circle cx="494.9" cy="307.3" r="3.0" fill="#4060e0"/><circle cx="495.1" cy="312.3" r="3.0"/><circle cx="495.5" cy="315.8" r="3.0" fill="#4060e0"/><circle cx="496.0" cy="323.8" r="3.0"/><circle cx="496.3" cy="329.2" r="3.0"/><circle cx="496.6" cy="332.8" r="3.0" fill="#4060e0"/><circle cx="497.1" cy="326.9" r="3.0"/><circle cx="497.6" cy="323.4" r="3.0"/><circle cx="498.0" cy="320.4" r="3.0" fill="#4060e0"/><circle cx="498.4" cy="316.8" r="3.0" fill="#4060e0"/><circle cx="498.8" cy="317.5" r="3.0"/><circle cx="498.9" cy="323.8" r="3.0" fill="#4060e0"/><circle cx="499.4" cy="331.8" r="3.0" fill="#4060e0"/><circle cx="499.6" cy="338.3" r="3.0" fill="#4060e0"/><circle cx="499.9" cy="341.6" r="3.0"/><circle cx="500.5" cy="344.9" r="3.0" fill="#4060e0"/><circle cx="500.6" cy="340.6" r="3.0" fill="#4060e0"/><circle cx="500.8" cy="333.0" r="3.0" fill="#4060e0"/><circle cx="501.1" cy="326.0" r="3.0" fill="#4060e0"/><circle cx="501.4" cy="326.6" r="3.0"/><circle cx="502.0" cy="330.1" r="3.0"/><circle cx="502.5" cy="335.2" r="3.0" fill="#4060e0"/><circle cx="503.1" cy="340.3" r="3.0"/><circle cx="503.6" cy="344.0" r="3.0" fill="#4060e0"/><circle cx="503.9" cy="348.3" r="3.0"/><circle cx="504.1" cy="340.8" r="3.0"/><circle cx="504.7" cy="337.8" r="3.0"/><circle cx="505.2" cy="344.2" r="3.0"/><circle cx="505.4" cy="351.9" r="3.0"/><circle cx="505.6" cy="355.4" r="3.0" fill="#4060e0"/><circle cx="506.0" cy="360.6" r="3.0" fill="#4060e0"/><circle cx="506.6" cy="355.7" r="3.0" fill="#4060e0"/><circle cx="507.2" cy="348.9" r="3.0"/><circle cx="507.7" cy="341.1" r="3.0"/><circle cx="508.4" cy="340.3" r="3.0" fill="#4060e0"/><circle cx="508.7" cy="348.0" r="3.0" fill="#4060e0"/><circle cx="509.2" cy="353.6" r="3.0"/><circle cx="509.7" cy="355.7" r="3.0" fill="#4060e0"/><circle cx="510.3" cy="350.3" r="3.0" fill="#4060e0"/><circle cx="510.8" cy="347.0" r="3.0"/><circle cx="510.9" cy="340.3" r="3.0" fill="#4060e0"/><circle cx="511.4" cy="335.9" r="3.0"/><circle cx="512.1" cy="333.0" r="3.0"/><circle cx="512.3" cy="336.8" r="3.0" fill="#4060e0"/><circle cx="512.5" cy="341.8" r="3.0" fill="#4060e0"/><circle cx="512.6" cy="346.8" r="3.0" fill="#4060e0"/><circle cx="512.9" cy="351.6" r="3.0" fill="#4060e0"/><circle cx="513.3" cy="344.3" r="3.0" fill="#4060e0"/><circle cx="513.7" cy="339.5" r="3.0"/><circle cx="514.3" cy="334.0" r="3.0" fill="#4060e0"/><circle cx="514.9" cy="327.7" r="3.0"/><circle cx="515.1" cy="327.0" r="3.0"/><circle cx="515.6" cy="330.3" r="3.0"/><circle cx="516.2" cy="337.5" r="3.0"/><circle cx="516.6" cy="345.2" r="3.0"/><circle cx="517.1" cy="346.5" r="3.0"/><circle cx="517.7" cy="340.7" r="3.0" fill="#4060e0"/><circle cx="518.1" cy="337.4" r="3.0" fill="#4060e0"/><circle cx="518.5" cy="333.5" r="3.0"/><circle cx="519.1" cy="330.2" r="3.0" fill="#4060e0"/><circle cx="519.2" cy="334.6" r="3.0" fill="#4060e0"/><circle cx="519.8" cy="338.8" r="3.0" fill="#4060e0"/><circle cx="520.5" cy="343.1" r="3.0"/><circle cx="520.7" cy="337.8" r="3.0"/><circle cx="520.9" cy="336.9" r="3.0"/><circle cx="521.1" cy="341.2" r="3.0" fill="#4060e0"/><circle cx="521.7" cy="343.1" r="3.0" fill="#4060e0"/><circle cx="522.1" cy="337.7" r="3.0" fill="#4060e0"/><circle cx="522.3" cy="332.4" r="3.0" fill="#4060e0"/><circle cx="522.8" cy="330.9" r="3.0" fill="#4060e0"/><circle cx="291.1" cy="404.4" r="3.0"/><circle cx="286.3" cy="404.8" r="3.0" fill="#4060e0"/><circle cx="283.4" cy="370.6" r="3.0"/><circle cx="286.0" cy="392.7" r="3.0"/><circle cx="284.7" cy="380.8" r="3.0"/><circle cx="285.0" cy="352.8" r="3.0" fill="#4060e0"/><circle cx="285.2" cy="363.8" r="3.0" fill="#4060e0"/><circle cx="291.2" cy="406.2" r="3.0"/><circle cx="297.8" cy="358.9" r="3.0" fill="#4060e0"/><circle cx="297.8" cy="362.4" r="3.0" fill="#4060e0"/><circle cx="292.8" cy="381.2" r="3.0" fill="#4060e0"/><circle cx="289.4" cy="416.4" r="3.0" fill="#4060e0"/><circle cx="293.2" cy="392.7" r="3.0" fill="#4060e0"/><circle cx="286.0" cy="401.4" r="3.0" fill="#4060e0"/><circle cx="286.9" cy="411.6" r="3.0"/><circle cx="288.1" cy="399.3" r="3.0"/><circle cx="296.0" cy="349.0" r="3.0"/><circle cx="282.9" cy="367.2" r="3.0" fill="#4060e0"/><circle cx="292.7" cy="354.2" r="3.0" fill="#4060e0"/><circle cx="293.4" cy="365.3" r="3.0" fill="#4060e0"/><circle cx="295.6" cy="373.8" r="3.0" fill="#4060e0"/><circle cx="285.7" cy="397.9" r="3.0" fill="#4060e0"/><circle cx="294.2" cy="385.9" r="3.0" fill="#4060e0"/><circle cx="292.3" cy="399.5" r="3.0" fill="#4060e0"/><circle cx="290.8" cy="358.3" r="3.0" fill="#4060e0"/><circle cx="287.6" cy="418.4" r="3.0" fill="#4060e0"/><circle cx="293.1" cy="360.6" r="3.0" fill="#4060e0"/><circle cx="290.1" cy="413.0" r="3.0"/><circle cx="289.7" cy="396.8" r="3.0" fill="#4060e0"/><circle cx="283.9" cy="374.0" r="3.0" fill="#4060e0"/><circle cx="289.3" cy="408.1" r="3.0" fill="#4060e0"/><circle cx="285.8" cy="394.8" r="3.0" fill="#4060e0"/><circle cx="286.9" cy="403.6" r="3.0" fill="#4060e0"/><circle cx="288.4" cy="389.2" r="3.0"/><circle cx="288.2" cy="353.7" r="3.0" fill="#4060e0"/><circle cx="285.4" cy="394.5" r="3.0" fill="#4060e0"/><circle cx="289.4" cy="383.1" r="3.0" fill="#4060e0"/><circle cx="285.0" cy="387.7" r="3.0" fill="#4060e0"/><circle cx="287.6" cy="423.1" r="3.0" fill="#4060e0"/><circle cx="296.5" cy="353.5" r="3.0"/><circle cx="294.6" cy="370.0" r="3.0" fill="#4060e0"/><circle cx="297.8" cy="352.1" r="3.0"/><circle cx="282.2" cy="357.9" r="3.0" fill="#4060e0"/><circle cx="285.2" cy="391.1" r="3.0" fill="#4060e0"/><circle cx="297.7" cy="348.7" r="3.0" fill="#4060e0"/><circle cx="297.8" cy="355.5" r="3.0"/><circle cx="290.9" cy="347.9" r="3.0" fill="#4060e0"/><circle cx="296.7" cy="358.6" r="3.0"/><circle cx="284.2" cy="376.3" r="3.0"/><circle cx="291.8" cy="402.9" r="3.0" fill="#4060e0"/><circle cx="287.5" cy="347.6" r="3.0"/><circle cx="290.9" cy="410.5" r="3.0" fill="#4060e0"/><circle cx="286.4" cy="350.7" r="3.0"/><circle cx="286.6" cy="408.2" r="3.0" fill="#4060e0"/><circle cx="284.9" cy="384.2" r="3.0" fill="#4060e0"/><circle cx="288.5" cy="363.8" r="3.0" fill="#4060e0"/><circle cx="284.1" cy="347.2" r="3.0"/><circle cx="289.9" cy="371.6" r="3.0"/><circle cx="290.6" cy="409.6" r="3.0" fill="#4060e0"/><circle cx="282.4" cy="363.8" r="3.0" fill="#4060e0"/><circle cx="289.1" cy="360.6" r="3.0" fill="#4060e0"/><circle cx="282.0" cy="360.4" r="3.0" fill="#4060e0"/><circle cx="297.8" cy="365.8" r="3.0" fill="#4060e0"/><circle cx="290.6" cy="368.6" r="3.0" fill="#4060e0"/><circle cx="288.6" cy="419.7" r="3.0"/><circle cx="287.9" cy="421.9" r="3.0" fill="#4060e0"/><circle cx="284.7" cy="359.9" r="3.0"/><circle cx="292.8" cy="396.1" r="3.0"/><circle cx="287.1" cy="410.3" r="3.0" fill="#4060e0"/><circle cx="285.2" cy="368.2" r="3.0"/><circle cx="286.8" cy="407.6" r="3.0" fill="#4060e0"/><circle cx="295.1" cy="382.6" r="3.0" fill="#4060e0"/><circle cx="291.1" cy="392.8" r="3.0" fill="#4060e0"/><circle cx="296.1" cy="379.3" r="3.0"/><circle cx="280.7" cy="346.8" r="3.0" fill="#4060e0"/><circle cx="281.6" cy="357.0" r="3.0"/><circle cx="297.1" cy="363.7" r="3.0"/><circle cx="293.0" cy="375.3" r="3.0" fill="#4060e0"/><circle cx="297.0" cy="376.0" r="3.0" fill="#4060e0"/><circle cx="295.5" cy="362.2" r="3.0" fill="#4060e0"/><circle cx="287.6" cy="373.6" r="3.0"/><circle cx="281.3" cy="353.6" r="3.0" fill="#4060e0"/><circle cx="281.4" cy="350.8" r="3.0" fill="#4060e0"/><circle cx="297.8" cy="372.7" r="3.0"/><circle cx="287.1" cy="414.8" r="3.0" fill="#4060e0"/><circle cx="286.2" cy="356.3" r="3.0"/><circle cx="284.4" cy="377.4" r="3.0"/><circle cx="297.8" cy="369.2" r="3.0"/><circle cx="281.0" cy="350.2" r="3.0"/><circle cx="287.5" cy="381.4" r="3.0"/><circle cx="287.2" cy="415.0" r="3.0" fill="#4060e0"/><circle cx="293.6" cy="389.3" r="3.0" fill="#4060e0"/><circle cx="286.0" cy="384.7" r="3.0"/><circle cx="290.3" cy="376.0" r="3.0" fill="#4060e0"/><circle cx="291.5" cy="349.3" r="3.0" fill="#4060e0"/><circle cx="294.3" cy="348.3" r="3.0" fill="#4060e0"/><circle cx="312.2" cy="259.8" r="3.0" fill="#4060e0"/><circle cx="308.7" cy="225.6" r="3.0"/><circle cx="304.7" cy="331.3" r="3.0"/><circle cx="307.4" cy="277.2" r="3.0"/><circle cx="312.2" cy="253.9" r="3.0" fill="#4060e0"/><circle cx="310.5" cy="223.3" r="3.0"/><circle cx="307.7" cy="229.4" r="3.0" fill="#4060e0"/><circle cx="311.5" cy="301.4" r="3.0"/><circle cx="307.0" cy="266.8" r="3.0" fill="#4060e0"/><circle cx="304.7" cy="307.5" r="3.0" fill="#4060e0"/><circle cx="310.0" cy="258.2" r="3.0"/><circle cx="311.3" cy="245.5" r="3.0"/><circle cx="307.6" cy="239.6" r="3.0" fill="#4060e0"/><circle cx="308.1" cy="261.6" r="3.0"/><circle cx="306.1" cy="309.8" r="3.0"/><circle cx="311.5" cy="236.9" r="3.0"/><circle cx="310.5" cy="275.1" r="3.0"/><circle cx="311.3" cy="233.5" r="3.0"/><circle cx="307.4" cy="260.0" r="3.0" fill="#4060e0"/><circle cx="308.2" cy="314.5" r="3.0" fill="#4060e0"/><circle cx="306.0" cy="283.7" r="3.0" fill="#4060e0"/><circle cx="312.2" cy="274.3" r="3.0"/><circle cx="310.4" cy="287.6" r="3.0" fill="#4060e0"/><circle cx="305.4" cy="293.9" r="3.0"/><circle cx="304.7" cy="317.7" r="3.0"/><circle cx="310.9" cy="226.7" r="3.0" fill="#4060e0"/><circle cx="304.7" cy="310.9" r="3.0"/><circle cx="307.5" cy="242.2" r="3.0"/><circle cx="306.9" cy="324.6" r="3.0" fill="#4060e0"/><circle cx="307.4" cy="256.6" r="3.0" fill="#4060e0"/><circle cx="307.3" cy="324.6" r="3.0" fill="#4060e0"/><circle cx="304.4" cy="307.0" r="3.0" fill="#4060e0"/><circle cx="311.7" cy="240.3" r="3.0"/><circle cx="310.8" cy="232.7" r="3.0" fill="#4060e0"/><circle cx="307.7" cy="232.8" r="3.0"/><circle cx="304.7" cy="341.5" r="3.0"/><circle cx="312.2" cy="270.9" r="3.0" fill="#4060e0"/><circle cx="307.9" cy="215.8" r="3.0" fill="#4060e0"/><circle cx="306.2" cy="280.3" r="3.0"/><circle cx="312.2" cy="257.3" r="3.0"/><circle cx="306.2" cy="281.0" r="3.0" fill="#4060e0"/><circle cx="307.9" cy="219.2" r="3.0"/><circle cx="312.2" cy="250.5" r="3.0" fill="#4060e0"/><circle cx="307.8" cy="222.6" r="3.0"/><circle cx="308.9" cy="264.6" r="3.0"/><circle cx="307.8" cy="226.0" r="3.0" fill="#4060e0"/><circle cx="305.8" cy="287.1" r="3.0"/><circle cx="306.6" cy="273.5" r="3.0" fill="#4060e0"/><circle cx="307.6" cy="290.9" r="3.0"/><circle cx="307.3" cy="321.3" r="3.0" fill="#4060e0"/><circle cx="307.7" cy="236.2" r="3.0"/><circle cx="304.7" cy="321.1" r="3.0"/><circle cx="312.0" cy="247.1" r="3.0"/><circle cx="304.7" cy="338.1" r="3.0"/><circle cx="305.1" cy="338.1" r="3.0" fill="#4060e0"/><circle cx="308.3" cy="221.5" r="3.0"/><circle cx="312.2" cy="287.9" r="3.0" fill="#4060e0"/><circle cx="304.6" cy="341.3" r="3.0" fill="#4060e0"/><circle cx="310.7" cy="296.1" r="3.0"/><circle cx="304.7" cy="314.3" r="3.0"/><circle cx="306.5" cy="283.1" r="3.0"/><circle cx="304.9" cy="300.7" r="3.0"/><circle cx="309.9" cy="279.5" r="3.0" fill="#4060e0"/><circle cx="312.2" cy="294.7" r="3.0" fill="#4060e0"/><circle cx="312.2" cy="267.5" r="3.0" fill="#4060e0"/><circle cx="304.7" cy="324.5" r="3.0" fill="#4060e0"/><circle cx="305.1" cy="297.3" r="3.0" fill="#4060e0"/><circle cx="304.7" cy="327.9" r="3.0" fill="#4060e0"/><circle cx="307.6" cy="243.0" r="3.0" fill="#4060e0"/><circle cx="312.2" cy="277.7" r="3.0"/><circle cx="304.7" cy="334.7" r="3.0" fill="#4060e0"/><circle cx="310.0" cy="240.7" r="3.0"/><circle cx="312.2" cy="281.1" r="3.0"/><circle cx="312.2" cy="260.7" r="3.0" fill="#4060e0"/><circle cx="305.6" cy="334.8" r="3.0" fill="#4060e0"/><circle cx="306.6" cy="287.6" r="3.0" fill="#4060e0"/><circle cx="304.4" cy="338.1" r="3.0"/><circle cx="306.4" cy="328.0" r="3.0" fill="#4060e0"/><circle cx="307.6" cy="246.4" r="3.0"/><circle cx="306.9" cy="296.0" r="3.0"/><circle cx="307.7" cy="317.9" r="3.0" fill="#4060e0"/><circle cx="310.5" cy="283.0" r="3.0"/><circle cx="311.8" cy="243.7" r="3.0" fill="#4060e0"/><circle cx="305.6" cy="290.5" r="3.0"/><circle cx="307.5" cy="253.2" r="3.0"/><circle cx="312.2" cy="264.1" r="3.0"/><circle cx="308.7" cy="307.1" r="3.0" fill="#4060e0"/><circle cx="310.9" cy="268.1" r="3.0"/><circle cx="307.2" cy="263.4" r="3.0" fill="#4060e0"/><circle cx="308.6" cy="311.1" r="3.0" fill="#4060e0"/><circle cx="304.7" cy="333.3" r="3.0" fill="#4060e0"/><circle cx="312.2" cy="291.3" r="3.0"/><circle cx="305.0" cy="330.1" r="3.0"/><circle cx="306.4" cy="276.9" r="3.0"/><circle cx="306.8" cy="270.1" r="3.0" fill="#4060e0"/><circle cx="309.6" cy="216.6" r="3.0" fill="#4060e0"/><circle cx="312.0" cy="248.7" r="3.0" fill="#4060e0"/><circle cx="304.7" cy="304.1" r="3.0" fill="#4060e0"/><circle cx="307.9" cy="273.4" r="3.0"/><circle cx="312.2" cy="298.1" r="3.0" fill="#4060e0"/><circle cx="307.5" cy="249.8" r="3.0"/><circle cx="305.6" cy="303.5" r="3.0"/><circle cx="312.2" cy="284.5" r="3.0" fill="#4060e0"/><circle cx="310.0" cy="220.0" r="3.0"/><circle cx="307.7" cy="299.1" r="3.0"/><circle cx="309.3" cy="307.8" r="3.0"/><circle cx="310.4" cy="304.6" r="3.0" fill="#4060e0"/><circle cx="304.4" cy="314.3" r="3.0"/><circle cx="309.2" cy="218.9" r="3.0"/><circle cx="306.0" cy="331.4" r="3.0" fill="#4060e0"/><circle cx="310.6" cy="290.2" r="3.0"/><circle cx="309.9" cy="237.3" r="3.0" fill="#4060e0"/><circle cx="307.0" cy="318.4" r="3.0" fill="#4060e0"/><circle cx="311.1" cy="230.1" r="3.0"/><circle cx="309.7" cy="303.7" r="3.0" fill="#4060e0"/><circle cx="284.9" cy="385.2" r="3.0" fill="#4060e0"/><circle cx="293.8" cy="381.8" r="3.0" fill="#4060e0"/><circle cx="284.9" cy="391.0" r="3.0" fill="#4060e0"/><circle cx="293.8" cy="388.5" r="3.0" fill="#4060e0"/><circle cx="293.3" cy="394.9" r="3.0" fill="#4060e0"/><circle cx="284.9" cy="401.9" r="3.0" fill="#4060e0"/><circle cx="292.8" cy="404.4" r="3.0" fill="#4060e0"/><circle cx="292.4" cy="412.0" r="3.0" fill="#4060e0"/><circle cx="285.7" cy="413.7" r="3.0" fill="#4060e0"/><circle cx="292.1" cy="419.5" r="3.0" fill="#4060e0"/><circle cx="286.1" cy="419.5" r="3.0" fill="#4060e0"/><circle cx="291.6" cy="425.4" r="3.0" fill="#4060e0"/><circle cx="287.1" cy="427.1" r="3.0" fill="#4060e0"/><circle cx="287.4" cy="435.4" r="3.0" fill="#4060e0"/><circle cx="287.6" cy="438.0" r="3.0" fill="#4060e0"/></g>
<path d="M317.7,232.1 L317.8,232.0 L318.3,231.8 L318.9,231.7 L319.5,231.6 L320.1,231.6 L320.6,231.6 L321.2,231.7 L321.8,231.9 L322.3,232.1 L322.9,232.3 L323.4,232.6 L323.8,233.0 L324.3,233.4 L324.7,233.8 L325.0,234.3 L325.3,234.8 L325.5,235.3 L325.7,235.9 L325.9,236.4 L326.0,237.0 L326.0,237.6 L326.0,238.8 L330.2,248.8 L334.1,253.4 L338.8,254.1 L339.4,254.2 L339.9,254.3 L340.4,254.5 L343.8,256.0 L352.7,256.0 L353.3,256.0 L353.9,256.1 L354.5,256.3 L355.1,256.5 L355.6,256.8 L356.2,257.1 L356.6,257.5 L358.4,259.0 L361.6,260.7 L362.2,261.0 L362.7,261.4 L363.1,261.9 L366.0,264.9 L369.9,266.4 L370.4,266.6 L370.9,266.9 L371.3,267.2 L371.8,267.6 L372.2,268.0 L372.5,268.4 L372.8,268.9 L373.1,269.4 L377.0,277.4 L377.2,277.9 L380.8,287.3 L384.8,293.6 L387.2,295.0 L387.7,295.0 L389.0,293.4 L392.5,278.6 L392.6,278.0 L392.8,277.6 L392.5,277.7 L391.9,277.9 L391.3,278.0 L390.7,278.0 L385.6,278.0 L385.0,278.0 L384.5,277.9 L383.9,277.8 L383.4,277.6 L378.3,275.6 L377.8,275.3 L377.2,275.0 L376.8,274.7 L376.3,274.3 L375.9,273.9 L375.6,273.4 L375.2,272.9 L375.0,272.3 L369.9,260.3 L369.7,259.8 L369.5,259.2 L366.0,241.2 L365.7,241.3 L365.2,241.6 L364.6,241.8 L364.1,242.0 L363.5,242.1 L362.9,242.2 L362.3,242.2 L361.7,242.1 L361.2,242.0 L360.6,241.9 L360.0,241.6 L359.5,241.4 L359.0,241.0 L358.6,240.7 L358.2,240.2 L357.8,239.8 L354.0,234.7 L353.7,234.2 L352.7,232.7 L352.6,232.7 L352.2,233.1 L351.8,233.5 L351.3,233.8 L350.8,234.0 L350.2,234.2 L349.7,234.4 L349.1,234.5 L348.5,234.5 L348.0,234.5 L347.4,234.4 L346.8,234.3 L346.3,234.1 L345.8,233.9 L340.0,231.0 L336.7,229.6 L331.0,229.6 L330.4,229.6 L329.8,229.5 L329.2,229.3 L328.7,229.1 L328.1,228.9 L327.6,228.5 L327.1,228.2 L326.7,227.8 L326.3,227.3 L325.2,225.9 L324.8,225.4 L324.5,224.9 L324.3,224.4 L324.1,223.8 L324.0,223.2 L323.9,222.6 L323.9,222.0 L323.9,221.7 L322.7,212.1 L318.2,192.3 L318.1,192.1 L316.4,183.3 L316.2,196.1 L316.2,196.2 L315.5,214.7 L315.5,214.8 L314.6,232.0 L316.7,232.0 L317.3,232.0ZM401.4,266.0 L406.0,265.1 L406.6,265.0 L411.7,264.5 L412.3,264.5 L416.1,264.5 L416.7,264.5 L417.2,264.6 L417.8,264.7 L422.1,266.0 L426.3,266.0 L426.9,266.0 L427.5,266.1 L429.0,266.4 L429.9,265.3 L430.3,264.8 L430.8,264.4 L431.2,264.0 L431.8,263.7 L432.3,263.5 L432.9,263.3 L433.5,263.1 L434.1,263.0 L434.7,263.0 L435.3,263.0 L435.9,263.1 L436.4,263.3 L437.0,263.5 L437.6,263.8 L438.1,264.1 L438.5,264.5 L439.0,264.9 L439.7,265.7 L440.0,265.5 L440.4,265.1 L440.9,264.8 L441.5,264.5 L442.0,264.3 L442.6,264.1 L443.2,264.0 L443.8,264.0 L444.3,264.0 L444.9,264.1 L445.5,264.2 L446.1,264.4 L446.6,264.6 L447.1,264.9 L449.5,266.5 L450.6,266.1 L452.6,264.8 L456.2,251.4 L456.4,250.9 L457.5,247.9 L457.1,248.3 L456.6,248.6 L456.1,249.0 L455.6,249.2 L455.0,249.4 L454.4,249.6 L453.8,249.7 L453.2,249.7 L448.6,249.7 L448.0,249.7 L447.4,249.6 L446.8,249.4 L442.1,247.9 L441.9,247.9 L437.3,246.3 L436.9,246.1 L436.4,245.9 L436.0,245.6 L433.5,243.9 L430.5,246.8 L429.9,247.4 L424.8,251.2 L424.3,251.5 L423.8,251.8 L423.2,252.1 L422.6,252.2 L422.1,252.3 L421.5,252.4 L420.9,252.4 L420.3,252.3 L419.7,252.2 L419.1,252.0 L418.6,251.8 L418.0,251.5 L417.6,251.2 L417.1,250.8 L416.7,250.4 L416.3,249.9 L416.0,249.4 L414.7,247.1 L412.1,250.7 L411.7,251.2 L411.3,251.7 L410.8,252.1 L410.2,252.5 L406.3,254.8 L403.8,258.6ZM465.5,231.9 L469.9,224.8 L470.3,224.3 L470.8,223.8 L475.3,219.2 L484.8,204.0 L489.8,195.1 L490.1,194.5 L495.1,187.5 L495.4,187.1 L495.8,186.8 L500.5,182.1 L502.9,178.8 L505.6,173.3 L505.9,172.8 L506.2,172.3 L506.6,171.9 L507.0,171.5 L507.5,171.1 L508.0,170.8 L508.5,170.6 L509.0,170.3 L509.6,170.2 L510.1,170.1 L510.7,170.0 L511.3,170.0 L511.9,170.1 L512.4,170.2 L513.0,170.3 L513.5,170.6 L514.0,170.8 L514.5,171.1 L515.0,171.5 L515.4,171.9 L515.8,172.3 L516.1,172.8 L516.4,173.3 L517.0,174.6 L517.0,159.5 L513.8,158.9 L513.3,158.7 L512.7,158.6 L512.2,158.3 L511.7,158.0 L511.3,157.7 L510.8,157.3 L510.4,156.9 L510.1,156.5 L509.8,156.0 L509.7,155.8 L505.8,170.5 L505.6,171.1 L505.4,171.7 L505.0,172.3 L504.7,172.8 L504.2,173.2 L499.4,178.1 L495.1,183.3 L490.4,192.7 L490.1,193.2 L480.1,209.2 L479.7,209.7 L479.3,210.2 L478.7,210.7 L470.3,217.5 L467.8,226.6 L467.7,227.0 L467.5,227.4ZM109.0,317.0 L109.0,326.1 L109.2,326.3 L109.7,326.7 L110.1,327.1 L110.4,327.5 L110.7,328.0 L111.0,328.5 L111.7,330.2 L111.8,330.2 L112.2,329.7 L112.6,329.3 L113.1,329.0 L113.6,328.7 L114.2,328.4 L114.7,328.2 L115.3,328.1 L115.9,328.0 L116.5,328.0 L117.1,328.0 L117.7,328.1 L118.3,328.3 L118.8,328.5 L119.1,328.7 L118.8,327.6 L118.8,327.4 L116.5,318.3 L116.0,318.5 L115.4,318.7 L114.8,318.9 L114.2,319.0 L113.6,319.0 L113.0,319.0 L112.4,318.9 L111.8,318.7 L111.3,318.5 L110.7,318.2 L110.2,317.9ZM124.6,341.4 L124.9,342.4 L125.0,342.7 L126.6,350.1 L126.9,349.9 L127.4,349.6 L127.9,349.4 L128.5,349.2 L129.1,349.1 L129.6,349.0 L130.2,349.0 L130.8,349.1 L131.4,349.2 L131.9,349.3 L132.5,349.5 L133.0,349.8 L133.5,350.1 L133.9,350.4 L134.3,350.8 L134.7,351.3 L135.0,351.7 L135.3,352.2 L135.6,352.8 L138.4,359.8 L138.6,360.3 L138.7,360.9 L139.9,367.4 L140.1,367.2 L142.8,365.2 L142.9,365.1 L145.7,363.1 L146.2,362.8 L146.8,362.5 L147.4,362.3 L148.0,362.1 L148.6,362.0 L149.2,362.0 L151.9,362.0 L152.5,362.0 L153.0,362.1 L153.6,362.2 L154.2,362.4 L154.7,362.7 L155.2,363.0 L155.6,363.3 L156.1,363.7 L156.5,364.1 L156.8,364.6 L157.1,365.1 L157.4,365.6 L157.6,366.1 L157.8,366.7 L159.9,376.1 L161.0,376.8 L161.6,377.2 L162.1,377.6 L162.5,378.0 L164.0,379.8 L166.6,372.9 L166.6,372.8 L169.1,366.5 L168.8,366.7 L168.4,367.0 L167.8,367.3 L167.3,367.6 L166.8,367.8 L166.2,367.9 L165.6,368.0 L165.0,368.0 L164.4,368.0 L163.8,367.9 L163.3,367.7 L162.7,367.5 L162.2,367.2 L158.6,365.2 L158.1,365.0 L157.7,364.6 L157.3,364.3 L156.9,363.9 L156.6,363.4 L153.1,358.4 L152.9,358.2 L150.2,353.9 L148.6,352.8 L145.9,351.0 L145.4,350.6 L144.9,350.2 L144.5,349.8 L144.2,349.3 L143.9,348.7 L141.5,344.1 L139.9,342.5 L135.0,339.2 L134.5,338.8 L134.1,338.4 L134.0,338.4 L133.6,338.8 L130.9,340.8 L130.4,341.1 L129.9,341.4 L129.3,341.6 L128.8,341.8 L128.2,341.9 L127.6,342.0 L127.0,342.0 L126.5,341.9 L125.9,341.8 L125.3,341.7 L124.8,341.4ZM178.0,350.6 L178.4,350.3 L178.8,350.0 L179.3,349.7 L179.9,349.4 L180.4,349.2 L181.0,349.1 L181.5,349.0 L182.1,349.0 L185.7,349.0 L186.3,349.0 L186.8,349.1 L187.4,349.2 L187.9,349.4 L188.4,349.7 L188.9,349.9 L189.4,350.3 L189.8,350.6 L190.2,351.0 L193.3,354.6 L191.2,347.6 L189.4,346.3 L188.9,346.0 L188.4,345.5 L188.0,345.0 L184.4,340.3 L184.1,339.9 L183.8,339.4 L181.7,335.1 L181.4,335.7 L178.1,350.5ZM203.6,376.4 L205.7,388.4 L208.7,396.1 L211.1,399.4 L212.1,400.0 L212.9,400.0 L216.5,398.5 L217.0,398.3 L217.6,398.1 L218.2,398.0 L218.8,398.0 L219.4,398.0 L220.0,398.1 L220.6,398.3 L221.2,398.5 L221.7,398.7 L222.2,399.1 L222.7,399.4 L223.5,400.2 L224.0,399.8 L228.3,394.3 L228.7,393.8 L229.1,393.4 L229.6,393.1 L230.1,392.7 L230.6,392.5 L231.2,392.3 L231.8,392.1 L232.4,392.0 L233.0,392.0 L239.0,392.0 L239.6,392.0 L240.1,392.1 L240.7,392.2 L241.3,392.4 L241.8,392.7 L242.3,393.0 L242.7,393.3 L245.2,395.3 L245.6,395.7 L246.7,396.6 L248.0,397.0 L252.4,397.0 L254.9,389.3 L258.4,376.4 L258.6,375.9 L258.8,375.3 L259.1,374.8 L259.5,374.3 L263.1,369.7 L263.6,369.1 L267.1,365.7 L267.5,365.3 L267.9,365.0 L268.4,364.8 L272.0,362.8 L272.5,362.5 L273.1,362.3 L273.6,362.1 L274.2,362.0 L274.8,362.0 L275.4,362.0 L276.0,362.1 L276.5,362.2 L277.1,362.4 L277.6,362.7 L278.1,363.0 L278.6,363.3 L279.1,363.7 L279.5,364.1 L279.8,364.6 L280.1,365.1 L280.4,365.6 L283.1,371.7 L283.8,370.5 L287.2,363.4 L287.5,362.9 L287.8,362.4 L288.2,361.9 L288.7,361.5 L289.1,361.1 L289.7,360.8 L290.2,360.5 L290.8,360.3 L291.4,360.1 L292.0,360.0 L292.6,360.0 L292.7,360.0 L293.3,359.0 L293.6,358.5 L293.9,358.1 L295.8,355.9 L298.4,350.6 L298.4,349.6 L298.4,349.0 L298.5,348.3 L298.7,347.7 L298.9,347.1 L299.2,346.6 L304.4,337.7 L309.0,319.2 L309.1,315.1 L309.0,315.1 L308.6,315.5 L308.2,315.9 L307.7,316.3 L307.2,316.6 L306.7,316.8 L306.6,316.9 L306.6,316.9 L304.2,324.3 L304.1,324.7 L301.8,330.6 L301.6,331.1 L301.3,331.6 L300.9,332.1 L300.5,332.5 L300.1,332.9 L299.7,333.3 L299.2,333.6 L298.6,333.9 L295.0,335.5 L294.4,335.7 L293.8,335.9 L293.2,336.0 L292.6,336.0 L291.9,336.0 L291.2,335.9 L290.4,336.7 L287.4,342.7 L287.1,343.1 L286.9,343.5 L283.3,348.5 L282.9,349.0 L282.5,349.4 L282.0,349.8 L281.5,350.1 L281.0,350.4 L280.4,350.6 L279.9,350.8 L279.3,350.9 L278.7,351.0 L278.1,351.0 L277.5,350.9 L276.9,350.8 L276.3,350.6 L275.7,350.4 L275.2,350.1 L274.7,349.7 L274.3,349.4 L273.9,348.9 L273.5,348.4 L270.8,344.6 L270.5,344.4 L269.9,345.9 L266.5,358.4 L266.3,358.9 L266.1,359.5 L262.5,366.6 L262.2,367.1 L261.9,367.5 L258.4,372.2 L258.2,372.5 L255.3,375.9 L254.9,376.3 L254.4,376.7 L254.0,377.0 L253.5,377.3 L253.0,377.6 L252.4,377.7 L251.9,377.9 L251.3,378.0 L250.8,378.0 L250.2,378.0 L249.6,377.9 L249.1,377.8 L248.5,377.6 L248.0,377.4 L247.5,377.1 L246.4,376.4 L245.5,376.7 L244.9,376.9 L244.4,377.0 L243.8,377.0 L243.2,377.0 L242.6,376.9 L242.0,376.8 L241.5,376.6 L240.9,376.4 L240.4,376.1 L239.9,375.8 L239.5,375.4 L239.1,374.9 L238.7,374.5 L238.4,374.0 L238.1,373.5 L237.9,372.9 L237.8,372.6 L237.5,373.0 L237.1,373.4 L232.4,377.8 L231.9,378.2 L231.4,378.5 L230.9,378.8 L230.3,379.0 L229.8,379.2 L225.0,380.4 L224.4,380.5 L223.8,380.6 L223.2,380.6 L222.6,380.5 L222.0,380.4 L221.4,380.2 L220.9,380.0 L220.3,379.7 L219.9,379.4 L218.2,378.1 L217.1,378.6 L213.7,380.8 L213.2,381.1 L212.7,381.3 L212.1,381.5 L211.5,381.6 L210.9,381.7 L210.3,381.7 L209.7,381.6 L209.1,381.5 L208.5,381.4 L208.0,381.2 L207.5,380.9 L207.0,380.5 L206.5,380.2 L206.1,379.7 L205.7,379.3Z" fill="#ffa500"/>
<path d="M316.7,235.0 L317.0,235.0 L317.3,235.1 L317.6,235.1 L317.9,235.2 L318.0,235.3 L319.7,234.0 L326.9,221.4 L325.6,211.5 L321.1,191.7 L321.1,191.6 L318.6,178.6 L318.5,178.3 L318.5,178.1 L318.1,166.6 L314.3,166.6 L313.5,178.1 L313.2,196.0 L313.2,196.1 L312.5,214.6 L312.5,214.6 L311.6,232.8 L311.6,233.0 L311.4,235.0ZM307.2,338.9 L312.0,319.6 L312.4,293.0 L309.3,293.0 L306.5,320.2 L306.2,340.6Z" fill="#ffa500"/>
<g fill="#ffa500" stroke="#ffa500" stroke-width="2.8"><circle cx="103.0" cy="321.1" r="3.0"/><circle cx="103.4" cy="315.2" r="3.0" fill="#ffcc10"/><circle cx="103.6" cy="311.6" r="3.0" fill="#ffcc10"/><circle cx="103.9" cy="311.1" r="3.0" fill="#ffcc10"/><circle cx="104.4" cy="318.6" r="3.0" fill="#ffcc10"/><circle cx="104.9" cy="323.6" r="3.0"/><circle cx="105.5" cy="320.3" r="3.0"/><circle cx="105.8" cy="314.1" r="3.0"/><circle cx="105.9" cy="308.5" r="3.0" fill="#ffcc10"/><circle cx="106.4" cy="306.6" r="3.0" fill="#ffcc10"/><circle cx="107.0" cy="310.6" r="3.0" fill="#ffcc10"/><circle cx="107.5" cy="315.1" r="3.0"/><circle cx="108.1" cy="322.1" r="3.0" fill="#ffcc10"/><circle cx="108.7" cy="328.0" r="3.0"/><circle cx="108.9" cy="331.3" r="3.0"/><circle cx="109.3" cy="331.3" r="3.0"/><circle cx="109.9" cy="324.9" r="3.0" fill="#ffcc10"/><circle cx="110.5" cy="318.5" r="3.0" fill="#ffcc10"/><circle cx="110.9" cy="313.8" r="3.0"/><circle cx="111.1" cy="320.8" r="3.0"/><circle cx="111.4" cy="325.9" r="3.0" fill="#ffcc10"/><circle cx="111.7" cy="331.9" r="3.0"/><circle cx="112.2" cy="335.1" r="3.0"/><circle cx="112.9" cy="327.9" r="3.0"/><circle cx="113.0" cy="321.6" r="3.0"/><circle cx="113.5" cy="318.5" r="3.0"/><circle cx="113.8" cy="324.1" r="3.0" fill="#ffcc10"/><circle cx="113.9" cy="328.9" r="3.0" fill="#ffcc10"/><circle cx="114.1" cy="334.6" r="3.0"/><circle cx="114.7" cy="330.7" r="3.0" fill="#ffcc10"/><circle cx="115.1" cy="324.7" r="3.0"/><circle cx="115.7" cy="318.3" r="3.0"/><circle cx="116.1" cy="314.8" r="3.0" fill="#ffcc10"/><circle cx="116.7" cy="319.2" r="3.0"/><circle cx="116.9" cy="324.4" r="3.0"/><circle cx="117.3" cy="328.4" r="3.0" fill="#ffcc10"/><circle cx="117.5" cy="332.1" r="3.0" fill="#ffcc10"/><circle cx="117.9" cy="324.9" r="3.0"/><circle cx="118.3" cy="317.5" r="3.0" fill="#ffcc10"/><circle cx="118.6" cy="312.9" r="3.0"/><circle cx="119.3" cy="319.2" r="3.0"/><circle cx="119.7" cy="326.9" r="3.0"/><circle cx="120.1" cy="334.6" r="3.0"/><circle cx="120.8" cy="338.3" r="3.0" fill="#ffcc10"/><circle cx="121.0" cy="341.7" r="3.0" fill="#ffcc10"/><circle cx="121.6" cy="333.9" r="3.0" fill="#ffcc10"/><circle cx="122.1" cy="327.0" r="3.0" fill="#ffcc10"/><circle cx="122.5" cy="320.6" r="3.0"/><circle cx="123.0" cy="322.4" r="3.0" fill="#ffcc10"/><circle cx="123.5" cy="329.8" r="3.0" fill="#ffcc10"/><circle cx="124.1" cy="337.2" r="3.0"/><circle cx="124.3" cy="344.8" r="3.0"/><circle cx="124.7" cy="351.0" r="3.0"/><circle cx="125.3" cy="354.7" r="3.0" fill="#ffcc10"/><circle cx="126.0" cy="350.4" r="3.0"/><circle cx="126.3" cy="345.7" r="3.0" fill="#ffcc10"/><circle cx="126.8" cy="341.7" r="3.0"/><circle cx="127.1" cy="338.1" r="3.0" fill="#ffcc10"/><circle cx="127.5" cy="341.8" r="3.0"/><circle cx="127.9" cy="345.4" r="3.0"/><circle cx="128.1" cy="349.5" r="3.0" fill="#ffcc10"/><circle cx="128.6" cy="353.1" r="3.0" fill="#ffcc10"/><circle cx="128.8" cy="345.8" r="3.0"/><circle cx="129.2" cy="341.1" r="3.0" fill="#ffcc10"/><circle cx="129.5" cy="337.8" r="3.0"/><circle cx="129.6" cy="344.4" r="3.0" fill="#ffcc10"/><circle cx="130.3" cy="348.2" r="3.0" fill="#ffcc10"/><circle cx="130.5" cy="352.2" r="3.0" fill="#ffcc10"/><circle cx="130.7" cy="347.1" r="3.0" fill="#ffcc10"/><circle cx="131.0" cy="340.1" r="3.0"/><circle cx="131.5" cy="337.8" r="3.0" fill="#ffcc10"/><circle cx="131.9" cy="343.3" r="3.0" fill="#ffcc10"/><circle cx="132.3" cy="346.4" r="3.0" fill="#ffcc10"/><circle cx="132.7" cy="353.5" r="3.0"/><circle cx="133.0" cy="356.8" r="3.0"/><circle cx="133.3" cy="350.4" r="3.0"/><circle cx="133.9" cy="345.1" r="3.0" fill="#ffcc10"/><circle cx="134.1" cy="340.3" r="3.0"/><circle cx="134.8" cy="335.7" r="3.0" fill="#ffcc10"/><circle cx="135.3" cy="334.3" r="3.0" fill="#ffcc10"/><circle cx="135.9" cy="342.1" r="3.0"/><circle cx="136.0" cy="349.4" r="3.0" fill="#ffcc10"/><circle cx="136.2" cy="353.8" r="3.0"/><circle cx="136.4" cy="356.9" r="3.0"/><circle cx="136.6" cy="364.8" r="3.0"/><circle cx="136.9" cy="370.3" r="3.0" fill="#ffcc10"/><circle cx="137.5" cy="374.4" r="3.0" fill="#ffcc10"/><circle cx="138.0" cy="370.6" r="3.0"/><circle cx="138.4" cy="364.5" r="3.0"/><circle cx="138.8" cy="360.6" r="3.0"/><circle cx="139.3" cy="355.4" r="3.0"/><circle cx="139.8" cy="350.8" r="3.0"/><circle cx="140.0" cy="346.8" r="3.0"/><circle cx="140.5" cy="341.4" r="3.0" fill="#ffcc10"/><circle cx="141.2" cy="341.4" r="3.0"/><circle cx="141.6" cy="346.7" r="3.0"/><circle cx="142.1" cy="350.2" r="3.0"/><circle cx="142.7" cy="353.3" r="3.0"/><circle cx="143.3" cy="358.4" r="3.0"/><circle cx="143.9" cy="361.5" r="3.0"/><circle cx="144.2" cy="364.6" r="3.0" fill="#ffcc10"/><circle cx="144.4" cy="368.6" r="3.0"/><circle cx="144.9" cy="365.3" r="3.0" fill="#ffcc10"/><circle cx="145.3" cy="357.8" r="3.0"/><circle cx="145.5" cy="352.3" r="3.0"/><circle cx="146.1" cy="346.1" r="3.0" fill="#ffcc10"/><circle cx="146.5" cy="345.6" r="3.0"/><circle cx="146.7" cy="350.2" r="3.0" fill="#ffcc10"/><circle cx="147.2" cy="354.3" r="3.0"/><circle cx="147.3" cy="360.1" r="3.0"/><circle cx="147.8" cy="353.6" r="3.0"/><circle cx="148.4" cy="348.6" r="3.0"/><circle cx="148.8" cy="348.1" r="3.0" fill="#ffcc10"/><circle cx="149.4" cy="353.4" r="3.0" fill="#ffcc10"/><circle cx="149.6" cy="359.1" r="3.0"/><circle cx="149.9" cy="356.0" r="3.0"/><circle cx="150.3" cy="351.5" r="3.0" fill="#ffcc10"/><circle cx="150.9" cy="350.0" r="3.0" fill="#ffcc10"/><circle cx="151.4" cy="354.3" r="3.0"/><circle cx="151.9" cy="359.4" r="3.0" fill="#ffcc10"/><circle cx="152.4" cy="362.7" r="3.0" fill="#ffcc10"/><circle cx="152.9" cy="365.1" r="3.0" fill="#ffcc10"/><circle cx="153.1" cy="361.7" r="3.0" fill="#ffcc10"/><circle cx="153.2" cy="357.1" r="3.0"/><circle cx="153.8" cy="352.5" r="3.0"/><circle cx="153.9" cy="352.0" r="3.0" fill="#ffcc10"/><circle cx="154.5" cy="359.2" r="3.0"/><circle cx="154.9" cy="365.1" r="3.0" fill="#ffcc10"/><circle cx="155.5" cy="370.8" r="3.0" fill="#ffcc10"/><circle cx="155.6" cy="376.5" r="3.0"/><circle cx="156.2" cy="373.2" r="3.0" fill="#ffcc10"/><circle cx="156.3" cy="366.8" r="3.0"/><circle cx="156.7" cy="359.5" r="3.0" fill="#ffcc10"/><circle cx="156.9" cy="356.6" r="3.0"/><circle cx="157.5" cy="360.7" r="3.0" fill="#ffcc10"/><circle cx="158.0" cy="368.4" r="3.0"/><circle cx="158.2" cy="372.7" r="3.0" fill="#ffcc10"/><circle cx="158.7" cy="377.9" r="3.0" fill="#ffcc10"/><circle cx="158.9" cy="378.8" r="3.0" fill="#ffcc10"/><circle cx="159.4" cy="373.8" r="3.0" fill="#ffcc10"/><circle cx="159.6" cy="366.3" r="3.0" fill="#ffcc10"/><circle cx="159.8" cy="360.5" r="3.0"/><circle cx="160.0" cy="364.8" r="3.0" fill="#ffcc10"/><circle cx="160.4" cy="369.1" r="3.0"/><circle cx="161.1" cy="376.5" r="3.0"/><circle cx="161.7" cy="380.0" r="3.0"/><circle cx="162.3" cy="381.4" r="3.0" fill="#ffcc10"/><circle cx="162.6" cy="377.2" r="3.0" fill="#ffcc10"/><circle cx="163.1" cy="373.7" r="3.0" fill="#ffcc10"/><circle cx="163.4" cy="367.2" r="3.0"/><circle cx="163.9" cy="364.3" r="3.0" fill="#ffcc10"/><circle cx="164.5" cy="372.1" r="3.0" fill="#ffcc10"/><circle cx="164.7" cy="380.0" r="3.0" fill="#ffcc10"/><circle cx="165.0" cy="380.3" r="3.0" fill="#ffcc10"/><circle cx="165.3" cy="375.1" r="3.0" fill="#ffcc10"/><circle cx="165.4" cy="367.6" r="3.0" fill="#ffcc10"/><circle cx="165.8" cy="372.5" r="3.0"/><circle cx="166.1" cy="377.6" r="3.0" fill="#ffcc10"/><circle cx="166.5" cy="383.8" r="3.0" fill="#ffcc10"/><circle cx="166.6" cy="378.1" r="3.0" fill="#ffcc10"/><circle cx="167.0" cy="374.9" r="3.0" fill="#ffcc10"/><circle cx="167.5" cy="368.7" r="3.0"/><circle cx="168.0" cy="366.6" r="3.0" fill="#ffcc10"/><circle cx="168.4" cy="370.7" r="3.0" fill="#ffcc10"/><circle cx="169.0" cy="374.9" r="3.0" fill="#ffcc10"/><circle cx="169.7" cy="377.7" r="3.0" fill="#ffcc10"/><circle cx="170.1" cy="374.7" r="3.0" fill="#ffcc10"/><circle cx="170.5" cy="370.7" r="3.0" fill="#ffcc10"/><circle cx="170.7" cy="364.1" r="3.0" fill="#ffcc10"/><circle cx="171.1" cy="358.4" r="3.0" fill="#ffcc10"/><circle cx="171.7" cy="357.6" r="3.0"/><circle cx="172.1" cy="362.1" r="3.0" fill="#ffcc10"/><circle cx="172.6" cy="366.5" r="3.0"/><circle cx="173.2" cy="369.6" r="3.0"/><circle cx="173.4" cy="362.2" r="3.0" fill="#ffcc10"/><circle cx="173.6" cy="357.2" r="3.0"/><circle cx="173.9" cy="352.6" r="3.0"/><circle cx="174.4" cy="348.6" r="3.0"/><circle cx="174.9" cy="346.9" r="3.0"/><circle cx="175.2" cy="352.7" r="3.0" fill="#ffcc10"/><circle cx="175.5" cy="359.4" r="3.0"/><circle cx="176.1" cy="362.3" r="3.0" fill="#ffcc10"/><circle cx="176.4" cy="357.9" r="3.0" fill="#ffcc10"/><circle cx="176.6" cy="354.2" r="3.0" fill="#ffcc10"/><circle cx="177.2" cy="350.0" r="3.0"/><circle cx="177.8" cy="346.2" r="3.0"/><circle cx="178.5" cy="340.0" r="3.0"/><circle cx="179.1" cy="336.5" r="3.0"/><circle cx="179.6" cy="343.4" r="3.0" fill="#ffcc10"/><circle cx="179.8" cy="349.8" r="3.0"/><circle cx="180.4" cy="354.5" r="3.0"/><circle cx="180.7" cy="350.4" r="3.0" fill="#ffcc10"/><circle cx="181.1" cy="344.3" r="3.0"/><circle cx="181.8" cy="340.0" r="3.0" fill="#ffcc10"/><circle cx="182.3" cy="332.4" r="3.0" fill="#ffcc10"/><circle cx="182.7" cy="328.7" r="3.0" fill="#ffcc10"/><circle cx="183.4" cy="333.6" r="3.0" fill="#ffcc10"/><circle cx="183.7" cy="341.3" r="3.0"/><circle cx="184.3" cy="348.4" r="3.0" fill="#ffcc10"/><circle cx="184.8" cy="352.1" r="3.0"/><circle cx="185.0" cy="347.3" r="3.0" fill="#ffcc10"/><circle cx="185.6" cy="340.3" r="3.0"/><circle cx="186.0" cy="333.6" r="3.0"/><circle cx="186.2" cy="333.4" r="3.0"/><circle cx="186.7" cy="339.9" r="3.0" fill="#ffcc10"/><circle cx="187.2" cy="347.4" r="3.0"/><circle cx="187.6" cy="348.3" r="3.0"/><circle cx="188.1" cy="341.7" r="3.0"/><circle cx="188.4" cy="341.2" r="3.0"/><circle cx="188.6" cy="345.3" r="3.0" fill="#ffcc10"/><circle cx="188.7" cy="351.2" r="3.0" fill="#ffcc10"/><circle cx="189.1" cy="354.6" r="3.0" fill="#ffcc10"/><circle cx="189.8" cy="351.2" r="3.0" fill="#ffcc10"/><circle cx="189.9" cy="347.7" r="3.0"/><circle cx="190.4" cy="341.4" r="3.0" fill="#ffcc10"/><circle cx="190.9" cy="348.0" r="3.0" fill="#ffcc10"/><circle cx="191.4" cy="355.2" r="3.0" fill="#ffcc10"/><circle cx="192.0" cy="355.2" r="3.0"/><circle cx="192.6" cy="350.9" r="3.0"/><circle cx="193.3" cy="345.1" r="3.0" fill="#ffcc10"/><circle cx="193.5" cy="352.4" r="3.0" fill="#ffcc10"/><circle cx="193.7" cy="358.0" r="3.0" fill="#ffcc10"/><circle cx="194.3" cy="360.1" r="3.0" fill="#ffcc10"/><circle cx="194.7" cy="354.5" r="3.0" fill="#ffcc10"/><circle cx="195.1" cy="350.8" r="3.0" fill="#ffcc10"/><circle cx="195.5" cy="347.4" r="3.0" fill="#ffcc10"/><circle cx="195.6" cy="346.8" r="3.0"/><circle cx="195.8" cy="351.3" r="3.0"/><circle cx="196.4" cy="358.9" r="3.0"/><circle cx="196.6" cy="365.5" r="3.0"/><circle cx="197.1" cy="365.8" r="3.0" fill="#ffcc10"/><circle cx="197.3" cy="362.2" r="3.0"/><circle cx="197.7" cy="355.9" r="3.0"/><circle cx="197.9" cy="352.0" r="3.0" fill="#ffcc10"/><circle cx="198.2" cy="355.5" r="3.0"/><circle cx="198.7" cy="361.3" r="3.0"/><circle cx="199.1" cy="366.3" r="3.0"/><circle cx="199.3" cy="372.6" r="3.0"/><circle cx="199.7" cy="373.8" r="3.0" fill="#ffcc10"/><circle cx="200.1" cy="367.1" r="3.0"/><circle cx="200.3" cy="360.0" r="3.0"/><circle cx="200.8" cy="361.2" r="3.0"/><circle cx="200.9" cy="368.1" r="3.0" fill="#ffcc10"/><circle cx="201.3" cy="371.7" r="3.0"/><circle cx="202.0" cy="377.2" r="3.0"/><circle cx="202.5" cy="382.0" r="3.0" fill="#ffcc10"/><circle cx="202.9" cy="387.9" r="3.0"/><circle cx="203.4" cy="389.2" r="3.0" fill="#ffcc10"/><circle cx="203.8" cy="383.6" r="3.0"/><circle cx="204.4" cy="377.3" r="3.0" fill="#ffcc10"/><circle cx="204.6" cy="376.8" r="3.0"/><circle cx="205.2" cy="381.3" r="3.0"/><circle cx="205.5" cy="386.2" r="3.0"/><circle cx="205.9" cy="389.5" r="3.0"/><circle cx="206.2" cy="394.9" r="3.0"/><circle cx="206.8" cy="396.1" r="3.0"/><circle cx="206.9" cy="391.1" r="3.0" fill="#ffcc10"/><circle cx="207.5" cy="385.3" r="3.0" fill="#ffcc10"/><circle cx="208.0" cy="380.3" r="3.0"/><circle cx="208.4" cy="376.0" r="3.0"/><circle cx="208.6" cy="376.1" r="3.0"/><circle cx="209.2" cy="381.5" r="3.0"/><circle cx="209.8" cy="385.5" r="3.0" fill="#ffcc10"/><circle cx="210.2" cy="392.4" r="3.0"/><circle cx="210.5" cy="399.2" r="3.0" fill="#ffcc10"/><circle cx="211.1" cy="402.2" r="3.0" fill="#ffcc10"/><circle cx="211.5" cy="397.5" r="3.0"/><circle cx="211.7" cy="393.3" r="3.0" fill="#ffcc10"/><circle cx="211.9" cy="386.8" r="3.0" fill="#ffcc10"/><circle cx="212.1" cy="382.9" r="3.0"/><circle cx="212.3" cy="378.0" r="3.0"/><circle cx="212.5" cy="385.2" r="3.0" fill="#ffcc10"/><circle cx="212.7" cy="391.7" r="3.0"/><circle cx="213.3" cy="398.0" r="3.0"/><circle cx="213.9" cy="401.6" r="3.0"/><circle cx="214.2" cy="403.0" r="3.0"/><circle cx="214.9" cy="399.6" r="3.0"/><circle cx="215.1" cy="395.2" r="3.0" fill="#ffcc10"/><circle cx="215.4" cy="390.8" r="3.0" fill="#ffcc10"/><circle cx="216.0" cy="385.1" r="3.0"/><circle cx="216.2" cy="380.1" r="3.0"/><circle cx="216.8" cy="376.4" r="3.0"/><circle cx="217.1" cy="375.9" r="3.0" fill="#ffcc10"/><circle cx="217.3" cy="379.7" r="3.0" fill="#ffcc10"/><circle cx="217.8" cy="385.0" r="3.0" fill="#ffcc10"/><circle cx="218.4" cy="389.8" r="3.0" fill="#ffcc10"/><circle cx="219.1" cy="397.2" r="3.0" fill="#ffcc10"/><circle cx="219.3" cy="401.3" r="3.0" fill="#ffcc10"/><circle cx="219.5" cy="393.8" r="3.0"/><circle cx="220.2" cy="387.0" r="3.0" fill="#ffcc10"/><circle cx="220.4" cy="383.1" r="3.0"/><circle cx="220.9" cy="379.3" r="3.0" fill="#ffcc10"/><circle cx="221.1" cy="384.9" r="3.0"/><circle cx="221.4" cy="392.8" r="3.0"/><circle cx="221.9" cy="396.9" r="3.0" fill="#ffcc10"/><circle cx="222.1" cy="389.4" r="3.0"/><circle cx="222.6" cy="381.7" r="3.0" fill="#ffcc10"/><circle cx="223.0" cy="377.1" r="3.0"/><circle cx="223.7" cy="383.3" r="3.0" fill="#ffcc10"/><circle cx="224.1" cy="389.6" r="3.0" fill="#ffcc10"/><circle cx="224.6" cy="393.6" r="3.0" fill="#ffcc10"/><circle cx="225.3" cy="399.2" r="3.0"/><circle cx="225.5" cy="400.8" r="3.0" fill="#ffcc10"/><circle cx="226.1" cy="396.2" r="3.0"/><circle cx="226.3" cy="388.5" r="3.0" fill="#ffcc10"/><circle cx="226.6" cy="384.7" r="3.0"/><circle cx="226.9" cy="388.4" r="3.0"/><circle cx="227.2" cy="392.6" r="3.0"/><circle cx="227.7" cy="398.6" r="3.0" fill="#ffcc10"/><circle cx="228.0" cy="399.6" r="3.0" fill="#ffcc10"/><circle cx="228.4" cy="391.9" r="3.0"/><circle cx="229.1" cy="387.3" r="3.0" fill="#ffcc10"/><circle cx="229.7" cy="381.0" r="3.0"/><circle cx="230.3" cy="377.3" r="3.0" fill="#ffcc10"/><circle cx="230.4" cy="383.7" r="3.0"/><circle cx="230.9" cy="388.8" r="3.0" fill="#ffcc10"/><circle cx="231.4" cy="391.8" r="3.0"/><circle cx="231.8" cy="396.6" r="3.0" fill="#ffcc10"/><circle cx="232.2" cy="390.6" r="3.0"/><circle cx="232.6" cy="385.0" r="3.0"/><circle cx="233.0" cy="377.6" r="3.0"/><circle cx="233.2" cy="375.4" r="3.0"/><circle cx="233.6" cy="382.9" r="3.0" fill="#ffcc10"/><circle cx="233.9" cy="387.5" r="3.0"/><circle cx="234.4" cy="390.9" r="3.0" fill="#ffcc10"/><circle cx="234.8" cy="395.0" r="3.0" fill="#ffcc10"/><circle cx="235.1" cy="390.0" r="3.0"/><circle cx="235.7" cy="386.8" r="3.0"/><circle cx="236.1" cy="381.4" r="3.0" fill="#ffcc10"/><circle cx="236.3" cy="376.0" r="3.0"/><circle cx="236.9" cy="369.6" r="3.0"/><circle cx="237.4" cy="366.4" r="3.0" fill="#ffcc10"/><circle cx="237.6" cy="362.6" r="3.0"/><circle cx="237.8" cy="359.0" r="3.0" fill="#ffcc10"/><circle cx="238.4" cy="358.9" r="3.0" fill="#ffcc10"/><circle cx="238.6" cy="364.7" r="3.0"/><circle cx="239.1" cy="372.4" r="3.0"/><circle cx="239.6" cy="380.2" r="3.0"/><circle cx="239.8" cy="383.6" r="3.0"/><circle cx="240.2" cy="389.6" r="3.0" fill="#ffcc10"/><circle cx="240.9" cy="390.1" r="3.0" fill="#ffcc10"/><circle cx="241.5" cy="387.1" r="3.0" fill="#ffcc10"/><circle cx="241.7" cy="382.4" r="3.0"/><circle cx="241.9" cy="374.8" r="3.0" fill="#ffcc10"/><circle cx="242.4" cy="368.9" r="3.0" fill="#ffcc10"/><circle cx="242.7" cy="373.7" r="3.0"/><circle cx="242.9" cy="379.9" r="3.0"/><circle cx="243.6" cy="386.0" r="3.0"/><circle cx="243.8" cy="390.6" r="3.0"/><circle cx="244.3" cy="396.0" r="3.0"/><circle cx="244.5" cy="398.0" r="3.0"/><circle cx="245.1" cy="392.5" r="3.0"/><circle cx="245.7" cy="386.1" r="3.0" fill="#ffcc10"/><circle cx="246.1" cy="379.3" r="3.0" fill="#ffcc10"/><circle cx="246.7" cy="374.0" r="3.0" fill="#ffcc10"/><circle cx="247.2" cy="378.4" r="3.0"/><circle cx="247.9" cy="381.6" r="3.0"/><circle cx="248.1" cy="387.7" r="3.0" fill="#ffcc10"/><circle cx="248.3" cy="394.6" r="3.0" fill="#ffcc10"/><circle cx="248.5" cy="398.7" r="3.0"/><circle cx="248.9" cy="395.5" r="3.0"/><circle cx="249.4" cy="388.0" r="3.0"/><circle cx="249.6" cy="383.9" r="3.0"/><circle cx="249.7" cy="380.2" r="3.0" fill="#ffcc10"/><circle cx="250.1" cy="375.4" r="3.0"/><circle cx="250.4" cy="380.9" r="3.0" fill="#ffcc10"/><circle cx="250.7" cy="388.1" r="3.0" fill="#ffcc10"/><circle cx="251.3" cy="395.7" r="3.0"/><circle cx="251.4" cy="398.5" r="3.0"/><circle cx="251.7" cy="393.7" r="3.0" fill="#ffcc10"/><circle cx="251.9" cy="389.4" r="3.0" fill="#ffcc10"/><circle cx="252.1" cy="382.8" r="3.0" fill="#ffcc10"/><circle cx="252.2" cy="378.2" r="3.0"/><circle cx="252.7" cy="373.8" r="3.0" fill="#ffcc10"/><circle cx="253.1" cy="377.0" r="3.0"/><circle cx="253.3" cy="383.4" r="3.0"/><circle cx="253.8" cy="388.2" r="3.0" fill="#ffcc10"/><circle cx="254.4" cy="395.5" r="3.0"/><circle cx="254.8" cy="398.7" r="3.0"/><circle cx="255.3" cy="399.6" r="3.0" fill="#ffcc10"/><circle cx="255.5" cy="396.3" r="3.0" fill="#ffcc10"/><circle cx="255.8" cy="389.7" r="3.0"/><circle cx="256.1" cy="386.6" r="3.0" fill="#ffcc10"/><circle cx="256.5" cy="380.9" r="3.0"/><circle cx="256.9" cy="376.3" r="3.0" fill="#ffcc10"/><circle cx="257.4" cy="372.0" r="3.0" fill="#ffcc10"/><circle cx="257.7" cy="378.6" r="3.0"/><circle cx="258.1" cy="381.7" r="3.0"/><circle cx="258.5" cy="388.0" r="3.0" fill="#ffcc10"/><circle cx="258.6" cy="394.5" r="3.0" fill="#ffcc10"/><circle cx="259.3" cy="390.8" r="3.0"/><circle cx="259.6" cy="383.0" r="3.0" fill="#ffcc10"/><circle cx="260.1" cy="376.2" r="3.0"/><circle cx="260.6" cy="372.7" r="3.0"/><circle cx="261.0" cy="366.4" r="3.0" fill="#ffcc10"/><circle cx="261.2" cy="363.2" r="3.0" fill="#ffcc10"/><circle cx="261.4" cy="362.6" r="3.0" fill="#ffcc10"/><circle cx="261.5" cy="365.8" r="3.0" fill="#ffcc10"/><circle cx="262.0" cy="373.0" r="3.0"/><circle cx="262.4" cy="379.0" r="3.0"/><circle cx="263.0" cy="379.7" r="3.0"/><circle cx="263.4" cy="375.2" r="3.0"/><circle cx="263.9" cy="370.7" r="3.0"/><circle cx="264.3" cy="364.7" r="3.0" fill="#ffcc10"/><circle cx="264.7" cy="357.1" r="3.0"/><circle cx="264.8" cy="353.7" r="3.0" fill="#ffcc10"/><circle cx="265.2" cy="356.8" r="3.0"/><circle cx="265.4" cy="362.6" r="3.0" fill="#ffcc10"/><circle cx="265.7" cy="369.0" r="3.0" fill="#ffcc10"/><circle cx="265.9" cy="372.9" r="3.0" fill="#ffcc10"/><circle cx="266.3" cy="369.4" r="3.0" fill="#ffcc10"/><circle cx="266.9" cy="363.3" r="3.0" fill="#ffcc10"/><circle cx="267.5" cy="356.9" r="3.0" fill="#ffcc10"/><circle cx="268.0" cy="349.7" r="3.0"/><circle cx="268.2" cy="346.0" r="3.0"/><circle cx="268.3" cy="342.2" r="3.0" fill="#ffcc10"/><circle cx="268.9" cy="350.0" r="3.0"/><circle cx="269.0" cy="354.6" r="3.0" fill="#ffcc10"/><circle cx="269.4" cy="362.3" r="3.0"/><circle cx="270.1" cy="368.3" r="3.0" fill="#ffcc10"/><circle cx="270.5" cy="364.1" r="3.0"/><circle cx="270.9" cy="356.5" r="3.0" fill="#ffcc10"/><circle cx="271.2" cy="349.7" r="3.0" fill="#ffcc10"/><circle cx="271.7" cy="346.3" r="3.0"/><circle cx="272.2" cy="351.1" r="3.0" fill="#ffcc10"/><circle cx="272.6" cy="355.0" r="3.0"/><circle cx="272.9" cy="359.7" r="3.0" fill="#ffcc10"/><circle cx="273.3" cy="365.5" r="3.0"/><circle cx="273.8" cy="365.6" r="3.0" fill="#ffcc10"/><circle cx="274.1" cy="360.8" r="3.0"/><circle cx="274.4" cy="353.8" r="3.0" fill="#ffcc10"/><circle cx="274.9" cy="349.4" r="3.0"/><circle cx="275.2" cy="348.8" r="3.0"/><circle cx="275.7" cy="355.7" r="3.0" fill="#ffcc10"/><circle cx="276.0" cy="359.8" r="3.0"/><circle cx="276.5" cy="364.6" r="3.0" fill="#ffcc10"/><circle cx="277.0" cy="366.8" r="3.0"/><circle cx="277.2" cy="363.8" r="3.0" fill="#ffcc10"/><circle cx="277.7" cy="357.6" r="3.0" fill="#ffcc10"/><circle cx="278.1" cy="352.7" r="3.0" fill="#ffcc10"/><circle cx="278.5" cy="347.8" r="3.0"/><circle cx="278.7" cy="352.6" r="3.0"/><circle cx="279.1" cy="358.5" r="3.0"/><circle cx="279.5" cy="363.2" r="3.0"/><circle cx="279.9" cy="367.4" r="3.0"/><circle cx="280.2" cy="372.6" r="3.0" fill="#ffcc10"/><circle cx="280.3" cy="373.4" r="3.0"/><circle cx="280.8" cy="367.9" r="3.0" fill="#ffcc10"/><circle cx="281.2" cy="364.1" r="3.0"/><circle cx="281.7" cy="358.6" r="3.0"/><circle cx="282.3" cy="354.8" r="3.0"/><circle cx="282.5" cy="348.8" r="3.0"/><circle cx="282.9" cy="344.5" r="3.0"/><circle cx="283.6" cy="351.3" r="3.0"/><circle cx="284.2" cy="354.4" r="3.0" fill="#ffcc10"/><circle cx="284.5" cy="358.2" r="3.0" fill="#ffcc10"/><circle cx="285.1" cy="363.9" r="3.0" fill="#ffcc10"/><circle cx="285.6" cy="371.6" r="3.0"/><circle cx="285.9" cy="375.7" r="3.0"/><circle cx="286.3" cy="370.8" r="3.0"/><circle cx="286.5" cy="362.8" r="3.0"/><circle cx="286.7" cy="358.6" r="3.0" fill="#ffcc10"/><circle cx="286.9" cy="354.8" r="3.0" fill="#ffcc10"/><circle cx="287.5" cy="350.6" r="3.0"/><circle cx="288.1" cy="345.9" r="3.0"/><circle cx="288.6" cy="340.0" r="3.0"/><circle cx="288.7" cy="347.1" r="3.0" fill="#ffcc10"/><circle cx="289.0" cy="350.1" r="3.0" fill="#ffcc10"/><circle cx="289.2" cy="356.0" r="3.0"/><circle cx="289.5" cy="363.3" r="3.0"/><circle cx="289.7" cy="368.1" r="3.0" fill="#ffcc10"/><circle cx="290.3" cy="367.9" r="3.0"/><circle cx="290.5" cy="363.0" r="3.0"/><circle cx="291.1" cy="359.1" r="3.0" fill="#ffcc10"/><circle cx="291.6" cy="353.2" r="3.0"/><circle cx="291.8" cy="346.6" r="3.0"/><circle cx="292.0" cy="343.4" r="3.0"/><circle cx="292.1" cy="338.4" r="3.0" fill="#ffcc10"/><circle cx="292.5" cy="334.2" r="3.0" fill="#ffcc10"/><circle cx="293.0" cy="338.1" r="3.0" fill="#ffcc10"/><circle cx="293.6" cy="345.6" r="3.0"/><circle cx="294.0" cy="350.0" r="3.0" fill="#ffcc10"/><circle cx="294.7" cy="355.1" r="3.0"/><circle cx="295.3" cy="359.0" r="3.0" fill="#ffcc10"/><circle cx="295.7" cy="362.5" r="3.0"/><circle cx="296.2" cy="362.9" r="3.0"/><circle cx="296.7" cy="359.2" r="3.0" fill="#ffcc10"/><circle cx="297.1" cy="354.8" r="3.0" fill="#ffcc10"/><circle cx="297.3" cy="348.0" r="3.0"/><circle cx="297.9" cy="342.5" r="3.0"/><circle cx="298.2" cy="335.9" r="3.0"/><circle cx="298.5" cy="331.3" r="3.0" fill="#ffcc10"/><circle cx="298.6" cy="335.9" r="3.0" fill="#ffcc10"/><circle cx="299.3" cy="341.0" r="3.0"/><circle cx="299.9" cy="345.3" r="3.0"/><circle cx="300.4" cy="349.1" r="3.0" fill="#ffcc10"/><circle cx="301.0" cy="353.2" r="3.0"/><circle cx="301.1" cy="353.8" r="3.0"/><circle cx="301.4" cy="350.0" r="3.0"/><circle cx="301.7" cy="342.6" r="3.0" fill="#ffcc10"/><circle cx="302.1" cy="336.9" r="3.0" fill="#ffcc10"/><circle cx="302.7" cy="331.4" r="3.0"/><circle cx="302.9" cy="323.9" r="3.0" fill="#ffcc10"/><circle cx="303.4" cy="319.9" r="3.0" fill="#ffcc10"/><circle cx="303.7" cy="317.0" r="3.0" fill="#ffcc10"/><circle cx="304.4" cy="324.7" r="3.0" fill="#ffcc10"/><circle cx="320.0" cy="236.0" r="3.0"/><circle cx="320.7" cy="236.4" r="3.0" fill="#ffcc10"/><circle cx="320.8" cy="230.8" r="3.0"/><circle cx="321.0" cy="229.5" r="3.0" fill="#ffcc10"/><circle cx="321.7" cy="235.6" r="3.0"/><circle cx="322.3" cy="238.8" r="3.0"/><circle cx="322.8" cy="239.2" r="3.0"/><circle cx="323.1" cy="234.6" r="3.0"/><circle cx="323.4" cy="228.5" r="3.0"/><circle cx="324.0" cy="222.0" r="3.0"/><circle cx="324.1" cy="229.3" r="3.0"/><circle cx="324.3" cy="234.6" r="3.0" fill="#ffcc10"/><circle cx="324.5" cy="239.3" r="3.0"/><circle cx="325.1" cy="240.0" r="3.0" fill="#ffcc10"/><circle cx="325.5" cy="233.9" r="3.0"/><circle cx="325.7" cy="229.2" r="3.0" fill="#ffcc10"/><circle cx="326.0" cy="226.0" r="3.0" fill="#ffcc10"/><circle cx="326.5" cy="224.3" r="3.0"/><circle cx="327.2" cy="230.7" r="3.0"/><circle cx="327.8" cy="237.8" r="3.0"/><circle cx="328.1" cy="242.9" r="3.0"/><circle cx="328.2" cy="247.5" r="3.0"/><circle cx="328.5" cy="248.9" r="3.0" fill="#ffcc10"/><circle cx="328.8" cy="241.4" r="3.0"/><circle cx="329.0" cy="236.4" r="3.0"/><circle cx="329.6" cy="228.8" r="3.0"/><circle cx="329.7" cy="225.2" r="3.0"/><circle cx="329.9" cy="228.4" r="3.0" fill="#ffcc10"/><circle cx="330.2" cy="232.7" r="3.0" fill="#ffcc10"/><circle cx="330.7" cy="239.2" r="3.0"/><circle cx="330.9" cy="246.2" r="3.0"/><circle cx="331.2" cy="250.9" r="3.0" fill="#ffcc10"/><circle cx="331.7" cy="252.6" r="3.0" fill="#ffcc10"/><circle cx="332.0" cy="248.8" r="3.0"/><circle cx="332.4" cy="243.6" r="3.0"/><circle cx="332.9" cy="235.7" r="3.0" fill="#ffcc10"/><circle cx="333.2" cy="228.5" r="3.0"/><circle cx="333.6" cy="226.6" r="3.0" fill="#ffcc10"/><circle cx="334.1" cy="234.2" r="3.0"/><circle cx="334.5" cy="239.9" r="3.0"/><circle cx="334.8" cy="244.3" r="3.0" fill="#ffcc10"/><circle cx="335.1" cy="251.0" r="3.0"/><circle cx="335.5" cy="255.1" r="3.0" fill="#ffcc10"/><circle cx="335.9" cy="256.5" r="3.0" fill="#ffcc10"/><circle cx="336.5" cy="249.3" r="3.0"/><circle cx="337.1" cy="245.8" r="3.0" fill="#ffcc10"/><circle cx="337.4" cy="242.6" r="3.0" fill="#ffcc10"/><circle cx="337.6" cy="235.6" r="3.0" fill="#ffcc10"/><circle cx="337.9" cy="232.1" r="3.0" fill="#ffcc10"/><circle cx="338.3" cy="227.0" r="3.0"/><circle cx="338.9" cy="234.9" r="3.0" fill="#ffcc10"/><circle cx="339.5" cy="239.9" r="3.0"/><circle cx="340.0" cy="243.0" r="3.0"/><circle cx="340.2" cy="249.7" r="3.0"/><circle cx="340.7" cy="256.7" r="3.0" fill="#ffcc10"/><circle cx="340.9" cy="257.5" r="3.0"/><circle cx="341.5" cy="253.0" r="3.0" fill="#ffcc10"/><circle cx="342.1" cy="245.6" r="3.0" fill="#ffcc10"/><circle cx="342.4" cy="239.3" r="3.0" fill="#ffcc10"/><circle cx="342.6" cy="232.6" r="3.0"/><circle cx="342.9" cy="230.1" r="3.0" fill="#ffcc10"/><circle cx="343.0" cy="235.6" r="3.0" fill="#ffcc10"/><circle cx="343.3" cy="239.6" r="3.0"/><circle cx="343.5" cy="245.5" r="3.0"/><circle cx="343.8" cy="251.6" r="3.0" fill="#ffcc10"/><circle cx="344.0" cy="256.6" r="3.0" fill="#ffcc10"/><circle cx="344.7" cy="258.8" r="3.0"/><circle cx="345.3" cy="251.7" r="3.0"/><circle cx="345.8" cy="246.1" r="3.0"/><circle cx="345.9" cy="240.6" r="3.0" fill="#ffcc10"/><circle cx="346.4" cy="236.1" r="3.0" fill="#ffcc10"/><circle cx="346.7" cy="233.2" r="3.0"/><circle cx="347.1" cy="236.7" r="3.0"/><circle cx="347.7" cy="244.0" r="3.0"/><circle cx="348.3" cy="247.8" r="3.0" fill="#ffcc10"/><circle cx="349.0" cy="252.4" r="3.0" fill="#ffcc10"/><circle cx="349.4" cy="257.0" r="3.0" fill="#ffcc10"/><circle cx="350.0" cy="259.1" r="3.0"/><circle cx="350.5" cy="255.8" r="3.0" fill="#ffcc10"/><circle cx="351.0" cy="249.5" r="3.0" fill="#ffcc10"/><circle cx="351.6" cy="243.9" r="3.0"/><circle cx="352.0" cy="239.8" r="3.0"/><circle cx="352.7" cy="232.1" r="3.0"/><circle cx="353.3" cy="230.2" r="3.0"/><circle cx="353.7" cy="233.8" r="3.0" fill="#ffcc10"/><circle cx="354.3" cy="238.8" r="3.0" fill="#ffcc10"/><circle cx="354.6" cy="242.5" r="3.0"/><circle cx="355.3" cy="247.4" r="3.0" fill="#ffcc10"/><circle cx="355.9" cy="253.0" r="3.0"/><circle cx="356.2" cy="258.3" r="3.0"/><circle cx="356.7" cy="253.9" r="3.0"/><circle cx="356.9" cy="247.0" r="3.0"/><circle cx="357.0" cy="240.6" r="3.0" fill="#ffcc10"/><circle cx="357.6" cy="236.2" r="3.0"/><circle cx="357.9" cy="232.5" r="3.0"/><circle cx="358.2" cy="239.0" r="3.0" fill="#ffcc10"/><circle cx="358.6" cy="245.8" r="3.0" fill="#ffcc10"/><circle cx="358.9" cy="250.2" r="3.0"/><circle cx="359.4" cy="256.6" r="3.0"/><circle cx="360.0" cy="259.7" r="3.0"/><circle cx="360.5" cy="262.8" r="3.0"/><circle cx="361.0" cy="256.9" r="3.0"/><circle cx="361.5" cy="253.0" r="3.0" fill="#ffcc10"/><circle cx="362.0" cy="245.9" r="3.0" fill="#ffcc10"/><circle cx="362.6" cy="240.8" r="3.0" fill="#ffcc10"/><circle cx="363.2" cy="239.1" r="3.0"/><circle cx="363.6" cy="244.4" r="3.0"/><circle cx="363.9" cy="250.4" r="3.0"/><circle cx="364.1" cy="258.0" r="3.0" fill="#ffcc10"/><circle cx="364.3" cy="261.1" r="3.0"/><circle cx="364.6" cy="267.1" r="3.0" fill="#ffcc10"/><circle cx="365.1" cy="259.7" r="3.0" fill="#ffcc10"/><circle cx="365.8" cy="253.2" r="3.0" fill="#ffcc10"/><circle cx="366.1" cy="248.5" r="3.0"/><circle cx="366.4" cy="245.3" r="3.0" fill="#ffcc10"/><circle cx="366.7" cy="242.5" r="3.0" fill="#ffcc10"/><circle cx="367.2" cy="245.6" r="3.0" fill="#ffcc10"/><circle cx="367.6" cy="251.7" r="3.0"/><circle cx="368.0" cy="255.4" r="3.0" fill="#ffcc10"/><circle cx="368.2" cy="262.3" r="3.0" fill="#ffcc10"/><circle cx="368.7" cy="267.6" r="3.0" fill="#ffcc10"/><circle cx="369.1" cy="268.9" r="3.0"/><circle cx="369.4" cy="264.0" r="3.0" fill="#ffcc10"/><circle cx="369.6" cy="260.0" r="3.0"/><circle cx="369.7" cy="253.3" r="3.0"/><circle cx="369.8" cy="248.3" r="3.0"/><circle cx="370.0" cy="245.3" r="3.0" fill="#ffcc10"/><circle cx="370.6" cy="241.2" r="3.0"/><circle cx="371.0" cy="240.8" r="3.0"/><circle cx="371.2" cy="247.1" r="3.0"/><circle cx="371.6" cy="253.4" r="3.0"/><circle cx="372.1" cy="259.8" r="3.0"/><circle cx="372.4" cy="266.5" r="3.0" fill="#ffcc10"/><circle cx="372.5" cy="270.4" r="3.0" fill="#ffcc10"/><circle cx="373.1" cy="275.9" r="3.0" fill="#ffcc10"/><circle cx="373.7" cy="276.3" r="3.0" fill="#ffcc10"/><circle cx="374.0" cy="268.5" r="3.0"/><circle cx="374.6" cy="264.8" r="3.0" fill="#ffcc10"/><circle cx="374.8" cy="261.5" r="3.0"/><circle cx="375.4" cy="261.0" r="3.0"/><circle cx="375.9" cy="264.7" r="3.0"/><circle cx="376.5" cy="270.6" r="3.0" fill="#ffcc10"/><circle cx="376.9" cy="275.2" r="3.0" fill="#ffcc10"/><circle cx="377.2" cy="279.9" r="3.0" fill="#ffcc10"/><circle cx="377.3" cy="285.0" r="3.0" fill="#ffcc10"/><circle cx="377.6" cy="277.0" r="3.0" fill="#ffcc10"/><circle cx="378.0" cy="269.2" r="3.0"/><circle cx="378.6" cy="268.4" r="3.0" fill="#ffcc10"/><circle cx="379.0" cy="275.9" r="3.0" fill="#ffcc10"/><circle cx="379.4" cy="282.1" r="3.0"/><circle cx="379.6" cy="287.3" r="3.0"/><circle cx="380.3" cy="292.7" r="3.0"/><circle cx="380.6" cy="286.2" r="3.0" fill="#ffcc10"/><circle cx="381.2" cy="279.1" r="3.0" fill="#ffcc10"/><circle cx="381.8" cy="275.1" r="3.0" fill="#ffcc10"/><circle cx="382.1" cy="279.2" r="3.0" fill="#ffcc10"/><circle cx="382.3" cy="286.4" r="3.0"/><circle cx="382.8" cy="290.8" r="3.0" fill="#ffcc10"/><circle cx="383.0" cy="295.6" r="3.0" fill="#ffcc10"/><circle cx="383.6" cy="292.2" r="3.0" fill="#ffcc10"/><circle cx="384.1" cy="287.8" r="3.0" fill="#ffcc10"/><circle cx="384.2" cy="280.0" r="3.0"/><circle cx="384.5" cy="274.7" r="3.0"/><circle cx="385.1" cy="280.8" r="3.0" fill="#ffcc10"/><circle cx="385.7" cy="284.9" r="3.0" fill="#ffcc10"/><circle cx="386.3" cy="287.9" r="3.0" fill="#ffcc10"/><circle cx="386.9" cy="295.8" r="3.0" fill="#ffcc10"/><circle cx="387.5" cy="297.8" r="3.0" fill="#ffcc10"/><circle cx="388.1" cy="292.5" r="3.0"/><circle cx="388.4" cy="285.0" r="3.0" fill="#ffcc10"/><circle cx="388.7" cy="280.1" r="3.0"/><circle cx="389.1" cy="274.9" r="3.0" fill="#ffcc10"/><circle cx="389.4" cy="279.7" r="3.0" fill="#ffcc10"/><circle cx="389.6" cy="287.0" r="3.0"/><circle cx="389.8" cy="294.0" r="3.0" fill="#ffcc10"/><circle cx="390.0" cy="297.8" r="3.0" fill="#ffcc10"/><circle cx="390.4" cy="290.0" r="3.0"/><circle cx="390.6" cy="285.3" r="3.0" fill="#ffcc10"/><circle cx="391.0" cy="277.7" r="3.0"/><circle cx="391.5" cy="275.2" r="3.0" fill="#ffcc10"/><circle cx="391.8" cy="283.0" r="3.0"/><circle cx="392.2" cy="290.4" r="3.0" fill="#ffcc10"/><circle cx="392.8" cy="295.3" r="3.0" fill="#ffcc10"/><circle cx="393.3" cy="287.5" r="3.0" fill="#ffcc10"/><circle cx="393.7" cy="280.2" r="3.0" fill="#ffcc10"/><circle cx="393.9" cy="275.6" r="3.0" fill="#ffcc10"/><circle cx="394.2" cy="272.5" r="3.0"/><circle cx="394.7" cy="277.7" r="3.0"/><circle cx="395.1" cy="285.2" r="3.0" fill="#ffcc10"/><circle cx="395.8" cy="287.8" r="3.0" fill="#ffcc10"/><circle cx="396.2" cy="283.0" r="3.0"/><circle cx="396.6" cy="275.7" r="3.0" fill="#ffcc10"/><circle cx="397.2" cy="272.6" r="3.0"/><circle cx="397.7" cy="266.5" r="3.0"/><circle cx="398.4" cy="265.5" r="3.0"/><circle cx="398.7" cy="269.2" r="3.0" fill="#ffcc10"/><circle cx="399.3" cy="275.0" r="3.0"/><circle cx="399.5" cy="270.8" r="3.0"/><circle cx="400.1" cy="263.6" r="3.0"/><circle cx="400.6" cy="259.9" r="3.0"/><circle cx="400.9" cy="257.1" r="3.0"/><circle cx="401.3" cy="261.0" r="3.0" fill="#ffcc10"/><circle cx="401.7" cy="265.7" r="3.0" fill="#ffcc10"/><circle cx="402.3" cy="266.9" r="3.0"/><circle cx="403.0" cy="261.7" r="3.0" fill="#ffcc10"/><circle cx="403.3" cy="257.4" r="3.0" fill="#ffcc10"/><circle cx="403.5" cy="254.3" r="3.0" fill="#ffcc10"/><circle cx="403.8" cy="253.9" r="3.0" fill="#ffcc10"/><circle cx="404.3" cy="259.7" r="3.0" fill="#ffcc10"/><circle cx="404.5" cy="263.3" r="3.0" fill="#ffcc10"/><circle cx="405.1" cy="267.6" r="3.0" fill="#ffcc10"/><circle cx="405.7" cy="261.2" r="3.0"/><circle cx="406.0" cy="257.1" r="3.0"/><circle cx="406.5" cy="253.2" r="3.0" fill="#ffcc10"/><circle cx="406.7" cy="260.2" r="3.0" fill="#ffcc10"/><circle cx="407.0" cy="266.3" r="3.0" fill="#ffcc10"/><circle cx="407.2" cy="267.6" r="3.0" fill="#ffcc10"/><circle cx="407.9" cy="262.1" r="3.0"/><circle cx="408.3" cy="256.5" r="3.0"/><circle cx="408.5" cy="252.9" r="3.0"/><circle cx="409.0" cy="250.9" r="3.0"/><circle cx="409.4" cy="258.4" r="3.0"/><circle cx="409.8" cy="262.7" r="3.0" fill="#ffcc10"/><circle cx="410.2" cy="255.8" r="3.0" fill="#ffcc10"/><circle cx="410.5" cy="252.3" r="3.0"/><circle cx="410.7" cy="246.0" r="3.0"/><circle cx="410.9" cy="250.6" r="3.0" fill="#ffcc10"/><circle cx="411.2" cy="256.8" r="3.0" fill="#ffcc10"/><circle cx="411.5" cy="264.3" r="3.0"/><circle cx="411.8" cy="264.8" r="3.0"/><circle cx="412.5" cy="257.2" r="3.0" fill="#ffcc10"/><circle cx="412.9" cy="250.2" r="3.0" fill="#ffcc10"/><circle cx="413.2" cy="243.9" r="3.0"/><circle cx="413.4" cy="243.1" r="3.0"/><circle cx="413.7" cy="248.0" r="3.0" fill="#ffcc10"/><circle cx="414.0" cy="255.8" r="3.0"/><circle cx="414.4" cy="260.2" r="3.0" fill="#ffcc10"/><circle cx="414.7" cy="265.3" r="3.0" fill="#ffcc10"/><circle cx="414.9" cy="267.3" r="3.0" fill="#ffcc10"/><circle cx="415.4" cy="261.8" r="3.0"/><circle cx="415.9" cy="256.9" r="3.0" fill="#ffcc10"/><circle cx="416.1" cy="250.7" r="3.0"/><circle cx="416.6" cy="247.0" r="3.0"/><circle cx="417.0" cy="242.0" r="3.0" fill="#ffcc10"/><circle cx="417.4" cy="248.3" r="3.0"/><circle cx="417.9" cy="254.2" r="3.0"/><circle cx="418.0" cy="261.5" r="3.0" fill="#ffcc10"/><circle cx="418.6" cy="265.2" r="3.0" fill="#ffcc10"/><circle cx="419.0" cy="258.1" r="3.0" fill="#ffcc10"/><circle cx="419.2" cy="252.1" r="3.0" fill="#ffcc10"/><circle cx="419.8" cy="255.6" r="3.0" fill="#ffcc10"/><circle cx="420.0" cy="261.7" r="3.0"/><circle cx="420.2" cy="268.7" r="3.0" fill="#ffcc10"/><circle cx="420.3" cy="264.2" r="3.0"/><circle cx="420.9" cy="259.8" r="3.0"/><circle cx="421.1" cy="252.7" r="3.0"/><circle cx="421.6" cy="249.1" r="3.0"/><circle cx="421.8" cy="255.7" r="3.0"/><circle cx="422.1" cy="261.2" r="3.0"/><circle cx="422.6" cy="267.0" r="3.0"/><circle cx="423.0" cy="269.1" r="3.0"/><circle cx="423.5" cy="262.5" r="3.0" fill="#ffcc10"/><circle cx="423.8" cy="255.7" r="3.0" fill="#ffcc10"/><circle cx="424.4" cy="248.8" r="3.0" fill="#ffcc10"/><circle cx="424.8" cy="247.6" r="3.0"/><circle cx="425.3" cy="254.2" r="3.0"/><circle cx="425.7" cy="259.7" r="3.0" fill="#ffcc10"/><circle cx="425.9" cy="263.6" r="3.0" fill="#ffcc10"/><circle cx="426.4" cy="267.9" r="3.0"/><circle cx="426.7" cy="269.0" r="3.0" fill="#ffcc10"/><circle cx="426.9" cy="262.1" r="3.0"/><circle cx="427.2" cy="258.5" r="3.0" fill="#ffcc10"/><circle cx="427.7" cy="255.3" r="3.0"/><circle cx="428.1" cy="250.2" r="3.0" fill="#ffcc10"/><circle cx="428.7" cy="257.8" r="3.0"/><circle cx="429.1" cy="263.7" r="3.0"/><circle cx="429.3" cy="265.2" r="3.0" fill="#ffcc10"/><circle cx="430.0" cy="260.2" r="3.0" fill="#ffcc10"/><circle cx="430.4" cy="253.9" r="3.0"/><circle cx="430.8" cy="248.7" r="3.0" fill="#ffcc10"/><circle cx="431.4" cy="242.3" r="3.0" fill="#ffcc10"/><circle cx="431.9" cy="241.8" r="3.0" fill="#ffcc10"/><circle cx="432.5" cy="248.3" r="3.0"/><circle cx="433.0" cy="253.9" r="3.0" fill="#ffcc10"/><circle cx="433.2" cy="259.3" r="3.0" fill="#ffcc10"/><circle cx="433.8" cy="266.1" r="3.0" fill="#ffcc10"/><circle cx="434.5" cy="266.3" r="3.0"/><circle cx="434.7" cy="259.6" r="3.0" fill="#ffcc10"/><circle cx="435.3" cy="255.7" r="3.0" fill="#ffcc10"/><circle cx="435.9" cy="248.8" r="3.0" fill="#ffcc10"/><circle cx="436.6" cy="247.9" r="3.0"/><circle cx="437.0" cy="254.1" r="3.0"/><circle cx="437.2" cy="261.6" r="3.0" fill="#ffcc10"/><circle cx="437.6" cy="265.6" r="3.0" fill="#ffcc10"/><circle cx="438.1" cy="268.1" r="3.0"/><circle cx="438.8" cy="263.8" r="3.0" fill="#ffcc10"/><circle cx="439.0" cy="257.3" r="3.0"/><circle cx="439.6" cy="254.3" r="3.0"/><circle cx="440.0" cy="251.2" r="3.0"/><circle cx="440.4" cy="244.5" r="3.0"/><circle cx="440.9" cy="244.0" r="3.0"/><circle cx="441.0" cy="250.7" r="3.0"/><circle cx="441.6" cy="258.0" r="3.0" fill="#ffcc10"/><circle cx="442.1" cy="264.6" r="3.0" fill="#ffcc10"/><circle cx="442.5" cy="266.1" r="3.0"/><circle cx="442.9" cy="259.0" r="3.0"/><circle cx="443.5" cy="255.1" r="3.0"/><circle cx="444.2" cy="249.2" r="3.0"/><circle cx="444.8" cy="248.0" r="3.0"/><circle cx="445.2" cy="253.1" r="3.0" fill="#ffcc10"/><circle cx="445.8" cy="256.6" r="3.0"/><circle cx="446.4" cy="263.7" r="3.0"/><circle cx="446.9" cy="264.8" r="3.0"/><circle cx="447.1" cy="257.2" r="3.0" fill="#ffcc10"/><circle cx="447.5" cy="251.1" r="3.0" fill="#ffcc10"/><circle cx="447.9" cy="248.0" r="3.0" fill="#ffcc10"/><circle cx="448.2" cy="256.0" r="3.0" fill="#ffcc10"/><circle cx="448.9" cy="262.6" r="3.0" fill="#ffcc10"/><circle cx="449.2" cy="268.0" r="3.0"/><circle cx="449.8" cy="269.7" r="3.0"/><circle cx="450.1" cy="261.8" r="3.0"/><circle cx="450.2" cy="255.5" r="3.0" fill="#ffcc10"/><circle cx="450.4" cy="251.2" r="3.0"/><circle cx="450.8" cy="246.7" r="3.0"/><circle cx="451.1" cy="250.3" r="3.0"/><circle cx="451.7" cy="256.8" r="3.0"/><circle cx="452.3" cy="262.0" r="3.0" fill="#ffcc10"/><circle cx="452.7" cy="263.1" r="3.0" fill="#ffcc10"/><circle cx="452.9" cy="257.3" r="3.0"/><circle cx="453.3" cy="250.0" r="3.0"/><circle cx="453.5" cy="248.9" r="3.0" fill="#ffcc10"/><circle cx="453.8" cy="252.8" r="3.0" fill="#ffcc10"/><circle cx="454.4" cy="258.1" r="3.0"/><circle cx="454.8" cy="264.0" r="3.0" fill="#ffcc10"/><circle cx="455.3" cy="267.3" r="3.0"/><circle cx="455.4" cy="263.3" r="3.0"/><circle cx="456.0" cy="259.2" r="3.0" fill="#ffcc10"/><circle cx="456.3" cy="252.2" r="3.0"/><circle cx="457.0" cy="247.1" r="3.0"/><circle cx="457.5" cy="243.6" r="3.0"/><circle cx="457.7" cy="242.1" r="3.0" fill="#ffcc10"/><circle cx="457.9" cy="249.9" r="3.0"/><circle cx="458.3" cy="256.4" r="3.0" fill="#ffcc10"/><circle cx="458.9" cy="259.8" r="3.0" fill="#ffcc10"/><circle cx="459.1" cy="260.9" r="3.0" fill="#ffcc10"/><circle cx="459.6" cy="257.1" r="3.0"/><circle cx="460.3" cy="251.6" r="3.0" fill="#ffcc10"/><circle cx="460.7" cy="246.2" r="3.0" fill="#ffcc10"/><circle cx="461.0" cy="243.1" r="3.0"/><circle cx="461.6" cy="236.8" r="3.0" fill="#ffcc10"/><circle cx="461.8" cy="236.7" r="3.0" fill="#ffcc10"/><circle cx="462.5" cy="243.4" r="3.0"/><circle cx="463.0" cy="247.5" r="3.0"/><circle cx="463.1" cy="240.7" r="3.0"/><circle cx="463.3" cy="236.1" r="3.0" fill="#ffcc10"/><circle cx="463.8" cy="231.6" r="3.0" fill="#ffcc10"/><circle cx="464.2" cy="225.5" r="3.0"/><circle cx="464.8" cy="229.1" r="3.0"/><circle cx="465.2" cy="233.0" r="3.0"/><circle cx="465.7" cy="240.8" r="3.0"/><circle cx="466.1" cy="240.2" r="3.0" fill="#ffcc10"/><circle cx="466.6" cy="235.3" r="3.0" fill="#ffcc10"/><circle cx="467.2" cy="228.0" r="3.0" fill="#ffcc10"/><circle cx="467.6" cy="221.4" r="3.0" fill="#ffcc10"/><circle cx="467.8" cy="217.5" r="3.0" fill="#ffcc10"/><circle cx="468.4" cy="222.8" r="3.0" fill="#ffcc10"/><circle cx="468.7" cy="229.7" r="3.0"/><circle cx="468.9" cy="234.9" r="3.0" fill="#ffcc10"/><circle cx="469.3" cy="234.3" r="3.0"/><circle cx="469.5" cy="230.0" r="3.0"/><circle cx="469.8" cy="224.6" r="3.0"/><circle cx="470.0" cy="219.3" r="3.0" fill="#ffcc10"/><circle cx="470.4" cy="215.9" r="3.0"/><circle cx="470.8" cy="213.3" r="3.0"/><circle cx="471.3" cy="219.3" r="3.0" fill="#ffcc10"/><circle cx="471.9" cy="223.1" r="3.0"/><circle cx="472.3" cy="226.6" r="3.0" fill="#ffcc10"/><circle cx="472.7" cy="228.7" r="3.0" fill="#ffcc10"/><circle cx="473.3" cy="223.1" r="3.0" fill="#ffcc10"/><circle cx="473.6" cy="218.2" r="3.0"/><circle cx="474.2" cy="212.4" r="3.0"/><circle cx="474.4" cy="210.4" r="3.0" fill="#ffcc10"/><circle cx="474.6" cy="217.3" r="3.0"/><circle cx="475.1" cy="221.1" r="3.0" fill="#ffcc10"/><circle cx="475.2" cy="214.3" r="3.0"/><circle cx="475.6" cy="208.6" r="3.0"/><circle cx="476.0" cy="215.0" r="3.0"/><circle cx="476.6" cy="220.2" r="3.0"/><circle cx="477.2" cy="220.6" r="3.0"/><circle cx="477.4" cy="216.9" r="3.0"/><circle cx="477.5" cy="210.8" r="3.0"/><circle cx="478.2" cy="205.0" r="3.0"/><circle cx="478.6" cy="210.0" r="3.0" fill="#ffcc10"/><circle cx="479.2" cy="213.1" r="3.0"/><circle cx="479.6" cy="216.5" r="3.0"/><circle cx="480.0" cy="220.0" r="3.0"/><circle cx="480.3" cy="213.6" r="3.0" fill="#ffcc10"/><circle cx="480.9" cy="209.7" r="3.0" fill="#ffcc10"/><circle cx="481.5" cy="203.7" r="3.0"/><circle cx="482.0" cy="201.4" r="3.0"/><circle cx="482.5" cy="208.6" r="3.0" fill="#ffcc10"/><circle cx="483.1" cy="212.4" r="3.0" fill="#ffcc10"/><circle cx="483.6" cy="213.3" r="3.0"/><circle cx="484.2" cy="205.9" r="3.0" fill="#ffcc10"/><circle cx="484.8" cy="198.3" r="3.0" fill="#ffcc10"/><circle cx="485.3" cy="194.5" r="3.0" fill="#ffcc10"/><circle cx="485.5" cy="198.2" r="3.0"/><circle cx="485.8" cy="201.8" r="3.0"/><circle cx="486.0" cy="204.8" r="3.0" fill="#ffcc10"/><circle cx="486.4" cy="208.6" r="3.0" fill="#ffcc10"/><circle cx="487.0" cy="208.9" r="3.0"/><circle cx="487.6" cy="203.1" r="3.0"/><circle cx="487.9" cy="196.4" r="3.0"/><circle cx="488.3" cy="191.7" r="3.0" fill="#ffcc10"/><circle cx="489.0" cy="195.4" r="3.0"/><circle cx="489.4" cy="201.5" r="3.0" fill="#ffcc10"/><circle cx="489.9" cy="204.2" r="3.0" fill="#ffcc10"/><circle cx="490.6" cy="196.4" r="3.0" fill="#ffcc10"/><circle cx="490.9" cy="191.1" r="3.0"/><circle cx="491.3" cy="187.6" r="3.0" fill="#ffcc10"/><circle cx="491.5" cy="185.5" r="3.0"/><circle cx="492.1" cy="191.1" r="3.0"/><circle cx="492.7" cy="197.4" r="3.0"/><circle cx="493.1" cy="198.6" r="3.0" fill="#ffcc10"/><circle cx="493.4" cy="195.1" r="3.0"/><circle cx="493.6" cy="187.5" r="3.0"/><circle cx="494.0" cy="184.0" r="3.0" fill="#ffcc10"/><circle cx="494.3" cy="179.9" r="3.0"/><circle cx="494.6" cy="178.9" r="3.0"/><circle cx="495.0" cy="184.9" r="3.0" fill="#ffcc10"/><circle cx="495.3" cy="189.8" r="3.0"/><circle cx="495.8" cy="193.5" r="3.0"/><circle cx="496.4" cy="193.2" r="3.0" fill="#ffcc10"/><circle cx="496.8" cy="189.2" r="3.0"/><circle cx="497.2" cy="181.2" r="3.0" fill="#ffcc10"/><circle cx="497.7" cy="175.4" r="3.0" fill="#ffcc10"/><circle cx="498.4" cy="175.1" r="3.0" fill="#ffcc10"/><circle cx="499.0" cy="178.7" r="3.0"/><circle cx="499.5" cy="182.7" r="3.0" fill="#ffcc10"/><circle cx="500.1" cy="176.1" r="3.0" fill="#ffcc10"/><circle cx="500.4" cy="171.3" r="3.0"/><circle cx="500.6" cy="175.6" r="3.0"/><circle cx="501.0" cy="181.0" r="3.0"/><circle cx="501.6" cy="186.5" r="3.0" fill="#ffcc10"/><circle cx="502.0" cy="181.1" r="3.0"/><circle cx="502.6" cy="174.6" r="3.0"/><circle cx="502.9" cy="169.7" r="3.0" fill="#ffcc10"/><circle cx="503.2" cy="164.3" r="3.0"/><circle cx="503.4" cy="168.0" r="3.0"/><circle cx="503.9" cy="173.9" r="3.0" fill="#ffcc10"/><circle cx="504.3" cy="177.1" r="3.0"/><circle cx="504.6" cy="179.9" r="3.0"/><circle cx="504.8" cy="173.7" r="3.0"/><circle cx="505.5" cy="169.8" r="3.0" fill="#ffcc10"/><circle cx="505.7" cy="165.6" r="3.0"/><circle cx="505.9" cy="161.0" r="3.0"/><circle cx="506.3" cy="157.6" r="3.0"/><circle cx="506.8" cy="157.0" r="3.0"/><circle cx="507.1" cy="161.0" r="3.0"/><circle cx="507.7" cy="164.4" r="3.0" fill="#ffcc10"/><circle cx="508.0" cy="171.6" r="3.0" fill="#ffcc10"/><circle cx="508.3" cy="177.4" r="3.0" fill="#ffcc10"/><circle cx="508.6" cy="177.9" r="3.0" fill="#ffcc10"/><circle cx="509.1" cy="174.5" r="3.0" fill="#ffcc10"/><circle cx="509.6" cy="167.9" r="3.0"/><circle cx="509.8" cy="162.6" r="3.0"/><circle cx="510.1" cy="157.5" r="3.0" fill="#ffcc10"/><circle cx="510.6" cy="151.3" r="3.0" fill="#ffcc10"/><circle cx="510.8" cy="148.8" r="3.0" fill="#ffcc10"/><circle cx="511.1" cy="155.2" r="3.0" fill="#ffcc10"/><circle cx="511.3" cy="160.6" r="3.0" fill="#ffcc10"/><circle cx="511.7" cy="166.8" r="3.0"/><circle cx="512.0" cy="173.3" r="3.0"/><circle cx="512.4" cy="168.7" r="3.0"/><circle cx="512.8" cy="162.8" r="3.0"/><circle cx="513.0" cy="157.2" r="3.0" fill="#ffcc10"/><circle cx="513.3" cy="153.0" r="3.0" fill="#ffcc10"/><circle cx="514.0" cy="156.2" r="3.0" fill="#ffcc10"/><circle cx="514.2" cy="159.6" r="3.0" fill="#ffcc10"/><circle cx="514.5" cy="165.8" r="3.0" fill="#ffcc10"/><circle cx="514.8" cy="172.1" r="3.0" fill="#ffcc10"/><circle cx="515.3" cy="175.2" r="3.0"/><circle cx="515.7" cy="171.9" r="3.0"/><circle cx="516.4" cy="167.0" r="3.0"/><circle cx="516.7" cy="163.0" r="3.0" fill="#ffcc10"/><circle cx="517.1" cy="157.8" r="3.0"/><circle cx="517.5" cy="156.4" r="3.0"/><circle cx="517.9" cy="160.2" r="3.0"/><circle cx="518.4" cy="167.5" r="3.0" fill="#ffcc10"/><circle cx="518.6" cy="174.2" r="3.0" fill="#ffcc10"/><circle cx="518.9" cy="177.2" r="3.0"/><circle cx="519.5" cy="172.8" r="3.0"/><circle cx="519.8" cy="167.7" r="3.0"/><circle cx="520.5" cy="163.9" r="3.0" fill="#ffcc10"/><circle cx="520.7" cy="158.6" r="3.0" fill="#ffcc10"/><circle cx="520.9" cy="163.5" r="3.0" fill="#ffcc10"/><circle cx="521.1" cy="168.1" r="3.0" fill="#ffcc10"/><circle cx="521.4" cy="173.7" r="3.0"/><circle cx="522.0" cy="176.9" r="3.0"/><circle cx="522.4" cy="170.4" r="3.0" fill="#ffcc10"/><circle cx="523.0" cy="162.8" r="3.0" fill="#ffcc10"/><circle cx="315.4" cy="216.4" r="3.0"/><circle cx="317.2" cy="176.4" r="3.0"/><circle cx="314.7" cy="178.4" r="3.0"/><circle cx="318.2" cy="183.2" r="3.0"/><circle cx="319.1" cy="232.7" r="3.0" fill="#ffcc10"/><circle cx="315.4" cy="168.1" r="3.0"/><circle cx="314.9" cy="175.0" r="3.0" fill="#ffcc10"/><circle cx="314.2" cy="202.7" r="3.0"/><circle cx="318.7" cy="208.3" r="3.0"/><circle cx="318.5" cy="227.5" r="3.0" fill="#ffcc10"/><circle cx="313.8" cy="213.0" r="3.0" fill="#ffcc10"/><circle cx="314.0" cy="206.1" r="3.0" fill="#ffcc10"/><circle cx="319.4" cy="224.2" r="3.0" fill="#ffcc10"/><circle cx="324.1" cy="210.3" r="3.0"/><circle cx="323.6" cy="225.0" r="3.0"/><circle cx="313.6" cy="216.5" r="3.0" fill="#ffcc10"/><circle cx="314.3" cy="199.2" r="3.0" fill="#ffcc10"/><circle cx="314.5" cy="188.8" r="3.0"/><circle cx="317.1" cy="183.3" r="3.0"/><circle cx="321.9" cy="204.7" r="3.0"/><circle cx="316.0" cy="226.0" r="3.0"/><circle cx="317.1" cy="176.3" r="3.0"/><circle cx="321.0" cy="196.8" r="3.0" fill="#ffcc10"/><circle cx="316.2" cy="233.8" r="3.0" fill="#ffcc10"/><circle cx="320.3" cy="193.4" r="3.0" fill="#ffcc10"/><circle cx="312.7" cy="233.8" r="3.0" fill="#ffcc10"/><circle cx="313.9" cy="209.6" r="3.0"/><circle cx="317.0" cy="169.5" r="3.0" fill="#ffcc10"/><circle cx="324.0" cy="214.3" r="3.0" fill="#ffcc10"/><circle cx="324.2" cy="223.7" r="3.0"/><circle cx="318.9" cy="186.6" r="3.0" fill="#ffcc10"/><circle cx="314.6" cy="231.6" r="3.0" fill="#ffcc10"/><circle cx="313.4" cy="220.0" r="3.0"/><circle cx="322.5" cy="226.7" r="3.0" fill="#ffcc10"/><circle cx="322.3" cy="210.3" r="3.0"/><circle cx="325.2" cy="217.2" r="3.0" fill="#ffcc10"/><circle cx="317.7" cy="198.2" r="3.0"/><circle cx="317.1" cy="201.5" r="3.0" fill="#ffcc10"/><circle cx="312.9" cy="230.3" r="3.0"/><circle cx="324.0" cy="221.8" r="3.0" fill="#ffcc10"/><circle cx="315.2" cy="171.5" r="3.0"/><circle cx="313.9" cy="199.0" r="3.0"/><circle cx="316.7" cy="193.1" r="3.0" fill="#ffcc10"/><circle cx="317.2" cy="189.7" r="3.0"/><circle cx="314.4" cy="187.0" r="3.0" fill="#ffcc10"/><circle cx="317.6" cy="179.8" r="3.0"/><circle cx="325.6" cy="220.6" r="3.0" fill="#ffcc10"/><circle cx="314.5" cy="229.5" r="3.0" fill="#ffcc10"/><circle cx="315.0" cy="209.1" r="3.0" fill="#ffcc10"/><circle cx="317.1" cy="172.9" r="3.0" fill="#ffcc10"/><circle cx="315.5" cy="220.9" r="3.0" fill="#ffcc10"/><circle cx="314.5" cy="192.3" r="3.0" fill="#ffcc10"/><circle cx="313.1" cy="226.9" r="3.0"/><circle cx="320.8" cy="229.7" r="3.0" fill="#ffcc10"/><circle cx="317.0" cy="206.9" r="3.0" fill="#ffcc10"/><circle cx="319.5" cy="221.6" r="3.0"/><circle cx="323.4" cy="206.9" r="3.0"/><circle cx="324.9" cy="218.0" r="3.0" fill="#ffcc10"/><circle cx="314.4" cy="195.7" r="3.0"/><circle cx="314.6" cy="185.3" r="3.0" fill="#ffcc10"/><circle cx="321.8" cy="200.2" r="3.0"/><circle cx="316.5" cy="213.6" r="3.0" fill="#ffcc10"/><circle cx="319.5" cy="190.0" r="3.0"/><circle cx="322.6" cy="203.6" r="3.0"/><circle cx="324.7" cy="213.7" r="3.0"/><circle cx="319.3" cy="217.6" r="3.0"/><circle cx="314.5" cy="193.7" r="3.0" fill="#ffcc10"/><circle cx="313.3" cy="223.4" r="3.0" fill="#ffcc10"/><circle cx="319.3" cy="212.4" r="3.0" fill="#ffcc10"/><circle cx="318.7" cy="185.7" r="3.0"/><circle cx="314.6" cy="181.9" r="3.0" fill="#ffcc10"/><circle cx="310.3" cy="295.4" r="3.0" fill="#ffcc10"/><circle cx="309.2" cy="305.5" r="3.0"/><circle cx="310.3" cy="310.2" r="3.0" fill="#ffcc10"/><circle cx="310.0" cy="322.8" r="3.0" fill="#ffcc10"/><circle cx="307.7" cy="322.5" r="3.0"/><circle cx="307.6" cy="325.9" r="3.0"/><circle cx="310.2" cy="301.3" r="3.0"/><circle cx="307.5" cy="329.1" r="3.0" fill="#ffcc10"/><circle cx="310.9" cy="309.3" r="3.0"/><circle cx="311.1" cy="295.7" r="3.0" fill="#ffcc10"/><circle cx="307.8" cy="319.1" r="3.0" fill="#ffcc10"/><circle cx="309.9" cy="298.8" r="3.0" fill="#ffcc10"/><circle cx="307.6" cy="329.3" r="3.0" fill="#ffcc10"/><circle cx="311.0" cy="305.9" r="3.0"/><circle cx="309.6" cy="302.2" r="3.0" fill="#ffcc10"/><circle cx="307.7" cy="331.6" r="3.0" fill="#ffcc10"/><circle cx="310.9" cy="316.1" r="3.0"/><circle cx="310.8" cy="319.5" r="3.0" fill="#ffcc10"/><circle cx="307.5" cy="332.7" r="3.0"/><circle cx="308.9" cy="308.9" r="3.0" fill="#ffcc10"/><circle cx="310.9" cy="312.7" r="3.0" fill="#ffcc10"/><circle cx="309.6" cy="325.7" r="3.0"/><circle cx="308.3" cy="329.4" r="3.0" fill="#ffcc10"/><circle cx="309.2" cy="326.1" r="3.0" fill="#ffcc10"/><circle cx="311.0" cy="302.5" r="3.0" fill="#ffcc10"/><circle cx="308.2" cy="315.7" r="3.0"/><circle cx="308.5" cy="312.3" r="3.0" fill="#ffcc10"/><circle cx="311.1" cy="299.1" r="3.0" fill="#ffcc10"/><circle cx="312.3" cy="233.2" r="3.0" fill="#ffcc10"/><circle cx="312.3" cy="244.1" r="3.0" fill="#ffcc10"/><circle cx="312.3" cy="253.0" r="3.0" fill="#ffcc10"/><circle cx="312.3" cy="256.4" r="3.0" fill="#ffcc10"/><circle cx="311.6" cy="270.7" r="3.0" fill="#ffcc10"/><circle cx="311.6" cy="276.1" r="3.0" fill="#ffcc10"/><circle cx="311.0" cy="284.3" r="3.0" fill="#ffcc10"/><circle cx="311.0" cy="289.1" r="3.0" fill="#ffcc10"/><circle cx="311.0" cy="294.5" r="3.0" fill="#ffcc10"/></g>
</g>
<rect x="105.4" y="27.0" width="414.50" height="437.40" fill="none" stroke="#000" stroke-width="1.5"/>
<line x1="95.00" y1="62.70" x2="105.40" y2="62.70" stroke="#000" stroke-width="1.5" />
<path transform="translate(61.6,69.60)" d="M0,-15.80 L0,0 L-2.30,0 L-2.30,-12.60 C-3.30,-12.10 -4.60,-11.80 -5.80,-11.60 L-5.80,-13.60 C-4.20,-13.90 -3.00,-14.80 -2.30,-15.80 Z" fill="#000"/>
<text x="63.85" y="69.60" font-size="23" font-family='"Liberation Sans", sans-serif'>.</text>
<text x="70.81" y="69.60" font-size="23" font-family='"Liberation Sans", sans-serif'>8</text>
<line x1="95.00" y1="135.64" x2="105.40" y2="135.64" stroke="#000" stroke-width="1.5" />
<path transform="translate(61.6,142.54)" d="M0,-15.80 L0,0 L-2.30,0 L-2.30,-12.60 C-3.30,-12.10 -4.60,-11.80 -5.80,-11.60 L-5.80,-13.60 C-4.20,-13.90 -3.00,-14.80 -2.30,-15.80 Z" fill="#000"/>
<text x="63.85" y="142.54" font-size="23" font-family='"Liberation Sans", sans-serif'>.</text>
<text x="70.97" y="142.54" font-size="23" font-family='"Liberation Sans", sans-serif'>7</text>
<line x1="95.00" y1="208.58" x2="105.40" y2="208.58" stroke="#000" stroke-width="1.5" />
<path transform="translate(61.6,215.48)" d="M0,-15.80 L0,0 L-2.30,0 L-2.30,-12.60 C-3.30,-12.10 -4.60,-11.80 -5.80,-11.60 L-5.80,-13.60 C-4.20,-13.90 -3.00,-14.80 -2.30,-15.80 Z" fill="#000"/>
<text x="63.85" y="215.48" font-size="23" font-family='"Liberation Sans", sans-serif'>.</text>
<text x="70.82" y="215.48" font-size="23" font-family='"Liberation Sans", sans-serif'>6</text>
<line x1="95.00" y1="281.52" x2="105.40" y2="281.52" stroke="#000" stroke-width="1.5" />
<path transform="translate(61.6,288.42)" d="M0,-15.80 L0,0 L-2.30,0 L-2.30,-12.60 C-3.30,-12.10 -4.60,-11.80 -5.80,-11.60 L-5.80,-13.60 C-4.20,-13.90 -3.00,-14.80 -2.30,-15.80 Z" fill="#000"/>
<text x="63.85" y="288.42" font-size="23" font-family='"Liberation Sans", sans-serif'>.</text>
<text x="70.77" y="288.42" font-size="23" font-family='"Liberation Sans", sans-serif'>5</text>
<line x1="95.00" y1="354.46" x2="105.40" y2="354.46" stroke="#000" stroke-width="1.5" />
<path transform="translate(61.6,361.36)" d="M0,-15.80 L0,0 L-2.30,0 L-2.30,-12.60 C-3.30,-12.10 -4.60,-11.80 -5.80,-11.60 L-5.80,-13.60 C-4.20,-13.90 -3.00,-14.80 -2.30,-15.80 Z" fill="#000"/>
<text x="63.85" y="361.36" font-size="23" font-family='"Liberation Sans", sans-serif'>.</text>
<text x="70.48" y="361.36" font-size="23" font-family='"Liberation Sans", sans-serif'>4</text>
<line x1="95.00" y1="427.40" x2="105.40" y2="427.40" stroke="#000" stroke-width="1.5" />
<path transform="translate(61.6,434.30)" d="M0,-15.80 L0,0 L-2.30,0 L-2.30,-12.60 C-3.30,-12.10 -4.60,-11.80 -5.80,-11.60 L-5.80,-13.60 C-4.20,-13.90 -3.00,-14.80 -2.30,-15.80 Z" fill="#000"/>
<text x="63.85" y="434.30" font-size="23" font-family='"Liberation Sans", sans-serif'>.</text>
<text x="70.82" y="434.30" font-size="23" font-family='"Liberation Sans", sans-serif'>3</text>
<line x1="105.40" y1="464.40" x2="105.40" y2="474.80" stroke="#000" stroke-width="1.5" />
<text x="104.80" y="503.60" font-size="23" text-anchor="middle" >−5.0</text>
<line x1="209.03" y1="464.40" x2="209.03" y2="474.80" stroke="#000" stroke-width="1.5" />
<text x="208.43" y="503.60" font-size="23" text-anchor="middle" >−2.5</text>
<line x1="312.65" y1="464.40" x2="312.65" y2="474.80" stroke="#000" stroke-width="1.5" />
<text x="312.05" y="503.60" font-size="23" text-anchor="middle" >0</text>
<line x1="416.27" y1="464.40" x2="416.27" y2="474.80" stroke="#000" stroke-width="1.5" />
<text x="415.67" y="503.60" font-size="23" text-anchor="middle" >2.5</text>
<line x1="519.90" y1="464.40" x2="519.90" y2="474.80" stroke="#000" stroke-width="1.5" />
<text x="519.30" y="503.60" font-size="23" text-anchor="middle" >5.0</text>
<circle cx="416.7" cy="58.1" r="3.6" fill="#c86464" stroke="#8b0000" stroke-width="1.8"/>
<circle cx="416.7" cy="91.2" r="3.6" fill="#3c50c8" stroke="#00008b" stroke-width="1.8"/>
<circle cx="416.7" cy="125.3" r="3.6" fill="#ffc832" stroke="#ffa500" stroke-width="1.8"/>
<text x="436.60" y="66.90" font-size="27.5" text-anchor="start" textLength="29.5" lengthAdjust="spacingAndGlyphs" >LP</text>
<text x="434.92" y="98.40" font-size="29.5" font-style="italic" font-family='"Liberation Serif", serif'>σ</text>
<text x="449.87" y="106.10" font-size="16.9" font-family='"Liberation Sans", sans-serif'>+</text>
<text x="434.92" y="133.00" font-size="29.5" font-style="italic" font-family='"Liberation Serif", serif'>σ</text>
<text x="450.24" y="142.20" font-size="16.3" font-family='"Liberation Sans", sans-serif'>−</text>
<text x="251.34" y="545.70" font-size="27.6" font-style="italic" font-family='"Liberation Sans", sans-serif'>B</text>
<text x="276.65" y="545.70" font-size="27.6" font-family='"Liberation Sans", sans-serif'>f</text>
<text x="285.64" y="545.70" font-size="27.6" font-family='"Liberation Sans", sans-serif'>i</text>
<text x="293.10" y="545.70" font-size="27.6" font-family='"Liberation Sans", sans-serif'>e</text>
<text x="309.68" y="545.70" font-size="27.6" font-family='"Liberation Sans", sans-serif'>l</text>
<text x="316.64" y="545.70" font-size="27.6" font-family='"Liberation Sans", sans-serif'>d</text>
<text x="339.33" y="545.70" font-size="27.6" font-family='"Liberation Sans", sans-serif'>(</text>
<text x="348.13" y="545.70" font-size="27.6" font-family='"Liberation Sans", sans-serif'>T</text>
<text x="364.23" y="545.70" font-size="27.6" font-family='"Liberation Sans", sans-serif'>)</text>
<text x="780.34" y="545.70" font-size="27.6" font-style="italic" font-family='"Liberation Sans", sans-serif'>B</text>
<text x="805.65" y="545.70" font-size="27.6" font-family='"Liberation Sans", sans-serif'>f</text>
<text x="814.64" y="545.70" font-size="27.6" font-family='"Liberation Sans", sans-serif'>i</text>
<text x="822.10" y="545.70" font-size="27.6" font-family='"Liberation Sans", sans-serif'>e</text>
<text x="838.68" y="545.70" font-size="27.6" font-family='"Liberation Sans", sans-serif'>l</text>
<text x="845.64" y="545.70" font-size="27.6" font-family='"Liberation Sans", sans-serif'>d</text>
<text x="868.33" y="545.70" font-size="27.6" font-family='"Liberation Sans", sans-serif'>(</text>
<text x="877.13" y="545.70" font-size="27.6" font-family='"Liberation Sans", sans-serif'>T</text>
<text x="893.23" y="545.70" font-size="27.6" font-family='"Liberation Sans", sans-serif'>)</text>
<g transform="rotate(-90)">
<text x="-321.07" y="26.80" font-size="27.5">|</text>
<text x="-314.91" y="26.80" font-size="27.5" font-style="italic">I</text>
<text x="-307.89" y="35.00" font-size="19.8">T</text>
<text x="-297.03" y="35.00" font-size="19.8">C</text>
<text x="-283.07" y="26.80" font-size="27.5">|</text>
<text x="-269.25" y="26.80" font-size="27.5">(</text>
<text x="-261.64" y="26.80" font-size="27.5">×</text>
<text x="-235.55" y="26.80" font-size="27.5">0</text>
<text x="-218.55" y="14.60" font-size="19">−</text>
<text x="-207.38" y="13.90" font-size="19">9</text>
<text x="-196.92" y="26.80" font-size="27.5">A</text>
<text x="-177.91" y="26.80" font-size="27.5">)</text>
<text x="-296.26" y="571.10" font-size="27.5">G</text>
<text x="-276.45" y="578.80" font-size="19.5">T</text>
<text x="-265.07" y="578.80" font-size="19.5">D</text>
<text x="-252.31" y="578.80" font-size="19.5">C</text>
<text x="-231.15" y="571.10" font-size="27.5">(</text>
<text x="-224.63" y="571.10" font-size="27.5">%</text>
<text x="-200.81" y="571.10" font-size="27.5">)</text>
</g>
<path transform="translate(26.8,239.2) rotate(-90)" d="M0,-19.00 L0,0 L-2.76,0 L-2.76,-15.16 C-3.96,-14.56 -5.52,-14.20 -6.96,-13.96 L-6.96,-16.36 C-5.04,-16.72 -3.60,-17.80 -2.76,-19.00 Z" fill="#000"/>
<clipPath id="cb"><rect x="634" y="26" width="414.3" height="437.3"/></clipPath>
<g clip-path="url(#cb)">
<line x1="688.00" y1="89.00" x2="688.00" y2="109.00" stroke="#00008b" stroke-width="2.6" />
<line x1="710.90" y1="107.00" x2="710.90" y2="125.00" stroke="#00008b" stroke-width="2.6" />
<line x1="733.80" y1="211.80" x2="733.80" y2="252.70" stroke="#00008b" stroke-width="2.6" />
<line x1="756.50" y1="291.80" x2="756.50" y2="354.50" stroke="#00008b" stroke-width="2.6" />
<line x1="778.00" y1="312.00" x2="778.00" y2="335.50" stroke="#00008b" stroke-width="2.6" />
<line x1="802.00" y1="336.00" x2="802.00" y2="367.00" stroke="#00008b" stroke-width="2.6" />
<line x1="824.40" y1="372.00" x2="824.40" y2="395.00" stroke="#00008b" stroke-width="2.6" />
<line x1="847.80" y1="387.00" x2="847.80" y2="418.40" stroke="#00008b" stroke-width="2.6" />
<line x1="869.30" y1="334.00" x2="869.30" y2="374.00" stroke="#00008b" stroke-width="2.6" />
<line x1="892.30" y1="291.00" x2="892.30" y2="322.00" stroke="#00008b" stroke-width="2.6" />
<line x1="914.50" y1="211.00" x2="914.50" y2="258.00" stroke="#00008b" stroke-width="2.6" />
<line x1="938.20" y1="113.10" x2="938.20" y2="173.10" stroke="#00008b" stroke-width="2.6" />
<line x1="960.50" y1="102.00" x2="960.50" y2="143.60" stroke="#00008b" stroke-width="2.6" />
<line x1="984.50" y1="64.30" x2="984.50" y2="87.90" stroke="#00008b" stroke-width="2.6" />
<line x1="1006.90" y1="70.20" x2="1006.90" y2="91.50" stroke="#00008b" stroke-width="2.6" />
<path d="M665.3,100.0 L688.0,98.7 L710.9,116.4 L733.8,224.2 L756.5,323.1 L778.0,324.3 L802.0,352.0 L824.4,383.0 L847.8,402.6 L869.3,354.0 L892.3,306.7 L914.5,235.5 L938.2,143.2 L960.5,122.8 L984.5,76.1 L1006.9,80.8 L1029.4,52.9" fill="none" stroke="#00008b" stroke-width="2.6" stroke-linejoin="round"/>
<circle cx="665.3" cy="100.0" r="7.6" fill="#4169e1" stroke="#00008b" stroke-width="2.6"/>
<circle cx="688.0" cy="98.7" r="7.6" fill="#4169e1" stroke="#00008b" stroke-width="2.6"/>
<circle cx="710.9" cy="116.4" r="7.6" fill="#4169e1" stroke="#00008b" stroke-width="2.6"/>
<circle cx="733.8" cy="224.2" r="7.6" fill="#4169e1" stroke="#00008b" stroke-width="2.6"/>
<circle cx="756.5" cy="323.1" r="7.6" fill="#4169e1" stroke="#00008b" stroke-width="2.6"/>
<circle cx="778.0" cy="324.3" r="7.6" fill="#4169e1" stroke="#00008b" stroke-width="2.6"/>
<circle cx="802.0" cy="352.0" r="7.6" fill="#4169e1" stroke="#00008b" stroke-width="2.6"/>
<circle cx="824.4" cy="383.0" r="7.6" fill="#4169e1" stroke="#00008b" stroke-width="2.6"/>
<circle cx="847.8" cy="402.6" r="7.6" fill="#4169e1" stroke="#00008b" stroke-width="2.6"/>
<circle cx="869.3" cy="354.0" r="7.6" fill="#4169e1" stroke="#00008b" stroke-width="2.6"/>
<circle cx="892.3" cy="306.7" r="7.6" fill="#4169e1" stroke="#00008b" stroke-width="2.6"/>
<circle cx="914.5" cy="235.5" r="7.6" fill="#4169e1" stroke="#00008b" stroke-width="2.6"/>
<circle cx="938.2" cy="143.2" r="7.6" fill="#4169e1" stroke="#00008b" stroke-width="2.6"/>
<circle cx="960.5" cy="122.8" r="7.6" fill="#4169e1" stroke="#00008b" stroke-width="2.6"/>
<circle cx="984.5" cy="76.1" r="7.6" fill="#4169e1" stroke="#00008b" stroke-width="2.6"/>
<circle cx="1006.9" cy="80.8" r="7.6" fill="#4169e1" stroke="#00008b" stroke-width="2.6"/>
<circle cx="1029.4" cy="52.9" r="7.6" fill="#4169e1" stroke="#00008b" stroke-width="2.6"/>
<line x1="652.70" y1="123.60" x2="652.70" y2="149.50" stroke="#8b0000" stroke-width="2.6" />
<line x1="667.10" y1="109.00" x2="667.10" y2="138.50" stroke="#8b0000" stroke-width="2.6" />
<line x1="681.80" y1="118.70" x2="681.80" y2="156.70" stroke="#8b0000" stroke-width="2.6" />
<line x1="696.30" y1="159.00" x2="696.30" y2="188.20" stroke="#8b0000" stroke-width="2.6" />
<line x1="710.70" y1="133.60" x2="710.70" y2="167.30" stroke="#8b0000" stroke-width="2.6" />
<line x1="724.90" y1="190.00" x2="724.90" y2="228.20" stroke="#8b0000" stroke-width="2.6" />
<line x1="740.00" y1="177.30" x2="740.00" y2="217.00" stroke="#8b0000" stroke-width="2.6" />
<line x1="753.60" y1="249.00" x2="753.60" y2="297.60" stroke="#8b0000" stroke-width="2.6" />
<line x1="769.10" y1="255.50" x2="769.10" y2="296.40" stroke="#8b0000" stroke-width="2.6" />
<line x1="783.30" y1="287.30" x2="783.30" y2="361.30" stroke="#8b0000" stroke-width="2.6" />
<line x1="798.20" y1="336.40" x2="798.20" y2="360.00" stroke="#8b0000" stroke-width="2.6" />
<line x1="827.50" y1="403.80" x2="827.50" y2="443.90" stroke="#8b0000" stroke-width="2.6" />
<line x1="856.00" y1="310.50" x2="856.00" y2="354.00" stroke="#8b0000" stroke-width="2.6" />
<line x1="885.00" y1="269.80" x2="885.00" y2="335.00" stroke="#8b0000" stroke-width="2.6" />
<line x1="914.20" y1="218.00" x2="914.20" y2="281.00" stroke="#8b0000" stroke-width="2.6" />
<line x1="943.50" y1="176.40" x2="943.50" y2="226.40" stroke="#8b0000" stroke-width="2.6" />
<line x1="972.30" y1="132.80" x2="972.30" y2="159.00" stroke="#8b0000" stroke-width="2.6" />
<line x1="1001.50" y1="136.00" x2="1001.50" y2="151.00" stroke="#8b0000" stroke-width="2.6" />
<path d="M652.7,136.7 L667.1,120.4 L681.8,137.8 L696.3,173.5 L710.7,150.4 L724.9,208.5 L740.0,202.5 L753.6,274.0 L769.1,275.8 L783.3,324.0 L798.2,348.3 L827.5,423.5 L856.0,333.0 L885.0,302.3 L914.2,249.5 L943.5,201.0 L972.3,145.6 L1001.5,143.5" fill="none" stroke="#8b0000" stroke-width="2.6" stroke-linejoin="round"/>
<circle cx="652.7" cy="136.7" r="7.6" fill="#cd5c5c" stroke="#8b0000" stroke-width="2.6"/>
<circle cx="667.1" cy="120.4" r="7.6" fill="#cd5c5c" stroke="#8b0000" stroke-width="2.6"/>
<circle cx="681.8" cy="137.8" r="7.6" fill="#cd5c5c" stroke="#8b0000" stroke-width="2.6"/>
<circle cx="696.3" cy="173.5" r="7.6" fill="#cd5c5c" stroke="#8b0000" stroke-width="2.6"/>
<circle cx="710.7" cy="150.4" r="7.6" fill="#cd5c5c" stroke="#8b0000" stroke-width="2.6"/>
<circle cx="724.9" cy="208.5" r="7.6" fill="#cd5c5c" stroke="#8b0000" stroke-width="2.6"/>
<circle cx="740.0" cy="202.5" r="7.6" fill="#cd5c5c" stroke="#8b0000" stroke-width="2.6"/>
<circle cx="753.6" cy="274.0" r="7.6" fill="#cd5c5c" stroke="#8b0000" stroke-width="2.6"/>
<circle cx="769.1" cy="275.8" r="7.6" fill="#cd5c5c" stroke="#8b0000" stroke-width="2.6"/>
<circle cx="783.3" cy="324.0" r="7.6" fill="#cd5c5c" stroke="#8b0000" stroke-width="2.6"/>
<circle cx="798.2" cy="348.3" r="7.6" fill="#cd5c5c" stroke="#8b0000" stroke-width="2.6"/>
<circle cx="827.5" cy="423.5" r="7.6" fill="#cd5c5c" stroke="#8b0000" stroke-width="2.6"/>
<circle cx="856.0" cy="333.0" r="7.6" fill="#cd5c5c" stroke="#8b0000" stroke-width="2.6"/>
<circle cx="885.0" cy="302.3" r="7.6" fill="#cd5c5c" stroke="#8b0000" stroke-width="2.6"/>
<circle cx="914.2" cy="249.5" r="7.6" fill="#cd5c5c" stroke="#8b0000" stroke-width="2.6"/>
<circle cx="943.5" cy="201.0" r="7.6" fill="#cd5c5c" stroke="#8b0000" stroke-width="2.6"/>
<circle cx="972.3" cy="145.6" r="7.6" fill="#cd5c5c" stroke="#8b0000" stroke-width="2.6"/>
<circle cx="1001.5" cy="143.5" r="7.6" fill="#cd5c5c" stroke="#8b0000" stroke-width="2.6"/>
</g>
<rect x="634.0" y="26.0" width="414.30" height="437.30" fill="none" stroke="#000" stroke-width="1.5"/>
<line x1="623.40" y1="423.20" x2="634.00" y2="423.20" stroke="#000" stroke-width="1.5" />
<text x="611.50" y="430.00" font-size="23" text-anchor="end" >0</text>
<line x1="623.40" y1="353.25" x2="634.00" y2="353.25" stroke="#000" stroke-width="1.5" />
<path transform="translate(609.6,359.25)" d="M0,-15.60 L0,0 L-2.30,0 L-2.30,-12.40 C-3.30,-11.90 -4.60,-11.60 -5.80,-11.40 L-5.80,-13.40 C-4.20,-13.70 -3.00,-14.60 -2.30,-15.60 Z" fill="#000"/>
<line x1="623.40" y1="283.30" x2="634.00" y2="283.30" stroke="#000" stroke-width="1.5" />
<text x="611.50" y="290.10" font-size="23" text-anchor="end" >2</text>
<line x1="623.40" y1="213.35" x2="634.00" y2="213.35" stroke="#000" stroke-width="1.5" />
<text x="611.50" y="220.15" font-size="23" text-anchor="end" >3</text>
<line x1="623.40" y1="143.40" x2="634.00" y2="143.40" stroke="#000" stroke-width="1.5" />
<text x="611.50" y="150.20" font-size="23" text-anchor="end" >4</text>
<line x1="623.40" y1="73.45" x2="634.00" y2="73.45" stroke="#000" stroke-width="1.5" />
<text x="611.50" y="80.25" font-size="23" text-anchor="end" >5</text>
<line x1="638.00" y1="463.30" x2="638.00" y2="473.70" stroke="#000" stroke-width="1.5" />
<text x="637.70" y="504.00" font-size="23" text-anchor="middle" >−5</text>
<line x1="827.50" y1="463.30" x2="827.50" y2="473.70" stroke="#000" stroke-width="1.5" />
<text x="827.20" y="504.00" font-size="23" text-anchor="middle" >0</text>
<line x1="1017.00" y1="463.30" x2="1017.00" y2="473.70" stroke="#000" stroke-width="1.5" />
<text x="1016.70" y="504.00" font-size="23" text-anchor="middle" >5</text>
<line x1="785.90" y1="60.90" x2="844.20" y2="60.90" stroke="#00008b" stroke-width="2.6" />
<line x1="815.20" y1="47.20" x2="815.20" y2="74.60" stroke="#00008b" stroke-width="2.6" />
<circle cx="815.2" cy="60.9" r="7.6" fill="#4169e1" stroke="#00008b" stroke-width="2.6"/>
<text x="858.60" y="70.70" font-size="27.5" text-anchor="start" textLength="29" lengthAdjust="spacingAndGlyphs" >3L</text>
<line x1="785.90" y1="106.70" x2="844.20" y2="106.70" stroke="#8b0000" stroke-width="2.6" />
<line x1="815.20" y1="93.00" x2="815.20" y2="120.40" stroke="#8b0000" stroke-width="2.6" />
<circle cx="815.2" cy="106.7" r="7.6" fill="#cd5c5c" stroke="#8b0000" stroke-width="2.6"/>
<text x="858.60" y="116.50" font-size="27.5" text-anchor="start" textLength="29" lengthAdjust="spacingAndGlyphs" >5L</text>
</svg></body></html>
